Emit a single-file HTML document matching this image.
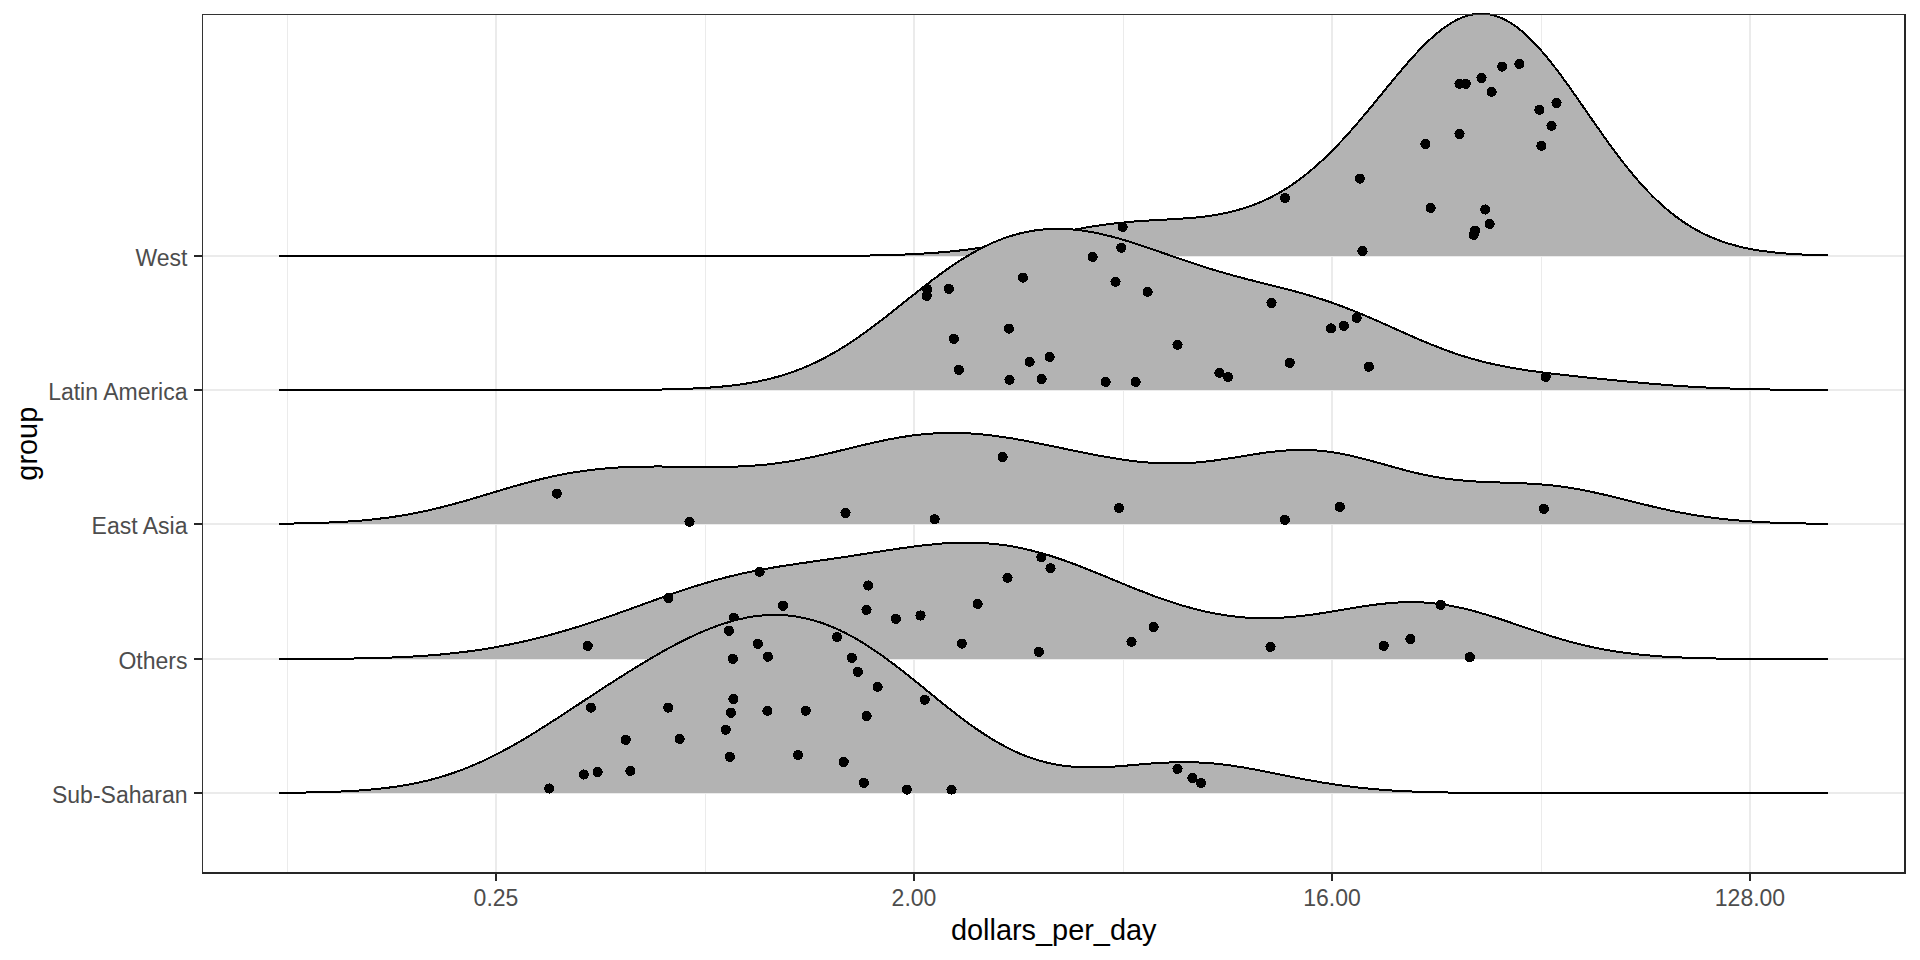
<!DOCTYPE html>
<html><head><meta charset="utf-8"><title>ridges</title>
<style>html,body{margin:0;padding:0;background:#fff;overflow:hidden;width:1920px;height:960px}svg{display:block}</style>
</head><body>
<svg width="1920" height="960" viewBox="0 0 1920 960">
<rect x="0" y="0" width="1920" height="960" fill="#FFFFFF"/>
<g fill="#EBEBEB" shape-rendering="crispEdges"><rect x="287.0" y="14" width="1" height="860"/><rect x="705.0" y="14" width="1" height="860"/><rect x="1123.0" y="14" width="1" height="860"/><rect x="1541.0" y="14" width="1" height="860"/><rect x="495" y="14" width="2" height="860"/><rect x="913" y="14" width="2" height="860"/><rect x="1331" y="14" width="2" height="860"/><rect x="1749" y="14" width="2" height="860"/><rect x="202" y="255" width="1704" height="2"/><rect x="202" y="389" width="1704" height="2"/><rect x="202" y="523" width="1704" height="2"/><rect x="202" y="658" width="1704" height="2"/><rect x="202" y="792" width="1704" height="2"/></g>
<path d="M279.3,256.0 L280.8,256.0 282.3,256.0 283.8,256.0 285.3,256.0 286.8,256.0 288.3,256.0 289.8,256.0 291.3,256.0 292.8,256.0 294.3,256.0 295.8,256.0 297.3,256.0 298.8,256.0 300.3,256.0 301.8,256.0 303.3,256.0 304.8,256.0 306.3,256.0 307.8,256.0 309.3,256.0 310.8,256.0 312.3,256.0 313.8,256.0 315.3,256.0 316.8,256.0 318.3,256.0 319.8,256.0 321.3,256.0 322.8,256.0 324.3,256.0 325.8,256.0 327.3,256.0 328.8,256.0 330.3,256.0 331.8,256.0 333.3,256.0 334.8,256.0 336.3,256.0 337.8,256.0 339.3,256.0 340.8,256.0 342.3,256.0 343.8,256.0 345.3,256.0 346.8,256.0 348.3,256.0 349.8,256.0 351.3,256.0 352.8,256.0 354.3,256.0 355.8,256.0 357.3,256.0 358.8,256.0 360.3,256.0 361.8,256.0 363.3,256.0 364.8,256.0 366.3,256.0 367.8,256.0 369.3,256.0 370.8,256.0 372.3,256.0 373.8,256.0 375.3,256.0 376.8,256.0 378.3,256.0 379.8,256.0 381.3,256.0 382.8,256.0 384.3,256.0 385.8,256.0 387.3,256.0 388.8,256.0 390.3,256.0 391.8,256.0 393.3,256.0 394.8,256.0 396.3,256.0 397.8,256.0 399.3,256.0 400.8,256.0 402.3,256.0 403.8,256.0 405.3,256.0 406.8,256.0 408.3,256.0 409.8,256.0 411.3,256.0 412.8,256.0 414.3,256.0 415.8,256.0 417.3,256.0 418.8,256.0 420.3,256.0 421.8,256.0 423.3,256.0 424.8,256.0 426.3,256.0 427.8,256.0 429.3,256.0 430.8,256.0 432.3,256.0 433.8,256.0 435.3,256.0 436.8,256.0 438.3,256.0 439.8,256.0 441.3,256.0 442.8,256.0 444.3,256.0 445.8,256.0 447.3,256.0 448.8,256.0 450.3,256.0 451.8,256.0 453.3,256.0 454.8,256.0 456.3,256.0 457.8,256.0 459.3,256.0 460.8,256.0 462.3,256.0 463.8,256.0 465.3,256.0 466.8,256.0 468.3,256.0 469.8,256.0 471.3,256.0 472.8,256.0 474.3,256.0 475.8,256.0 477.3,256.0 478.8,256.0 480.3,256.0 481.8,256.0 483.3,256.0 484.8,256.0 486.3,256.0 487.8,256.0 489.3,256.0 490.8,256.0 492.3,256.0 493.8,256.0 495.3,256.0 496.8,256.0 498.3,256.0 499.8,256.0 501.3,256.0 502.8,256.0 504.3,256.0 505.8,256.0 507.3,256.0 508.8,256.0 510.3,256.0 511.8,256.0 513.3,256.0 514.8,256.0 516.3,256.0 517.8,256.0 519.3,256.0 520.8,256.0 522.3,256.0 523.8,256.0 525.3,256.0 526.8,256.0 528.3,256.0 529.8,256.0 531.3,256.0 532.8,256.0 534.3,256.0 535.8,256.0 537.3,256.0 538.8,256.0 540.3,256.0 541.8,256.0 543.3,256.0 544.8,256.0 546.3,256.0 547.8,256.0 549.3,256.0 550.8,256.0 552.3,256.0 553.8,256.0 555.3,256.0 556.8,256.0 558.3,256.0 559.8,256.0 561.3,256.0 562.8,256.0 564.3,256.0 565.8,256.0 567.3,256.0 568.8,256.0 570.3,256.0 571.8,256.0 573.3,256.0 574.8,256.0 576.3,256.0 577.8,256.0 579.3,256.0 580.8,256.0 582.3,256.0 583.8,256.0 585.3,256.0 586.8,256.0 588.3,256.0 589.8,256.0 591.3,256.0 592.8,256.0 594.3,256.0 595.8,256.0 597.3,256.0 598.8,256.0 600.3,256.0 601.8,256.0 603.3,256.0 604.8,256.0 606.3,256.0 607.8,256.0 609.3,256.0 610.8,256.0 612.3,256.0 613.8,256.0 615.3,256.0 616.8,256.0 618.3,256.0 619.8,256.0 621.3,256.0 622.8,256.0 624.3,256.0 625.8,256.0 627.3,256.0 628.8,256.0 630.3,256.0 631.8,256.0 633.3,256.0 634.8,256.0 636.3,256.0 637.8,256.0 639.3,256.0 640.8,256.0 642.3,256.0 643.8,256.0 645.3,256.0 646.8,256.0 648.3,256.0 649.8,256.0 651.3,256.0 652.8,256.0 654.3,256.0 655.8,256.0 657.3,256.0 658.8,256.0 660.3,256.0 661.8,256.0 663.3,256.0 664.8,256.0 666.3,256.0 667.8,256.0 669.3,256.0 670.8,256.0 672.3,256.0 673.8,256.0 675.3,256.0 676.8,256.0 678.3,256.0 679.8,256.0 681.3,256.0 682.8,256.0 684.3,256.0 685.8,256.0 687.3,256.0 688.8,256.0 690.3,256.0 691.8,256.0 693.3,256.0 694.8,256.0 696.3,256.0 697.8,256.0 699.3,256.0 700.8,256.0 702.3,256.0 703.8,256.0 705.3,256.0 706.8,256.0 708.3,256.0 709.8,256.0 711.3,256.0 712.8,256.0 714.3,256.0 715.8,256.0 717.3,256.0 718.8,256.0 720.3,256.0 721.8,256.0 723.3,256.0 724.8,256.0 726.3,256.0 727.8,256.0 729.3,256.0 730.8,256.0 732.3,256.0 733.8,256.0 735.3,256.0 736.8,256.0 738.3,256.0 739.8,256.0 741.3,256.0 742.8,256.0 744.3,256.0 745.8,256.0 747.3,256.0 748.8,256.0 750.3,256.0 751.8,256.0 753.3,256.0 754.8,256.0 756.3,256.0 757.8,256.0 759.3,256.0 760.8,256.0 762.3,256.0 763.8,256.0 765.3,256.0 766.8,256.0 768.3,256.0 769.8,256.0 771.3,256.0 772.8,256.0 774.3,256.0 775.8,256.0 777.3,256.0 778.8,256.0 780.3,256.0 781.8,256.0 783.3,256.0 784.8,256.0 786.3,256.0 787.8,256.0 789.3,256.0 790.8,256.0 792.3,256.0 793.8,256.0 795.3,256.0 796.8,256.0 798.3,256.0 799.8,256.0 801.3,256.0 802.8,255.9 804.3,255.9 805.8,255.9 807.3,255.9 808.8,255.9 810.3,255.9 811.8,255.9 813.3,255.9 814.8,255.9 816.3,255.9 817.8,255.9 819.3,255.9 820.8,255.9 822.3,255.9 823.8,255.9 825.3,255.9 826.8,255.9 828.3,255.9 829.8,255.9 831.3,255.9 832.8,255.8 834.3,255.8 835.8,255.8 837.3,255.8 838.8,255.8 840.3,255.8 841.8,255.8 843.3,255.8 844.8,255.8 846.3,255.7 847.8,255.7 849.3,255.7 850.8,255.7 852.3,255.7 853.8,255.7 855.3,255.7 856.8,255.6 858.3,255.6 859.8,255.6 861.3,255.6 862.8,255.6 864.3,255.5 865.8,255.5 867.3,255.5 868.8,255.5 870.3,255.5 871.8,255.4 873.3,255.4 874.8,255.4 876.3,255.3 877.8,255.3 879.3,255.3 880.8,255.2 882.3,255.2 883.8,255.2 885.3,255.1 886.8,255.1 888.3,255.1 889.8,255.0 891.3,255.0 892.8,254.9 894.3,254.9 895.8,254.8 897.3,254.8 898.8,254.7 900.3,254.7 901.8,254.6 903.3,254.6 904.8,254.5 906.3,254.4 907.8,254.4 909.3,254.3 910.8,254.2 912.3,254.2 913.8,254.1 915.3,254.0 916.8,253.9 918.3,253.9 919.8,253.8 921.3,253.7 922.8,253.6 924.3,253.5 925.8,253.4 927.3,253.3 928.8,253.2 930.3,253.1 931.8,253.0 933.3,252.9 934.8,252.8 936.3,252.7 937.8,252.6 939.3,252.4 940.8,252.3 942.3,252.2 943.8,252.1 945.3,251.9 946.8,251.8 948.3,251.7 949.8,251.5 951.3,251.4 952.8,251.2 954.3,251.1 955.8,250.9 957.3,250.7 958.8,250.6 960.3,250.4 961.8,250.2 963.3,250.1 964.8,249.9 966.3,249.7 967.8,249.5 969.3,249.3 970.8,249.1 972.3,248.9 973.8,248.7 975.3,248.5 976.8,248.3 978.3,248.1 979.8,247.9 981.3,247.7 982.8,247.4 984.3,247.2 985.8,247.0 987.3,246.7 988.8,246.5 990.3,246.3 991.8,246.0 993.3,245.8 994.8,245.5 996.3,245.3 997.8,245.0 999.3,244.7 1000.8,244.5 1002.3,244.2 1003.8,243.9 1005.3,243.7 1006.8,243.4 1008.3,243.1 1009.8,242.8 1011.3,242.5 1012.8,242.2 1014.3,242.0 1015.8,241.7 1017.3,241.4 1018.8,241.1 1020.3,240.8 1021.8,240.5 1023.3,240.2 1024.8,239.9 1026.3,239.5 1027.8,239.2 1029.3,238.9 1030.8,238.6 1032.3,238.3 1033.8,238.0 1035.3,237.7 1036.8,237.4 1038.3,237.0 1039.8,236.7 1041.3,236.4 1042.8,236.1 1044.3,235.8 1045.8,235.5 1047.3,235.2 1048.8,234.8 1050.3,234.5 1051.8,234.2 1053.3,233.9 1054.8,233.6 1056.3,233.3 1057.8,233.0 1059.3,232.7 1060.8,232.4 1062.3,232.0 1063.8,231.7 1065.3,231.4 1066.8,231.1 1068.3,230.9 1069.8,230.6 1071.3,230.3 1072.8,230.0 1074.3,229.7 1075.8,229.4 1077.3,229.1 1078.8,228.9 1080.3,228.6 1081.8,228.3 1083.3,228.0 1084.8,227.8 1086.3,227.5 1087.8,227.3 1089.3,227.0 1090.8,226.8 1092.3,226.5 1093.8,226.3 1095.3,226.1 1096.8,225.8 1098.3,225.6 1099.8,225.4 1101.3,225.2 1102.8,225.0 1104.3,224.8 1105.8,224.5 1107.3,224.4 1108.8,224.2 1110.3,224.0 1111.8,223.8 1113.3,223.6 1114.8,223.4 1116.3,223.3 1117.8,223.1 1119.3,222.9 1120.8,222.8 1122.3,222.6 1123.8,222.5 1125.3,222.3 1126.8,222.2 1128.3,222.0 1129.8,221.9 1131.3,221.8 1132.8,221.7 1134.3,221.5 1135.8,221.4 1137.3,221.3 1138.8,221.2 1140.3,221.1 1141.8,221.0 1143.3,220.9 1144.8,220.8 1146.3,220.7 1147.8,220.6 1149.3,220.5 1150.8,220.4 1152.3,220.3 1153.8,220.2 1155.3,220.1 1156.8,220.1 1158.3,220.0 1159.8,219.9 1161.3,219.8 1162.8,219.7 1164.3,219.6 1165.8,219.6 1167.3,219.5 1168.8,219.4 1170.3,219.3 1171.8,219.2 1173.3,219.1 1174.8,219.0 1176.3,218.9 1177.8,218.9 1179.3,218.8 1180.8,218.7 1182.3,218.6 1183.8,218.4 1185.3,218.3 1186.8,218.2 1188.3,218.1 1189.8,218.0 1191.3,217.9 1192.8,217.7 1194.3,217.6 1195.8,217.5 1197.3,217.3 1198.8,217.2 1200.3,217.0 1201.8,216.8 1203.3,216.6 1204.8,216.5 1206.3,216.3 1207.8,216.1 1209.3,215.9 1210.8,215.7 1212.3,215.4 1213.8,215.2 1215.3,215.0 1216.8,214.7 1218.3,214.5 1219.8,214.2 1221.3,213.9 1222.8,213.6 1224.3,213.3 1225.8,213.0 1227.3,212.7 1228.8,212.3 1230.3,212.0 1231.8,211.6 1233.3,211.3 1234.8,210.9 1236.3,210.5 1237.8,210.1 1239.3,209.6 1240.8,209.2 1242.3,208.8 1243.8,208.3 1245.3,207.8 1246.8,207.3 1248.3,206.8 1249.8,206.3 1251.3,205.7 1252.8,205.2 1254.3,204.6 1255.8,204.0 1257.3,203.4 1258.8,202.8 1260.3,202.2 1261.8,201.5 1263.3,200.9 1264.8,200.2 1266.3,199.5 1267.8,198.8 1269.3,198.0 1270.8,197.3 1272.3,196.5 1273.8,195.7 1275.3,194.9 1276.8,194.1 1278.3,193.3 1279.8,192.4 1281.3,191.5 1282.8,190.6 1284.3,189.7 1285.8,188.8 1287.3,187.8 1288.8,186.9 1290.3,185.9 1291.8,184.9 1293.3,183.8 1294.8,182.8 1296.3,181.7 1297.8,180.6 1299.3,179.5 1300.8,178.4 1302.3,177.3 1303.8,176.1 1305.3,175.0 1306.8,173.8 1308.3,172.5 1309.8,171.3 1311.3,170.1 1312.8,168.8 1314.3,167.5 1315.8,166.2 1317.3,164.9 1318.8,163.5 1320.3,162.1 1321.8,160.8 1323.3,159.4 1324.8,157.9 1326.3,156.5 1327.8,155.1 1329.3,153.6 1330.8,152.1 1332.3,150.6 1333.8,149.1 1335.3,147.5 1336.8,146.0 1338.3,144.4 1339.8,142.8 1341.3,141.2 1342.8,139.6 1344.3,138.0 1345.8,136.3 1347.3,134.7 1348.8,133.0 1350.3,131.3 1351.8,129.6 1353.3,127.9 1354.8,126.2 1356.3,124.5 1357.8,122.7 1359.3,121.0 1360.8,119.2 1362.3,117.4 1363.8,115.6 1365.3,113.9 1366.8,112.1 1368.3,110.3 1369.8,108.4 1371.3,106.6 1372.8,104.8 1374.3,103.0 1375.8,101.2 1377.3,99.3 1378.8,97.5 1380.3,95.7 1381.8,93.8 1383.3,92.0 1384.8,90.1 1386.3,88.3 1387.8,86.5 1389.3,84.6 1390.8,82.8 1392.3,81.0 1393.8,79.2 1395.3,77.4 1396.8,75.6 1398.3,73.8 1399.8,72.0 1401.3,70.2 1402.8,68.5 1404.3,66.7 1405.8,65.0 1407.3,63.2 1408.8,61.5 1410.3,59.8 1411.8,58.2 1413.3,56.5 1414.8,54.9 1416.3,53.2 1417.8,51.6 1419.3,50.1 1420.8,48.5 1422.3,47.0 1423.8,45.4 1425.3,44.0 1426.8,42.5 1428.3,41.1 1429.8,39.6 1431.3,38.3 1432.8,36.9 1434.3,35.6 1435.8,34.3 1437.3,33.0 1438.8,31.8 1440.3,30.6 1441.8,29.5 1443.3,28.3 1444.8,27.3 1446.3,26.2 1447.8,25.2 1449.3,24.2 1450.8,23.3 1452.3,22.4 1453.8,21.5 1455.3,20.7 1456.8,19.9 1458.3,19.2 1459.8,18.5 1461.3,17.9 1462.8,17.3 1464.3,16.7 1465.8,16.2 1467.3,15.8 1468.8,15.3 1470.3,15.0 1471.8,14.6 1473.3,14.4 1474.8,14.1 1476.3,13.9 1477.8,13.8 1479.3,13.7 1480.8,13.7 1482.3,13.7 1483.8,13.8 1485.3,13.9 1486.8,14.0 1488.3,14.2 1489.8,14.5 1491.3,14.8 1492.8,15.1 1494.3,15.5 1495.8,16.0 1497.3,16.5 1498.8,17.0 1500.3,17.6 1501.8,18.2 1503.3,18.9 1504.8,19.7 1506.3,20.4 1507.8,21.3 1509.3,22.1 1510.8,23.1 1512.3,24.0 1513.8,25.0 1515.3,26.1 1516.8,27.2 1518.3,28.3 1519.8,29.5 1521.3,30.7 1522.8,32.0 1524.3,33.3 1525.8,34.6 1527.3,36.0 1528.8,37.4 1530.3,38.9 1531.8,40.4 1533.3,41.9 1534.8,43.5 1536.3,45.1 1537.8,46.7 1539.3,48.4 1540.8,50.1 1542.3,51.8 1543.8,53.5 1545.3,55.3 1546.8,57.1 1548.3,59.0 1549.8,60.8 1551.3,62.7 1552.8,64.6 1554.3,66.6 1555.8,68.5 1557.3,70.5 1558.8,72.5 1560.3,74.5 1561.8,76.5 1563.3,78.6 1564.8,80.6 1566.3,82.7 1567.8,84.8 1569.3,86.9 1570.8,89.0 1572.3,91.1 1573.8,93.3 1575.3,95.4 1576.8,97.6 1578.3,99.7 1579.8,101.9 1581.3,104.0 1582.8,106.2 1584.3,108.4 1585.8,110.5 1587.3,112.7 1588.8,114.9 1590.3,117.0 1591.8,119.2 1593.3,121.4 1594.8,123.5 1596.3,125.7 1597.8,127.8 1599.3,129.9 1600.8,132.1 1602.3,134.2 1603.8,136.3 1605.3,138.4 1606.8,140.5 1608.3,142.6 1609.8,144.6 1611.3,146.7 1612.8,148.7 1614.3,150.8 1615.8,152.8 1617.3,154.8 1618.8,156.8 1620.3,158.7 1621.8,160.7 1623.3,162.6 1624.8,164.5 1626.3,166.4 1627.8,168.3 1629.3,170.1 1630.8,172.0 1632.3,173.8 1633.8,175.6 1635.3,177.3 1636.8,179.1 1638.3,180.8 1639.8,182.5 1641.3,184.2 1642.8,185.9 1644.3,187.5 1645.8,189.1 1647.3,190.7 1648.8,192.3 1650.3,193.8 1651.8,195.4 1653.3,196.9 1654.8,198.3 1656.3,199.8 1657.8,201.2 1659.3,202.6 1660.8,204.0 1662.3,205.4 1663.8,206.7 1665.3,208.0 1666.8,209.3 1668.3,210.6 1669.8,211.8 1671.3,213.0 1672.8,214.2 1674.3,215.4 1675.8,216.5 1677.3,217.6 1678.8,218.7 1680.3,219.8 1681.8,220.9 1683.3,221.9 1684.8,222.9 1686.3,223.9 1687.8,224.8 1689.3,225.8 1690.8,226.7 1692.3,227.6 1693.8,228.5 1695.3,229.3 1696.8,230.2 1698.3,231.0 1699.8,231.8 1701.3,232.6 1702.8,233.3 1704.3,234.1 1705.8,234.8 1707.3,235.5 1708.8,236.2 1710.3,236.8 1711.8,237.5 1713.3,238.1 1714.8,238.7 1716.3,239.3 1717.8,239.9 1719.3,240.4 1720.8,241.0 1722.3,241.5 1723.8,242.0 1725.3,242.5 1726.8,243.0 1728.3,243.5 1729.8,243.9 1731.3,244.4 1732.8,244.8 1734.3,245.2 1735.8,245.6 1737.3,246.0 1738.8,246.4 1740.3,246.8 1741.8,247.1 1743.3,247.5 1744.8,247.8 1746.3,248.1 1747.8,248.4 1749.3,248.7 1750.8,249.0 1752.3,249.3 1753.8,249.6 1755.3,249.8 1756.8,250.1 1758.3,250.3 1759.8,250.6 1761.3,250.8 1762.8,251.0 1764.3,251.2 1765.8,251.4 1767.3,251.6 1768.8,251.8 1770.3,252.0 1771.8,252.1 1773.3,252.3 1774.8,252.5 1776.3,252.6 1777.8,252.8 1779.3,252.9 1780.8,253.1 1782.3,253.2 1783.8,253.3 1785.3,253.4 1786.8,253.6 1788.3,253.7 1789.8,253.8 1791.3,253.9 1792.8,254.0 1794.3,254.1 1795.8,254.2 1797.3,254.2 1798.8,254.3 1800.3,254.4 1801.8,254.5 1803.3,254.6 1804.8,254.6 1806.3,254.7 1807.8,254.8 1809.3,254.8 1810.8,254.9 1812.3,254.9 1813.8,255.0 1815.3,255.0 1816.8,255.1 1818.3,255.1 1819.8,255.2 1821.3,255.2 1822.8,255.3 1824.3,255.3 1825.8,255.3 1827.3,255.4 1828.2,255.4 L1828.2,256 L279.3,256 Z" fill="#B3B3B3" stroke="none" shape-rendering="crispEdges"/>
<path d="M279.3,256.0 L280.8,256.0 282.3,256.0 283.8,256.0 285.3,256.0 286.8,256.0 288.3,256.0 289.8,256.0 291.3,256.0 292.8,256.0 294.3,256.0 295.8,256.0 297.3,256.0 298.8,256.0 300.3,256.0 301.8,256.0 303.3,256.0 304.8,256.0 306.3,256.0 307.8,256.0 309.3,256.0 310.8,256.0 312.3,256.0 313.8,256.0 315.3,256.0 316.8,256.0 318.3,256.0 319.8,256.0 321.3,256.0 322.8,256.0 324.3,256.0 325.8,256.0 327.3,256.0 328.8,256.0 330.3,256.0 331.8,256.0 333.3,256.0 334.8,256.0 336.3,256.0 337.8,256.0 339.3,256.0 340.8,256.0 342.3,256.0 343.8,256.0 345.3,256.0 346.8,256.0 348.3,256.0 349.8,256.0 351.3,256.0 352.8,256.0 354.3,256.0 355.8,256.0 357.3,256.0 358.8,256.0 360.3,256.0 361.8,256.0 363.3,256.0 364.8,256.0 366.3,256.0 367.8,256.0 369.3,256.0 370.8,256.0 372.3,256.0 373.8,256.0 375.3,256.0 376.8,256.0 378.3,256.0 379.8,256.0 381.3,256.0 382.8,256.0 384.3,256.0 385.8,256.0 387.3,256.0 388.8,256.0 390.3,256.0 391.8,256.0 393.3,256.0 394.8,256.0 396.3,256.0 397.8,256.0 399.3,256.0 400.8,256.0 402.3,256.0 403.8,256.0 405.3,256.0 406.8,256.0 408.3,256.0 409.8,256.0 411.3,256.0 412.8,256.0 414.3,256.0 415.8,256.0 417.3,256.0 418.8,256.0 420.3,256.0 421.8,256.0 423.3,256.0 424.8,256.0 426.3,256.0 427.8,256.0 429.3,256.0 430.8,256.0 432.3,256.0 433.8,256.0 435.3,256.0 436.8,256.0 438.3,256.0 439.8,256.0 441.3,256.0 442.8,256.0 444.3,256.0 445.8,256.0 447.3,256.0 448.8,256.0 450.3,256.0 451.8,256.0 453.3,256.0 454.8,256.0 456.3,256.0 457.8,256.0 459.3,256.0 460.8,256.0 462.3,256.0 463.8,256.0 465.3,256.0 466.8,256.0 468.3,256.0 469.8,256.0 471.3,256.0 472.8,256.0 474.3,256.0 475.8,256.0 477.3,256.0 478.8,256.0 480.3,256.0 481.8,256.0 483.3,256.0 484.8,256.0 486.3,256.0 487.8,256.0 489.3,256.0 490.8,256.0 492.3,256.0 493.8,256.0 495.3,256.0 496.8,256.0 498.3,256.0 499.8,256.0 501.3,256.0 502.8,256.0 504.3,256.0 505.8,256.0 507.3,256.0 508.8,256.0 510.3,256.0 511.8,256.0 513.3,256.0 514.8,256.0 516.3,256.0 517.8,256.0 519.3,256.0 520.8,256.0 522.3,256.0 523.8,256.0 525.3,256.0 526.8,256.0 528.3,256.0 529.8,256.0 531.3,256.0 532.8,256.0 534.3,256.0 535.8,256.0 537.3,256.0 538.8,256.0 540.3,256.0 541.8,256.0 543.3,256.0 544.8,256.0 546.3,256.0 547.8,256.0 549.3,256.0 550.8,256.0 552.3,256.0 553.8,256.0 555.3,256.0 556.8,256.0 558.3,256.0 559.8,256.0 561.3,256.0 562.8,256.0 564.3,256.0 565.8,256.0 567.3,256.0 568.8,256.0 570.3,256.0 571.8,256.0 573.3,256.0 574.8,256.0 576.3,256.0 577.8,256.0 579.3,256.0 580.8,256.0 582.3,256.0 583.8,256.0 585.3,256.0 586.8,256.0 588.3,256.0 589.8,256.0 591.3,256.0 592.8,256.0 594.3,256.0 595.8,256.0 597.3,256.0 598.8,256.0 600.3,256.0 601.8,256.0 603.3,256.0 604.8,256.0 606.3,256.0 607.8,256.0 609.3,256.0 610.8,256.0 612.3,256.0 613.8,256.0 615.3,256.0 616.8,256.0 618.3,256.0 619.8,256.0 621.3,256.0 622.8,256.0 624.3,256.0 625.8,256.0 627.3,256.0 628.8,256.0 630.3,256.0 631.8,256.0 633.3,256.0 634.8,256.0 636.3,256.0 637.8,256.0 639.3,256.0 640.8,256.0 642.3,256.0 643.8,256.0 645.3,256.0 646.8,256.0 648.3,256.0 649.8,256.0 651.3,256.0 652.8,256.0 654.3,256.0 655.8,256.0 657.3,256.0 658.8,256.0 660.3,256.0 661.8,256.0 663.3,256.0 664.8,256.0 666.3,256.0 667.8,256.0 669.3,256.0 670.8,256.0 672.3,256.0 673.8,256.0 675.3,256.0 676.8,256.0 678.3,256.0 679.8,256.0 681.3,256.0 682.8,256.0 684.3,256.0 685.8,256.0 687.3,256.0 688.8,256.0 690.3,256.0 691.8,256.0 693.3,256.0 694.8,256.0 696.3,256.0 697.8,256.0 699.3,256.0 700.8,256.0 702.3,256.0 703.8,256.0 705.3,256.0 706.8,256.0 708.3,256.0 709.8,256.0 711.3,256.0 712.8,256.0 714.3,256.0 715.8,256.0 717.3,256.0 718.8,256.0 720.3,256.0 721.8,256.0 723.3,256.0 724.8,256.0 726.3,256.0 727.8,256.0 729.3,256.0 730.8,256.0 732.3,256.0 733.8,256.0 735.3,256.0 736.8,256.0 738.3,256.0 739.8,256.0 741.3,256.0 742.8,256.0 744.3,256.0 745.8,256.0 747.3,256.0 748.8,256.0 750.3,256.0 751.8,256.0 753.3,256.0 754.8,256.0 756.3,256.0 757.8,256.0 759.3,256.0 760.8,256.0 762.3,256.0 763.8,256.0 765.3,256.0 766.8,256.0 768.3,256.0 769.8,256.0 771.3,256.0 772.8,256.0 774.3,256.0 775.8,256.0 777.3,256.0 778.8,256.0 780.3,256.0 781.8,256.0 783.3,256.0 784.8,256.0 786.3,256.0 787.8,256.0 789.3,256.0 790.8,256.0 792.3,256.0 793.8,256.0 795.3,256.0 796.8,256.0 798.3,256.0 799.8,256.0 801.3,256.0 802.8,255.9 804.3,255.9 805.8,255.9 807.3,255.9 808.8,255.9 810.3,255.9 811.8,255.9 813.3,255.9 814.8,255.9 816.3,255.9 817.8,255.9 819.3,255.9 820.8,255.9 822.3,255.9 823.8,255.9 825.3,255.9 826.8,255.9 828.3,255.9 829.8,255.9 831.3,255.9 832.8,255.8 834.3,255.8 835.8,255.8 837.3,255.8 838.8,255.8 840.3,255.8 841.8,255.8 843.3,255.8 844.8,255.8 846.3,255.7 847.8,255.7 849.3,255.7 850.8,255.7 852.3,255.7 853.8,255.7 855.3,255.7 856.8,255.6 858.3,255.6 859.8,255.6 861.3,255.6 862.8,255.6 864.3,255.5 865.8,255.5 867.3,255.5 868.8,255.5 870.3,255.5 871.8,255.4 873.3,255.4 874.8,255.4 876.3,255.3 877.8,255.3 879.3,255.3 880.8,255.2 882.3,255.2 883.8,255.2 885.3,255.1 886.8,255.1 888.3,255.1 889.8,255.0 891.3,255.0 892.8,254.9 894.3,254.9 895.8,254.8 897.3,254.8 898.8,254.7 900.3,254.7 901.8,254.6 903.3,254.6 904.8,254.5 906.3,254.4 907.8,254.4 909.3,254.3 910.8,254.2 912.3,254.2 913.8,254.1 915.3,254.0 916.8,253.9 918.3,253.9 919.8,253.8 921.3,253.7 922.8,253.6 924.3,253.5 925.8,253.4 927.3,253.3 928.8,253.2 930.3,253.1 931.8,253.0 933.3,252.9 934.8,252.8 936.3,252.7 937.8,252.6 939.3,252.4 940.8,252.3 942.3,252.2 943.8,252.1 945.3,251.9 946.8,251.8 948.3,251.7 949.8,251.5 951.3,251.4 952.8,251.2 954.3,251.1 955.8,250.9 957.3,250.7 958.8,250.6 960.3,250.4 961.8,250.2 963.3,250.1 964.8,249.9 966.3,249.7 967.8,249.5 969.3,249.3 970.8,249.1 972.3,248.9 973.8,248.7 975.3,248.5 976.8,248.3 978.3,248.1 979.8,247.9 981.3,247.7 982.8,247.4 984.3,247.2 985.8,247.0 987.3,246.7 988.8,246.5 990.3,246.3 991.8,246.0 993.3,245.8 994.8,245.5 996.3,245.3 997.8,245.0 999.3,244.7 1000.8,244.5 1002.3,244.2 1003.8,243.9 1005.3,243.7 1006.8,243.4 1008.3,243.1 1009.8,242.8 1011.3,242.5 1012.8,242.2 1014.3,242.0 1015.8,241.7 1017.3,241.4 1018.8,241.1 1020.3,240.8 1021.8,240.5 1023.3,240.2 1024.8,239.9 1026.3,239.5 1027.8,239.2 1029.3,238.9 1030.8,238.6 1032.3,238.3 1033.8,238.0 1035.3,237.7 1036.8,237.4 1038.3,237.0 1039.8,236.7 1041.3,236.4 1042.8,236.1 1044.3,235.8 1045.8,235.5 1047.3,235.2 1048.8,234.8 1050.3,234.5 1051.8,234.2 1053.3,233.9 1054.8,233.6 1056.3,233.3 1057.8,233.0 1059.3,232.7 1060.8,232.4 1062.3,232.0 1063.8,231.7 1065.3,231.4 1066.8,231.1 1068.3,230.9 1069.8,230.6 1071.3,230.3 1072.8,230.0 1074.3,229.7 1075.8,229.4 1077.3,229.1 1078.8,228.9 1080.3,228.6 1081.8,228.3 1083.3,228.0 1084.8,227.8 1086.3,227.5 1087.8,227.3 1089.3,227.0 1090.8,226.8 1092.3,226.5 1093.8,226.3 1095.3,226.1 1096.8,225.8 1098.3,225.6 1099.8,225.4 1101.3,225.2 1102.8,225.0 1104.3,224.8 1105.8,224.5 1107.3,224.4 1108.8,224.2 1110.3,224.0 1111.8,223.8 1113.3,223.6 1114.8,223.4 1116.3,223.3 1117.8,223.1 1119.3,222.9 1120.8,222.8 1122.3,222.6 1123.8,222.5 1125.3,222.3 1126.8,222.2 1128.3,222.0 1129.8,221.9 1131.3,221.8 1132.8,221.7 1134.3,221.5 1135.8,221.4 1137.3,221.3 1138.8,221.2 1140.3,221.1 1141.8,221.0 1143.3,220.9 1144.8,220.8 1146.3,220.7 1147.8,220.6 1149.3,220.5 1150.8,220.4 1152.3,220.3 1153.8,220.2 1155.3,220.1 1156.8,220.1 1158.3,220.0 1159.8,219.9 1161.3,219.8 1162.8,219.7 1164.3,219.6 1165.8,219.6 1167.3,219.5 1168.8,219.4 1170.3,219.3 1171.8,219.2 1173.3,219.1 1174.8,219.0 1176.3,218.9 1177.8,218.9 1179.3,218.8 1180.8,218.7 1182.3,218.6 1183.8,218.4 1185.3,218.3 1186.8,218.2 1188.3,218.1 1189.8,218.0 1191.3,217.9 1192.8,217.7 1194.3,217.6 1195.8,217.5 1197.3,217.3 1198.8,217.2 1200.3,217.0 1201.8,216.8 1203.3,216.6 1204.8,216.5 1206.3,216.3 1207.8,216.1 1209.3,215.9 1210.8,215.7 1212.3,215.4 1213.8,215.2 1215.3,215.0 1216.8,214.7 1218.3,214.5 1219.8,214.2 1221.3,213.9 1222.8,213.6 1224.3,213.3 1225.8,213.0 1227.3,212.7 1228.8,212.3 1230.3,212.0 1231.8,211.6 1233.3,211.3 1234.8,210.9 1236.3,210.5 1237.8,210.1 1239.3,209.6 1240.8,209.2 1242.3,208.8 1243.8,208.3 1245.3,207.8 1246.8,207.3 1248.3,206.8 1249.8,206.3 1251.3,205.7 1252.8,205.2 1254.3,204.6 1255.8,204.0 1257.3,203.4 1258.8,202.8 1260.3,202.2 1261.8,201.5 1263.3,200.9 1264.8,200.2 1266.3,199.5 1267.8,198.8 1269.3,198.0 1270.8,197.3 1272.3,196.5 1273.8,195.7 1275.3,194.9 1276.8,194.1 1278.3,193.3 1279.8,192.4 1281.3,191.5 1282.8,190.6 1284.3,189.7 1285.8,188.8 1287.3,187.8 1288.8,186.9 1290.3,185.9 1291.8,184.9 1293.3,183.8 1294.8,182.8 1296.3,181.7 1297.8,180.6 1299.3,179.5 1300.8,178.4 1302.3,177.3 1303.8,176.1 1305.3,175.0 1306.8,173.8 1308.3,172.5 1309.8,171.3 1311.3,170.1 1312.8,168.8 1314.3,167.5 1315.8,166.2 1317.3,164.9 1318.8,163.5 1320.3,162.1 1321.8,160.8 1323.3,159.4 1324.8,157.9 1326.3,156.5 1327.8,155.1 1329.3,153.6 1330.8,152.1 1332.3,150.6 1333.8,149.1 1335.3,147.5 1336.8,146.0 1338.3,144.4 1339.8,142.8 1341.3,141.2 1342.8,139.6 1344.3,138.0 1345.8,136.3 1347.3,134.7 1348.8,133.0 1350.3,131.3 1351.8,129.6 1353.3,127.9 1354.8,126.2 1356.3,124.5 1357.8,122.7 1359.3,121.0 1360.8,119.2 1362.3,117.4 1363.8,115.6 1365.3,113.9 1366.8,112.1 1368.3,110.3 1369.8,108.4 1371.3,106.6 1372.8,104.8 1374.3,103.0 1375.8,101.2 1377.3,99.3 1378.8,97.5 1380.3,95.7 1381.8,93.8 1383.3,92.0 1384.8,90.1 1386.3,88.3 1387.8,86.5 1389.3,84.6 1390.8,82.8 1392.3,81.0 1393.8,79.2 1395.3,77.4 1396.8,75.6 1398.3,73.8 1399.8,72.0 1401.3,70.2 1402.8,68.5 1404.3,66.7 1405.8,65.0 1407.3,63.2 1408.8,61.5 1410.3,59.8 1411.8,58.2 1413.3,56.5 1414.8,54.9 1416.3,53.2 1417.8,51.6 1419.3,50.1 1420.8,48.5 1422.3,47.0 1423.8,45.4 1425.3,44.0 1426.8,42.5 1428.3,41.1 1429.8,39.6 1431.3,38.3 1432.8,36.9 1434.3,35.6 1435.8,34.3 1437.3,33.0 1438.8,31.8 1440.3,30.6 1441.8,29.5 1443.3,28.3 1444.8,27.3 1446.3,26.2 1447.8,25.2 1449.3,24.2 1450.8,23.3 1452.3,22.4 1453.8,21.5 1455.3,20.7 1456.8,19.9 1458.3,19.2 1459.8,18.5 1461.3,17.9 1462.8,17.3 1464.3,16.7 1465.8,16.2 1467.3,15.8 1468.8,15.3 1470.3,15.0 1471.8,14.6 1473.3,14.4 1474.8,14.1 1476.3,13.9 1477.8,13.8 1479.3,13.7 1480.8,13.7 1482.3,13.7 1483.8,13.8 1485.3,13.9 1486.8,14.0 1488.3,14.2 1489.8,14.5 1491.3,14.8 1492.8,15.1 1494.3,15.5 1495.8,16.0 1497.3,16.5 1498.8,17.0 1500.3,17.6 1501.8,18.2 1503.3,18.9 1504.8,19.7 1506.3,20.4 1507.8,21.3 1509.3,22.1 1510.8,23.1 1512.3,24.0 1513.8,25.0 1515.3,26.1 1516.8,27.2 1518.3,28.3 1519.8,29.5 1521.3,30.7 1522.8,32.0 1524.3,33.3 1525.8,34.6 1527.3,36.0 1528.8,37.4 1530.3,38.9 1531.8,40.4 1533.3,41.9 1534.8,43.5 1536.3,45.1 1537.8,46.7 1539.3,48.4 1540.8,50.1 1542.3,51.8 1543.8,53.5 1545.3,55.3 1546.8,57.1 1548.3,59.0 1549.8,60.8 1551.3,62.7 1552.8,64.6 1554.3,66.6 1555.8,68.5 1557.3,70.5 1558.8,72.5 1560.3,74.5 1561.8,76.5 1563.3,78.6 1564.8,80.6 1566.3,82.7 1567.8,84.8 1569.3,86.9 1570.8,89.0 1572.3,91.1 1573.8,93.3 1575.3,95.4 1576.8,97.6 1578.3,99.7 1579.8,101.9 1581.3,104.0 1582.8,106.2 1584.3,108.4 1585.8,110.5 1587.3,112.7 1588.8,114.9 1590.3,117.0 1591.8,119.2 1593.3,121.4 1594.8,123.5 1596.3,125.7 1597.8,127.8 1599.3,129.9 1600.8,132.1 1602.3,134.2 1603.8,136.3 1605.3,138.4 1606.8,140.5 1608.3,142.6 1609.8,144.6 1611.3,146.7 1612.8,148.7 1614.3,150.8 1615.8,152.8 1617.3,154.8 1618.8,156.8 1620.3,158.7 1621.8,160.7 1623.3,162.6 1624.8,164.5 1626.3,166.4 1627.8,168.3 1629.3,170.1 1630.8,172.0 1632.3,173.8 1633.8,175.6 1635.3,177.3 1636.8,179.1 1638.3,180.8 1639.8,182.5 1641.3,184.2 1642.8,185.9 1644.3,187.5 1645.8,189.1 1647.3,190.7 1648.8,192.3 1650.3,193.8 1651.8,195.4 1653.3,196.9 1654.8,198.3 1656.3,199.8 1657.8,201.2 1659.3,202.6 1660.8,204.0 1662.3,205.4 1663.8,206.7 1665.3,208.0 1666.8,209.3 1668.3,210.6 1669.8,211.8 1671.3,213.0 1672.8,214.2 1674.3,215.4 1675.8,216.5 1677.3,217.6 1678.8,218.7 1680.3,219.8 1681.8,220.9 1683.3,221.9 1684.8,222.9 1686.3,223.9 1687.8,224.8 1689.3,225.8 1690.8,226.7 1692.3,227.6 1693.8,228.5 1695.3,229.3 1696.8,230.2 1698.3,231.0 1699.8,231.8 1701.3,232.6 1702.8,233.3 1704.3,234.1 1705.8,234.8 1707.3,235.5 1708.8,236.2 1710.3,236.8 1711.8,237.5 1713.3,238.1 1714.8,238.7 1716.3,239.3 1717.8,239.9 1719.3,240.4 1720.8,241.0 1722.3,241.5 1723.8,242.0 1725.3,242.5 1726.8,243.0 1728.3,243.5 1729.8,243.9 1731.3,244.4 1732.8,244.8 1734.3,245.2 1735.8,245.6 1737.3,246.0 1738.8,246.4 1740.3,246.8 1741.8,247.1 1743.3,247.5 1744.8,247.8 1746.3,248.1 1747.8,248.4 1749.3,248.7 1750.8,249.0 1752.3,249.3 1753.8,249.6 1755.3,249.8 1756.8,250.1 1758.3,250.3 1759.8,250.6 1761.3,250.8 1762.8,251.0 1764.3,251.2 1765.8,251.4 1767.3,251.6 1768.8,251.8 1770.3,252.0 1771.8,252.1 1773.3,252.3 1774.8,252.5 1776.3,252.6 1777.8,252.8 1779.3,252.9 1780.8,253.1 1782.3,253.2 1783.8,253.3 1785.3,253.4 1786.8,253.6 1788.3,253.7 1789.8,253.8 1791.3,253.9 1792.8,254.0 1794.3,254.1 1795.8,254.2 1797.3,254.2 1798.8,254.3 1800.3,254.4 1801.8,254.5 1803.3,254.6 1804.8,254.6 1806.3,254.7 1807.8,254.8 1809.3,254.8 1810.8,254.9 1812.3,254.9 1813.8,255.0 1815.3,255.0 1816.8,255.1 1818.3,255.1 1819.8,255.2 1821.3,255.2 1822.8,255.3 1824.3,255.3 1825.8,255.3 1827.3,255.4 1828.2,255.4" fill="none" stroke="#000000" stroke-width="2" stroke-linejoin="round" shape-rendering="crispEdges"/>
<g fill="#000000" shape-rendering="crispEdges"><circle cx="1502.3" cy="66.6" r="5.1"/><circle cx="1519.4" cy="63.8" r="5.1"/><circle cx="1481.5" cy="77.9" r="5.1"/><circle cx="1459.5" cy="83.8" r="5.1"/><circle cx="1465.7" cy="83.8" r="5.1"/><circle cx="1491.6" cy="91.7" r="5.1"/><circle cx="1556.5" cy="102.9" r="5.1"/><circle cx="1539.4" cy="109.7" r="5.1"/><circle cx="1551.5" cy="125.7" r="5.1"/><circle cx="1459.5" cy="133.9" r="5.1"/><circle cx="1425.5" cy="144.0" r="5.1"/><circle cx="1541.4" cy="145.7" r="5.1"/><circle cx="1359.7" cy="178.6" r="5.1"/><circle cx="1430.6" cy="207.8" r="5.1"/><circle cx="1485.4" cy="209.5" r="5.1"/><circle cx="1489.6" cy="223.8" r="5.1"/><circle cx="1475.0" cy="230.6" r="5.1"/><circle cx="1473.6" cy="234.8" r="5.1"/><circle cx="1362.5" cy="251.1" r="5.1"/><circle cx="1285.0" cy="198.0" r="5.1"/><circle cx="1122.6" cy="226.8" r="5.1"/></g>
<path d="M279.3,390.0 L280.8,390.0 282.3,390.0 283.8,390.0 285.3,390.0 286.8,390.0 288.3,390.0 289.8,390.0 291.3,390.0 292.8,390.0 294.3,390.0 295.8,390.0 297.3,390.0 298.8,390.0 300.3,390.0 301.8,390.0 303.3,390.0 304.8,390.0 306.3,390.0 307.8,390.0 309.3,390.0 310.8,390.0 312.3,390.0 313.8,390.0 315.3,390.0 316.8,390.0 318.3,390.0 319.8,390.0 321.3,390.0 322.8,390.0 324.3,390.0 325.8,390.0 327.3,390.0 328.8,390.0 330.3,390.0 331.8,390.0 333.3,390.0 334.8,390.0 336.3,390.0 337.8,390.0 339.3,390.0 340.8,390.0 342.3,390.0 343.8,390.0 345.3,390.0 346.8,390.0 348.3,390.0 349.8,390.0 351.3,390.0 352.8,390.0 354.3,390.0 355.8,390.0 357.3,390.0 358.8,390.0 360.3,390.0 361.8,390.0 363.3,390.0 364.8,390.0 366.3,390.0 367.8,390.0 369.3,390.0 370.8,390.0 372.3,390.0 373.8,390.0 375.3,390.0 376.8,390.0 378.3,390.0 379.8,390.0 381.3,390.0 382.8,390.0 384.3,390.0 385.8,390.0 387.3,390.0 388.8,390.0 390.3,390.0 391.8,390.0 393.3,390.0 394.8,390.0 396.3,390.0 397.8,390.0 399.3,390.0 400.8,390.0 402.3,390.0 403.8,390.0 405.3,390.0 406.8,390.0 408.3,390.0 409.8,390.0 411.3,390.0 412.8,390.0 414.3,390.0 415.8,390.0 417.3,390.0 418.8,390.0 420.3,390.0 421.8,390.0 423.3,390.0 424.8,390.0 426.3,390.0 427.8,390.0 429.3,390.0 430.8,390.0 432.3,390.0 433.8,390.0 435.3,390.0 436.8,390.0 438.3,390.0 439.8,390.0 441.3,390.0 442.8,390.0 444.3,390.0 445.8,390.0 447.3,390.0 448.8,390.0 450.3,390.0 451.8,390.0 453.3,390.0 454.8,390.0 456.3,390.0 457.8,390.0 459.3,390.0 460.8,390.0 462.3,390.0 463.8,390.0 465.3,390.0 466.8,390.0 468.3,390.0 469.8,390.0 471.3,390.0 472.8,390.0 474.3,390.0 475.8,390.0 477.3,390.0 478.8,390.0 480.3,390.0 481.8,390.0 483.3,390.0 484.8,390.0 486.3,390.0 487.8,390.0 489.3,390.0 490.8,390.0 492.3,390.0 493.8,390.0 495.3,390.0 496.8,390.0 498.3,390.0 499.8,390.0 501.3,390.0 502.8,390.0 504.3,390.0 505.8,390.0 507.3,390.0 508.8,390.0 510.3,390.0 511.8,390.0 513.3,390.0 514.8,390.0 516.3,390.0 517.8,390.0 519.3,390.0 520.8,390.0 522.3,390.0 523.8,390.0 525.3,390.0 526.8,390.0 528.3,390.0 529.8,390.0 531.3,390.0 532.8,390.0 534.3,390.0 535.8,390.0 537.3,390.0 538.8,390.0 540.3,390.0 541.8,390.0 543.3,390.0 544.8,390.0 546.3,390.0 547.8,390.0 549.3,390.0 550.8,390.0 552.3,390.0 553.8,390.0 555.3,390.0 556.8,390.0 558.3,390.0 559.8,390.0 561.3,390.0 562.8,390.0 564.3,390.0 565.8,390.0 567.3,390.0 568.8,390.0 570.3,390.0 571.8,390.0 573.3,390.0 574.8,390.0 576.3,390.0 577.8,390.0 579.3,390.0 580.8,390.0 582.3,390.0 583.8,390.0 585.3,390.0 586.8,390.0 588.3,390.0 589.8,390.0 591.3,390.0 592.8,390.0 594.3,390.0 595.8,390.0 597.3,390.0 598.8,390.0 600.3,389.9 601.8,389.9 603.3,389.9 604.8,389.9 606.3,389.9 607.8,389.9 609.3,389.9 610.8,389.9 612.3,389.9 613.8,389.9 615.3,389.9 616.8,389.9 618.3,389.9 619.8,389.9 621.3,389.9 622.8,389.9 624.3,389.9 625.8,389.9 627.3,389.8 628.8,389.8 630.3,389.8 631.8,389.8 633.3,389.8 634.8,389.8 636.3,389.8 637.8,389.8 639.3,389.8 640.8,389.7 642.3,389.7 643.8,389.7 645.3,389.7 646.8,389.7 648.3,389.7 649.8,389.6 651.3,389.6 652.8,389.6 654.3,389.6 655.8,389.6 657.3,389.5 658.8,389.5 660.3,389.5 661.8,389.5 663.3,389.4 664.8,389.4 666.3,389.4 667.8,389.3 669.3,389.3 670.8,389.3 672.3,389.2 673.8,389.2 675.3,389.2 676.8,389.1 678.3,389.1 679.8,389.0 681.3,389.0 682.8,388.9 684.3,388.9 685.8,388.8 687.3,388.8 688.8,388.7 690.3,388.6 691.8,388.6 693.3,388.5 694.8,388.4 696.3,388.4 697.8,388.3 699.3,388.2 700.8,388.1 702.3,388.0 703.8,387.9 705.3,387.9 706.8,387.8 708.3,387.7 709.8,387.6 711.3,387.4 712.8,387.3 714.3,387.2 715.8,387.1 717.3,387.0 718.8,386.9 720.3,386.7 721.8,386.6 723.3,386.4 724.8,386.3 726.3,386.1 727.8,386.0 729.3,385.8 730.8,385.6 732.3,385.5 733.8,385.3 735.3,385.1 736.8,384.9 738.3,384.7 739.8,384.5 741.3,384.3 742.8,384.1 744.3,383.8 745.8,383.6 747.3,383.4 748.8,383.1 750.3,382.9 751.8,382.6 753.3,382.3 754.8,382.1 756.3,381.8 757.8,381.5 759.3,381.2 760.8,380.9 762.3,380.5 763.8,380.2 765.3,379.9 766.8,379.5 768.3,379.2 769.8,378.8 771.3,378.4 772.8,378.0 774.3,377.6 775.8,377.2 777.3,376.8 778.8,376.4 780.3,375.9 781.8,375.5 783.3,375.0 784.8,374.6 786.3,374.1 787.8,373.6 789.3,373.1 790.8,372.6 792.3,372.1 793.8,371.5 795.3,371.0 796.8,370.4 798.3,369.8 799.8,369.3 801.3,368.7 802.8,368.1 804.3,367.4 805.8,366.8 807.3,366.2 808.8,365.5 810.3,364.9 811.8,364.2 813.3,363.5 814.8,362.8 816.3,362.1 817.8,361.3 819.3,360.6 820.8,359.8 822.3,359.1 823.8,358.3 825.3,357.5 826.8,356.7 828.3,355.9 829.8,355.1 831.3,354.2 832.8,353.4 834.3,352.5 835.8,351.6 837.3,350.8 838.8,349.9 840.3,348.9 841.8,348.0 843.3,347.1 844.8,346.2 846.3,345.2 847.8,344.2 849.3,343.3 850.8,342.3 852.3,341.3 853.8,340.3 855.3,339.3 856.8,338.2 858.3,337.2 859.8,336.1 861.3,335.1 862.8,334.0 864.3,333.0 865.8,331.9 867.3,330.8 868.8,329.7 870.3,328.6 871.8,327.5 873.3,326.4 874.8,325.2 876.3,324.1 877.8,323.0 879.3,321.8 880.8,320.7 882.3,319.5 883.8,318.3 885.3,317.2 886.8,316.0 888.3,314.8 889.8,313.7 891.3,312.5 892.8,311.3 894.3,310.1 895.8,308.9 897.3,307.7 898.8,306.5 900.3,305.3 901.8,304.1 903.3,302.9 904.8,301.7 906.3,300.5 907.8,299.3 909.3,298.1 910.8,296.9 912.3,295.8 913.8,294.6 915.3,293.4 916.8,292.2 918.3,291.0 919.8,289.8 921.3,288.6 922.8,287.5 924.3,286.3 925.8,285.1 927.3,284.0 928.8,282.8 930.3,281.7 931.8,280.5 933.3,279.4 934.8,278.3 936.3,277.2 937.8,276.0 939.3,274.9 940.8,273.8 942.3,272.7 943.8,271.7 945.3,270.6 946.8,269.5 948.3,268.5 949.8,267.4 951.3,266.4 952.8,265.4 954.3,264.4 955.8,263.4 957.3,262.4 958.8,261.4 960.3,260.4 961.8,259.5 963.3,258.5 964.8,257.6 966.3,256.7 967.8,255.8 969.3,254.9 970.8,254.0 972.3,253.2 973.8,252.3 975.3,251.5 976.8,250.6 978.3,249.8 979.8,249.0 981.3,248.3 982.8,247.5 984.3,246.7 985.8,246.0 987.3,245.3 988.8,244.6 990.3,243.9 991.8,243.2 993.3,242.5 994.8,241.9 996.3,241.3 997.8,240.6 999.3,240.0 1000.8,239.5 1002.3,238.9 1003.8,238.3 1005.3,237.8 1006.8,237.3 1008.3,236.8 1009.8,236.3 1011.3,235.8 1012.8,235.4 1014.3,234.9 1015.8,234.5 1017.3,234.1 1018.8,233.7 1020.3,233.3 1021.8,232.9 1023.3,232.6 1024.8,232.3 1026.3,232.0 1027.8,231.7 1029.3,231.4 1030.8,231.1 1032.3,230.8 1033.8,230.6 1035.3,230.4 1036.8,230.2 1038.3,230.0 1039.8,229.8 1041.3,229.7 1042.8,229.5 1044.3,229.4 1045.8,229.3 1047.3,229.2 1048.8,229.1 1050.3,229.0 1051.8,228.9 1053.3,228.9 1054.8,228.9 1056.3,228.8 1057.8,228.8 1059.3,228.8 1060.8,228.9 1062.3,228.9 1063.8,228.9 1065.3,229.0 1066.8,229.1 1068.3,229.2 1069.8,229.3 1071.3,229.4 1072.8,229.5 1074.3,229.7 1075.8,229.8 1077.3,230.0 1078.8,230.1 1080.3,230.3 1081.8,230.5 1083.3,230.7 1084.8,231.0 1086.3,231.2 1087.8,231.4 1089.3,231.7 1090.8,232.0 1092.3,232.2 1093.8,232.5 1095.3,232.8 1096.8,233.1 1098.3,233.4 1099.8,233.7 1101.3,234.1 1102.8,234.4 1104.3,234.8 1105.8,235.1 1107.3,235.5 1108.8,235.8 1110.3,236.2 1111.8,236.6 1113.3,237.0 1114.8,237.4 1116.3,237.8 1117.8,238.2 1119.3,238.7 1120.8,239.1 1122.3,239.5 1123.8,240.0 1125.3,240.4 1126.8,240.9 1128.3,241.3 1129.8,241.8 1131.3,242.3 1132.8,242.7 1134.3,243.2 1135.8,243.7 1137.3,244.2 1138.8,244.7 1140.3,245.2 1141.8,245.7 1143.3,246.2 1144.8,246.7 1146.3,247.2 1147.8,247.7 1149.3,248.2 1150.8,248.7 1152.3,249.2 1153.8,249.7 1155.3,250.3 1156.8,250.8 1158.3,251.3 1159.8,251.8 1161.3,252.4 1162.8,252.9 1164.3,253.4 1165.8,253.9 1167.3,254.4 1168.8,255.0 1170.3,255.5 1171.8,256.0 1173.3,256.5 1174.8,257.1 1176.3,257.6 1177.8,258.1 1179.3,258.6 1180.8,259.1 1182.3,259.6 1183.8,260.2 1185.3,260.7 1186.8,261.2 1188.3,261.7 1189.8,262.2 1191.3,262.7 1192.8,263.2 1194.3,263.7 1195.8,264.2 1197.3,264.7 1198.8,265.2 1200.3,265.6 1201.8,266.1 1203.3,266.6 1204.8,267.1 1206.3,267.6 1207.8,268.0 1209.3,268.5 1210.8,269.0 1212.3,269.4 1213.8,269.9 1215.3,270.3 1216.8,270.8 1218.3,271.2 1219.8,271.7 1221.3,272.1 1222.8,272.5 1224.3,273.0 1225.8,273.4 1227.3,273.8 1228.8,274.2 1230.3,274.7 1231.8,275.1 1233.3,275.5 1234.8,275.9 1236.3,276.3 1237.8,276.7 1239.3,277.1 1240.8,277.5 1242.3,277.9 1243.8,278.3 1245.3,278.7 1246.8,279.1 1248.3,279.5 1249.8,279.9 1251.3,280.2 1252.8,280.6 1254.3,281.0 1255.8,281.4 1257.3,281.8 1258.8,282.1 1260.3,282.5 1261.8,282.9 1263.3,283.3 1264.8,283.6 1266.3,284.0 1267.8,284.4 1269.3,284.8 1270.8,285.1 1272.3,285.5 1273.8,285.9 1275.3,286.3 1276.8,286.7 1278.3,287.0 1279.8,287.4 1281.3,287.8 1282.8,288.2 1284.3,288.6 1285.8,289.0 1287.3,289.3 1288.8,289.7 1290.3,290.1 1291.8,290.5 1293.3,290.9 1294.8,291.3 1296.3,291.7 1297.8,292.2 1299.3,292.6 1300.8,293.0 1302.3,293.4 1303.8,293.8 1305.3,294.3 1306.8,294.7 1308.3,295.1 1309.8,295.6 1311.3,296.0 1312.8,296.5 1314.3,297.0 1315.8,297.4 1317.3,297.9 1318.8,298.4 1320.3,298.8 1321.8,299.3 1323.3,299.8 1324.8,300.3 1326.3,300.8 1327.8,301.3 1329.3,301.8 1330.8,302.3 1332.3,302.9 1333.8,303.4 1335.3,303.9 1336.8,304.5 1338.3,305.0 1339.8,305.6 1341.3,306.1 1342.8,306.7 1344.3,307.2 1345.8,307.8 1347.3,308.4 1348.8,309.0 1350.3,309.6 1351.8,310.1 1353.3,310.7 1354.8,311.3 1356.3,312.0 1357.8,312.6 1359.3,313.2 1360.8,313.8 1362.3,314.4 1363.8,315.1 1365.3,315.7 1366.8,316.3 1368.3,317.0 1369.8,317.6 1371.3,318.3 1372.8,318.9 1374.3,319.6 1375.8,320.2 1377.3,320.9 1378.8,321.5 1380.3,322.2 1381.8,322.9 1383.3,323.5 1384.8,324.2 1386.3,324.9 1387.8,325.5 1389.3,326.2 1390.8,326.9 1392.3,327.6 1393.8,328.2 1395.3,328.9 1396.8,329.6 1398.3,330.3 1399.8,330.9 1401.3,331.6 1402.8,332.3 1404.3,332.9 1405.8,333.6 1407.3,334.3 1408.8,334.9 1410.3,335.6 1411.8,336.3 1413.3,336.9 1414.8,337.6 1416.3,338.2 1417.8,338.9 1419.3,339.5 1420.8,340.1 1422.3,340.8 1423.8,341.4 1425.3,342.0 1426.8,342.7 1428.3,343.3 1429.8,343.9 1431.3,344.5 1432.8,345.1 1434.3,345.7 1435.8,346.3 1437.3,346.9 1438.8,347.5 1440.3,348.1 1441.8,348.6 1443.3,349.2 1444.8,349.8 1446.3,350.3 1447.8,350.8 1449.3,351.4 1450.8,351.9 1452.3,352.4 1453.8,353.0 1455.3,353.5 1456.8,354.0 1458.3,354.5 1459.8,355.0 1461.3,355.5 1462.8,355.9 1464.3,356.4 1465.8,356.9 1467.3,357.3 1468.8,357.8 1470.3,358.2 1471.8,358.7 1473.3,359.1 1474.8,359.5 1476.3,359.9 1477.8,360.3 1479.3,360.7 1480.8,361.1 1482.3,361.5 1483.8,361.9 1485.3,362.3 1486.8,362.6 1488.3,363.0 1489.8,363.3 1491.3,363.7 1492.8,364.0 1494.3,364.4 1495.8,364.7 1497.3,365.0 1498.8,365.3 1500.3,365.6 1501.8,365.9 1503.3,366.2 1504.8,366.5 1506.3,366.8 1507.8,367.1 1509.3,367.4 1510.8,367.7 1512.3,367.9 1513.8,368.2 1515.3,368.4 1516.8,368.7 1518.3,368.9 1519.8,369.2 1521.3,369.4 1522.8,369.7 1524.3,369.9 1525.8,370.1 1527.3,370.3 1528.8,370.6 1530.3,370.8 1531.8,371.0 1533.3,371.2 1534.8,371.4 1536.3,371.6 1537.8,371.8 1539.3,372.0 1540.8,372.2 1542.3,372.4 1543.8,372.6 1545.3,372.8 1546.8,373.0 1548.3,373.2 1549.8,373.3 1551.3,373.5 1552.8,373.7 1554.3,373.9 1555.8,374.1 1557.3,374.2 1558.8,374.4 1560.3,374.6 1561.8,374.7 1563.3,374.9 1564.8,375.1 1566.3,375.2 1567.8,375.4 1569.3,375.6 1570.8,375.7 1572.3,375.9 1573.8,376.1 1575.3,376.2 1576.8,376.4 1578.3,376.5 1579.8,376.7 1581.3,376.9 1582.8,377.0 1584.3,377.2 1585.8,377.3 1587.3,377.5 1588.8,377.7 1590.3,377.8 1591.8,378.0 1593.3,378.1 1594.8,378.3 1596.3,378.4 1597.8,378.6 1599.3,378.7 1600.8,378.9 1602.3,379.0 1603.8,379.2 1605.3,379.4 1606.8,379.5 1608.3,379.7 1609.8,379.8 1611.3,380.0 1612.8,380.1 1614.3,380.3 1615.8,380.4 1617.3,380.6 1618.8,380.7 1620.3,380.9 1621.8,381.0 1623.3,381.1 1624.8,381.3 1626.3,381.4 1627.8,381.6 1629.3,381.7 1630.8,381.9 1632.3,382.0 1633.8,382.2 1635.3,382.3 1636.8,382.4 1638.3,382.6 1639.8,382.7 1641.3,382.8 1642.8,383.0 1644.3,383.1 1645.8,383.3 1647.3,383.4 1648.8,383.5 1650.3,383.7 1651.8,383.8 1653.3,383.9 1654.8,384.0 1656.3,384.2 1657.8,384.3 1659.3,384.4 1660.8,384.5 1662.3,384.7 1663.8,384.8 1665.3,384.9 1666.8,385.0 1668.3,385.1 1669.8,385.2 1671.3,385.3 1672.8,385.5 1674.3,385.6 1675.8,385.7 1677.3,385.8 1678.8,385.9 1680.3,386.0 1681.8,386.1 1683.3,386.2 1684.8,386.3 1686.3,386.4 1687.8,386.5 1689.3,386.6 1690.8,386.7 1692.3,386.7 1693.8,386.8 1695.3,386.9 1696.8,387.0 1698.3,387.1 1699.8,387.2 1701.3,387.3 1702.8,387.3 1704.3,387.4 1705.8,387.5 1707.3,387.6 1708.8,387.6 1710.3,387.7 1711.8,387.8 1713.3,387.8 1714.8,387.9 1716.3,388.0 1717.8,388.0 1719.3,388.1 1720.8,388.2 1722.3,388.2 1723.8,388.3 1725.3,388.3 1726.8,388.4 1728.3,388.4 1729.8,388.5 1731.3,388.5 1732.8,388.6 1734.3,388.6 1735.8,388.7 1737.3,388.7 1738.8,388.8 1740.3,388.8 1741.8,388.9 1743.3,388.9 1744.8,388.9 1746.3,389.0 1747.8,389.0 1749.3,389.1 1750.8,389.1 1752.3,389.1 1753.8,389.2 1755.3,389.2 1756.8,389.2 1758.3,389.2 1759.8,389.3 1761.3,389.3 1762.8,389.3 1764.3,389.4 1765.8,389.4 1767.3,389.4 1768.8,389.4 1770.3,389.5 1771.8,389.5 1773.3,389.5 1774.8,389.5 1776.3,389.5 1777.8,389.6 1779.3,389.6 1780.8,389.6 1782.3,389.6 1783.8,389.6 1785.3,389.6 1786.8,389.7 1788.3,389.7 1789.8,389.7 1791.3,389.7 1792.8,389.7 1794.3,389.7 1795.8,389.7 1797.3,389.8 1798.8,389.8 1800.3,389.8 1801.8,389.8 1803.3,389.8 1804.8,389.8 1806.3,389.8 1807.8,389.8 1809.3,389.8 1810.8,389.8 1812.3,389.8 1813.8,389.9 1815.3,389.9 1816.8,389.9 1818.3,389.9 1819.8,389.9 1821.3,389.9 1822.8,389.9 1824.3,389.9 1825.8,389.9 1827.3,389.9 1828.2,389.9 L1828.2,390 L279.3,390 Z" fill="#B3B3B3" stroke="none" shape-rendering="crispEdges"/>
<path d="M279.3,390.0 L280.8,390.0 282.3,390.0 283.8,390.0 285.3,390.0 286.8,390.0 288.3,390.0 289.8,390.0 291.3,390.0 292.8,390.0 294.3,390.0 295.8,390.0 297.3,390.0 298.8,390.0 300.3,390.0 301.8,390.0 303.3,390.0 304.8,390.0 306.3,390.0 307.8,390.0 309.3,390.0 310.8,390.0 312.3,390.0 313.8,390.0 315.3,390.0 316.8,390.0 318.3,390.0 319.8,390.0 321.3,390.0 322.8,390.0 324.3,390.0 325.8,390.0 327.3,390.0 328.8,390.0 330.3,390.0 331.8,390.0 333.3,390.0 334.8,390.0 336.3,390.0 337.8,390.0 339.3,390.0 340.8,390.0 342.3,390.0 343.8,390.0 345.3,390.0 346.8,390.0 348.3,390.0 349.8,390.0 351.3,390.0 352.8,390.0 354.3,390.0 355.8,390.0 357.3,390.0 358.8,390.0 360.3,390.0 361.8,390.0 363.3,390.0 364.8,390.0 366.3,390.0 367.8,390.0 369.3,390.0 370.8,390.0 372.3,390.0 373.8,390.0 375.3,390.0 376.8,390.0 378.3,390.0 379.8,390.0 381.3,390.0 382.8,390.0 384.3,390.0 385.8,390.0 387.3,390.0 388.8,390.0 390.3,390.0 391.8,390.0 393.3,390.0 394.8,390.0 396.3,390.0 397.8,390.0 399.3,390.0 400.8,390.0 402.3,390.0 403.8,390.0 405.3,390.0 406.8,390.0 408.3,390.0 409.8,390.0 411.3,390.0 412.8,390.0 414.3,390.0 415.8,390.0 417.3,390.0 418.8,390.0 420.3,390.0 421.8,390.0 423.3,390.0 424.8,390.0 426.3,390.0 427.8,390.0 429.3,390.0 430.8,390.0 432.3,390.0 433.8,390.0 435.3,390.0 436.8,390.0 438.3,390.0 439.8,390.0 441.3,390.0 442.8,390.0 444.3,390.0 445.8,390.0 447.3,390.0 448.8,390.0 450.3,390.0 451.8,390.0 453.3,390.0 454.8,390.0 456.3,390.0 457.8,390.0 459.3,390.0 460.8,390.0 462.3,390.0 463.8,390.0 465.3,390.0 466.8,390.0 468.3,390.0 469.8,390.0 471.3,390.0 472.8,390.0 474.3,390.0 475.8,390.0 477.3,390.0 478.8,390.0 480.3,390.0 481.8,390.0 483.3,390.0 484.8,390.0 486.3,390.0 487.8,390.0 489.3,390.0 490.8,390.0 492.3,390.0 493.8,390.0 495.3,390.0 496.8,390.0 498.3,390.0 499.8,390.0 501.3,390.0 502.8,390.0 504.3,390.0 505.8,390.0 507.3,390.0 508.8,390.0 510.3,390.0 511.8,390.0 513.3,390.0 514.8,390.0 516.3,390.0 517.8,390.0 519.3,390.0 520.8,390.0 522.3,390.0 523.8,390.0 525.3,390.0 526.8,390.0 528.3,390.0 529.8,390.0 531.3,390.0 532.8,390.0 534.3,390.0 535.8,390.0 537.3,390.0 538.8,390.0 540.3,390.0 541.8,390.0 543.3,390.0 544.8,390.0 546.3,390.0 547.8,390.0 549.3,390.0 550.8,390.0 552.3,390.0 553.8,390.0 555.3,390.0 556.8,390.0 558.3,390.0 559.8,390.0 561.3,390.0 562.8,390.0 564.3,390.0 565.8,390.0 567.3,390.0 568.8,390.0 570.3,390.0 571.8,390.0 573.3,390.0 574.8,390.0 576.3,390.0 577.8,390.0 579.3,390.0 580.8,390.0 582.3,390.0 583.8,390.0 585.3,390.0 586.8,390.0 588.3,390.0 589.8,390.0 591.3,390.0 592.8,390.0 594.3,390.0 595.8,390.0 597.3,390.0 598.8,390.0 600.3,389.9 601.8,389.9 603.3,389.9 604.8,389.9 606.3,389.9 607.8,389.9 609.3,389.9 610.8,389.9 612.3,389.9 613.8,389.9 615.3,389.9 616.8,389.9 618.3,389.9 619.8,389.9 621.3,389.9 622.8,389.9 624.3,389.9 625.8,389.9 627.3,389.8 628.8,389.8 630.3,389.8 631.8,389.8 633.3,389.8 634.8,389.8 636.3,389.8 637.8,389.8 639.3,389.8 640.8,389.7 642.3,389.7 643.8,389.7 645.3,389.7 646.8,389.7 648.3,389.7 649.8,389.6 651.3,389.6 652.8,389.6 654.3,389.6 655.8,389.6 657.3,389.5 658.8,389.5 660.3,389.5 661.8,389.5 663.3,389.4 664.8,389.4 666.3,389.4 667.8,389.3 669.3,389.3 670.8,389.3 672.3,389.2 673.8,389.2 675.3,389.2 676.8,389.1 678.3,389.1 679.8,389.0 681.3,389.0 682.8,388.9 684.3,388.9 685.8,388.8 687.3,388.8 688.8,388.7 690.3,388.6 691.8,388.6 693.3,388.5 694.8,388.4 696.3,388.4 697.8,388.3 699.3,388.2 700.8,388.1 702.3,388.0 703.8,387.9 705.3,387.9 706.8,387.8 708.3,387.7 709.8,387.6 711.3,387.4 712.8,387.3 714.3,387.2 715.8,387.1 717.3,387.0 718.8,386.9 720.3,386.7 721.8,386.6 723.3,386.4 724.8,386.3 726.3,386.1 727.8,386.0 729.3,385.8 730.8,385.6 732.3,385.5 733.8,385.3 735.3,385.1 736.8,384.9 738.3,384.7 739.8,384.5 741.3,384.3 742.8,384.1 744.3,383.8 745.8,383.6 747.3,383.4 748.8,383.1 750.3,382.9 751.8,382.6 753.3,382.3 754.8,382.1 756.3,381.8 757.8,381.5 759.3,381.2 760.8,380.9 762.3,380.5 763.8,380.2 765.3,379.9 766.8,379.5 768.3,379.2 769.8,378.8 771.3,378.4 772.8,378.0 774.3,377.6 775.8,377.2 777.3,376.8 778.8,376.4 780.3,375.9 781.8,375.5 783.3,375.0 784.8,374.6 786.3,374.1 787.8,373.6 789.3,373.1 790.8,372.6 792.3,372.1 793.8,371.5 795.3,371.0 796.8,370.4 798.3,369.8 799.8,369.3 801.3,368.7 802.8,368.1 804.3,367.4 805.8,366.8 807.3,366.2 808.8,365.5 810.3,364.9 811.8,364.2 813.3,363.5 814.8,362.8 816.3,362.1 817.8,361.3 819.3,360.6 820.8,359.8 822.3,359.1 823.8,358.3 825.3,357.5 826.8,356.7 828.3,355.9 829.8,355.1 831.3,354.2 832.8,353.4 834.3,352.5 835.8,351.6 837.3,350.8 838.8,349.9 840.3,348.9 841.8,348.0 843.3,347.1 844.8,346.2 846.3,345.2 847.8,344.2 849.3,343.3 850.8,342.3 852.3,341.3 853.8,340.3 855.3,339.3 856.8,338.2 858.3,337.2 859.8,336.1 861.3,335.1 862.8,334.0 864.3,333.0 865.8,331.9 867.3,330.8 868.8,329.7 870.3,328.6 871.8,327.5 873.3,326.4 874.8,325.2 876.3,324.1 877.8,323.0 879.3,321.8 880.8,320.7 882.3,319.5 883.8,318.3 885.3,317.2 886.8,316.0 888.3,314.8 889.8,313.7 891.3,312.5 892.8,311.3 894.3,310.1 895.8,308.9 897.3,307.7 898.8,306.5 900.3,305.3 901.8,304.1 903.3,302.9 904.8,301.7 906.3,300.5 907.8,299.3 909.3,298.1 910.8,296.9 912.3,295.8 913.8,294.6 915.3,293.4 916.8,292.2 918.3,291.0 919.8,289.8 921.3,288.6 922.8,287.5 924.3,286.3 925.8,285.1 927.3,284.0 928.8,282.8 930.3,281.7 931.8,280.5 933.3,279.4 934.8,278.3 936.3,277.2 937.8,276.0 939.3,274.9 940.8,273.8 942.3,272.7 943.8,271.7 945.3,270.6 946.8,269.5 948.3,268.5 949.8,267.4 951.3,266.4 952.8,265.4 954.3,264.4 955.8,263.4 957.3,262.4 958.8,261.4 960.3,260.4 961.8,259.5 963.3,258.5 964.8,257.6 966.3,256.7 967.8,255.8 969.3,254.9 970.8,254.0 972.3,253.2 973.8,252.3 975.3,251.5 976.8,250.6 978.3,249.8 979.8,249.0 981.3,248.3 982.8,247.5 984.3,246.7 985.8,246.0 987.3,245.3 988.8,244.6 990.3,243.9 991.8,243.2 993.3,242.5 994.8,241.9 996.3,241.3 997.8,240.6 999.3,240.0 1000.8,239.5 1002.3,238.9 1003.8,238.3 1005.3,237.8 1006.8,237.3 1008.3,236.8 1009.8,236.3 1011.3,235.8 1012.8,235.4 1014.3,234.9 1015.8,234.5 1017.3,234.1 1018.8,233.7 1020.3,233.3 1021.8,232.9 1023.3,232.6 1024.8,232.3 1026.3,232.0 1027.8,231.7 1029.3,231.4 1030.8,231.1 1032.3,230.8 1033.8,230.6 1035.3,230.4 1036.8,230.2 1038.3,230.0 1039.8,229.8 1041.3,229.7 1042.8,229.5 1044.3,229.4 1045.8,229.3 1047.3,229.2 1048.8,229.1 1050.3,229.0 1051.8,228.9 1053.3,228.9 1054.8,228.9 1056.3,228.8 1057.8,228.8 1059.3,228.8 1060.8,228.9 1062.3,228.9 1063.8,228.9 1065.3,229.0 1066.8,229.1 1068.3,229.2 1069.8,229.3 1071.3,229.4 1072.8,229.5 1074.3,229.7 1075.8,229.8 1077.3,230.0 1078.8,230.1 1080.3,230.3 1081.8,230.5 1083.3,230.7 1084.8,231.0 1086.3,231.2 1087.8,231.4 1089.3,231.7 1090.8,232.0 1092.3,232.2 1093.8,232.5 1095.3,232.8 1096.8,233.1 1098.3,233.4 1099.8,233.7 1101.3,234.1 1102.8,234.4 1104.3,234.8 1105.8,235.1 1107.3,235.5 1108.8,235.8 1110.3,236.2 1111.8,236.6 1113.3,237.0 1114.8,237.4 1116.3,237.8 1117.8,238.2 1119.3,238.7 1120.8,239.1 1122.3,239.5 1123.8,240.0 1125.3,240.4 1126.8,240.9 1128.3,241.3 1129.8,241.8 1131.3,242.3 1132.8,242.7 1134.3,243.2 1135.8,243.7 1137.3,244.2 1138.8,244.7 1140.3,245.2 1141.8,245.7 1143.3,246.2 1144.8,246.7 1146.3,247.2 1147.8,247.7 1149.3,248.2 1150.8,248.7 1152.3,249.2 1153.8,249.7 1155.3,250.3 1156.8,250.8 1158.3,251.3 1159.8,251.8 1161.3,252.4 1162.8,252.9 1164.3,253.4 1165.8,253.9 1167.3,254.4 1168.8,255.0 1170.3,255.5 1171.8,256.0 1173.3,256.5 1174.8,257.1 1176.3,257.6 1177.8,258.1 1179.3,258.6 1180.8,259.1 1182.3,259.6 1183.8,260.2 1185.3,260.7 1186.8,261.2 1188.3,261.7 1189.8,262.2 1191.3,262.7 1192.8,263.2 1194.3,263.7 1195.8,264.2 1197.3,264.7 1198.8,265.2 1200.3,265.6 1201.8,266.1 1203.3,266.6 1204.8,267.1 1206.3,267.6 1207.8,268.0 1209.3,268.5 1210.8,269.0 1212.3,269.4 1213.8,269.9 1215.3,270.3 1216.8,270.8 1218.3,271.2 1219.8,271.7 1221.3,272.1 1222.8,272.5 1224.3,273.0 1225.8,273.4 1227.3,273.8 1228.8,274.2 1230.3,274.7 1231.8,275.1 1233.3,275.5 1234.8,275.9 1236.3,276.3 1237.8,276.7 1239.3,277.1 1240.8,277.5 1242.3,277.9 1243.8,278.3 1245.3,278.7 1246.8,279.1 1248.3,279.5 1249.8,279.9 1251.3,280.2 1252.8,280.6 1254.3,281.0 1255.8,281.4 1257.3,281.8 1258.8,282.1 1260.3,282.5 1261.8,282.9 1263.3,283.3 1264.8,283.6 1266.3,284.0 1267.8,284.4 1269.3,284.8 1270.8,285.1 1272.3,285.5 1273.8,285.9 1275.3,286.3 1276.8,286.7 1278.3,287.0 1279.8,287.4 1281.3,287.8 1282.8,288.2 1284.3,288.6 1285.8,289.0 1287.3,289.3 1288.8,289.7 1290.3,290.1 1291.8,290.5 1293.3,290.9 1294.8,291.3 1296.3,291.7 1297.8,292.2 1299.3,292.6 1300.8,293.0 1302.3,293.4 1303.8,293.8 1305.3,294.3 1306.8,294.7 1308.3,295.1 1309.8,295.6 1311.3,296.0 1312.8,296.5 1314.3,297.0 1315.8,297.4 1317.3,297.9 1318.8,298.4 1320.3,298.8 1321.8,299.3 1323.3,299.8 1324.8,300.3 1326.3,300.8 1327.8,301.3 1329.3,301.8 1330.8,302.3 1332.3,302.9 1333.8,303.4 1335.3,303.9 1336.8,304.5 1338.3,305.0 1339.8,305.6 1341.3,306.1 1342.8,306.7 1344.3,307.2 1345.8,307.8 1347.3,308.4 1348.8,309.0 1350.3,309.6 1351.8,310.1 1353.3,310.7 1354.8,311.3 1356.3,312.0 1357.8,312.6 1359.3,313.2 1360.8,313.8 1362.3,314.4 1363.8,315.1 1365.3,315.7 1366.8,316.3 1368.3,317.0 1369.8,317.6 1371.3,318.3 1372.8,318.9 1374.3,319.6 1375.8,320.2 1377.3,320.9 1378.8,321.5 1380.3,322.2 1381.8,322.9 1383.3,323.5 1384.8,324.2 1386.3,324.9 1387.8,325.5 1389.3,326.2 1390.8,326.9 1392.3,327.6 1393.8,328.2 1395.3,328.9 1396.8,329.6 1398.3,330.3 1399.8,330.9 1401.3,331.6 1402.8,332.3 1404.3,332.9 1405.8,333.6 1407.3,334.3 1408.8,334.9 1410.3,335.6 1411.8,336.3 1413.3,336.9 1414.8,337.6 1416.3,338.2 1417.8,338.9 1419.3,339.5 1420.8,340.1 1422.3,340.8 1423.8,341.4 1425.3,342.0 1426.8,342.7 1428.3,343.3 1429.8,343.9 1431.3,344.5 1432.8,345.1 1434.3,345.7 1435.8,346.3 1437.3,346.9 1438.8,347.5 1440.3,348.1 1441.8,348.6 1443.3,349.2 1444.8,349.8 1446.3,350.3 1447.8,350.8 1449.3,351.4 1450.8,351.9 1452.3,352.4 1453.8,353.0 1455.3,353.5 1456.8,354.0 1458.3,354.5 1459.8,355.0 1461.3,355.5 1462.8,355.9 1464.3,356.4 1465.8,356.9 1467.3,357.3 1468.8,357.8 1470.3,358.2 1471.8,358.7 1473.3,359.1 1474.8,359.5 1476.3,359.9 1477.8,360.3 1479.3,360.7 1480.8,361.1 1482.3,361.5 1483.8,361.9 1485.3,362.3 1486.8,362.6 1488.3,363.0 1489.8,363.3 1491.3,363.7 1492.8,364.0 1494.3,364.4 1495.8,364.7 1497.3,365.0 1498.8,365.3 1500.3,365.6 1501.8,365.9 1503.3,366.2 1504.8,366.5 1506.3,366.8 1507.8,367.1 1509.3,367.4 1510.8,367.7 1512.3,367.9 1513.8,368.2 1515.3,368.4 1516.8,368.7 1518.3,368.9 1519.8,369.2 1521.3,369.4 1522.8,369.7 1524.3,369.9 1525.8,370.1 1527.3,370.3 1528.8,370.6 1530.3,370.8 1531.8,371.0 1533.3,371.2 1534.8,371.4 1536.3,371.6 1537.8,371.8 1539.3,372.0 1540.8,372.2 1542.3,372.4 1543.8,372.6 1545.3,372.8 1546.8,373.0 1548.3,373.2 1549.8,373.3 1551.3,373.5 1552.8,373.7 1554.3,373.9 1555.8,374.1 1557.3,374.2 1558.8,374.4 1560.3,374.6 1561.8,374.7 1563.3,374.9 1564.8,375.1 1566.3,375.2 1567.8,375.4 1569.3,375.6 1570.8,375.7 1572.3,375.9 1573.8,376.1 1575.3,376.2 1576.8,376.4 1578.3,376.5 1579.8,376.7 1581.3,376.9 1582.8,377.0 1584.3,377.2 1585.8,377.3 1587.3,377.5 1588.8,377.7 1590.3,377.8 1591.8,378.0 1593.3,378.1 1594.8,378.3 1596.3,378.4 1597.8,378.6 1599.3,378.7 1600.8,378.9 1602.3,379.0 1603.8,379.2 1605.3,379.4 1606.8,379.5 1608.3,379.7 1609.8,379.8 1611.3,380.0 1612.8,380.1 1614.3,380.3 1615.8,380.4 1617.3,380.6 1618.8,380.7 1620.3,380.9 1621.8,381.0 1623.3,381.1 1624.8,381.3 1626.3,381.4 1627.8,381.6 1629.3,381.7 1630.8,381.9 1632.3,382.0 1633.8,382.2 1635.3,382.3 1636.8,382.4 1638.3,382.6 1639.8,382.7 1641.3,382.8 1642.8,383.0 1644.3,383.1 1645.8,383.3 1647.3,383.4 1648.8,383.5 1650.3,383.7 1651.8,383.8 1653.3,383.9 1654.8,384.0 1656.3,384.2 1657.8,384.3 1659.3,384.4 1660.8,384.5 1662.3,384.7 1663.8,384.8 1665.3,384.9 1666.8,385.0 1668.3,385.1 1669.8,385.2 1671.3,385.3 1672.8,385.5 1674.3,385.6 1675.8,385.7 1677.3,385.8 1678.8,385.9 1680.3,386.0 1681.8,386.1 1683.3,386.2 1684.8,386.3 1686.3,386.4 1687.8,386.5 1689.3,386.6 1690.8,386.7 1692.3,386.7 1693.8,386.8 1695.3,386.9 1696.8,387.0 1698.3,387.1 1699.8,387.2 1701.3,387.3 1702.8,387.3 1704.3,387.4 1705.8,387.5 1707.3,387.6 1708.8,387.6 1710.3,387.7 1711.8,387.8 1713.3,387.8 1714.8,387.9 1716.3,388.0 1717.8,388.0 1719.3,388.1 1720.8,388.2 1722.3,388.2 1723.8,388.3 1725.3,388.3 1726.8,388.4 1728.3,388.4 1729.8,388.5 1731.3,388.5 1732.8,388.6 1734.3,388.6 1735.8,388.7 1737.3,388.7 1738.8,388.8 1740.3,388.8 1741.8,388.9 1743.3,388.9 1744.8,388.9 1746.3,389.0 1747.8,389.0 1749.3,389.1 1750.8,389.1 1752.3,389.1 1753.8,389.2 1755.3,389.2 1756.8,389.2 1758.3,389.2 1759.8,389.3 1761.3,389.3 1762.8,389.3 1764.3,389.4 1765.8,389.4 1767.3,389.4 1768.8,389.4 1770.3,389.5 1771.8,389.5 1773.3,389.5 1774.8,389.5 1776.3,389.5 1777.8,389.6 1779.3,389.6 1780.8,389.6 1782.3,389.6 1783.8,389.6 1785.3,389.6 1786.8,389.7 1788.3,389.7 1789.8,389.7 1791.3,389.7 1792.8,389.7 1794.3,389.7 1795.8,389.7 1797.3,389.8 1798.8,389.8 1800.3,389.8 1801.8,389.8 1803.3,389.8 1804.8,389.8 1806.3,389.8 1807.8,389.8 1809.3,389.8 1810.8,389.8 1812.3,389.8 1813.8,389.9 1815.3,389.9 1816.8,389.9 1818.3,389.9 1819.8,389.9 1821.3,389.9 1822.8,389.9 1824.3,389.9 1825.8,389.9 1827.3,389.9 1828.2,389.9" fill="none" stroke="#000000" stroke-width="2" stroke-linejoin="round" shape-rendering="crispEdges"/>
<g fill="#000000" shape-rendering="crispEdges"><circle cx="927.2" cy="289.1" r="5.1"/><circle cx="926.7" cy="295.8" r="5.1"/><circle cx="948.9" cy="288.8" r="5.1"/><circle cx="1022.8" cy="277.6" r="5.1"/><circle cx="1092.6" cy="256.8" r="5.1"/><circle cx="1121.3" cy="247.7" r="5.1"/><circle cx="1115.5" cy="281.8" r="5.1"/><circle cx="1147.6" cy="291.7" r="5.1"/><circle cx="1271.5" cy="302.9" r="5.1"/><circle cx="1008.8" cy="328.6" r="5.1"/><circle cx="953.8" cy="338.8" r="5.1"/><circle cx="1331.0" cy="328.5" r="5.1"/><circle cx="1177.5" cy="344.8" r="5.1"/><circle cx="1049.6" cy="356.8" r="5.1"/><circle cx="1029.6" cy="361.7" r="5.1"/><circle cx="958.8" cy="369.8" r="5.1"/><circle cx="1009.5" cy="379.7" r="5.1"/><circle cx="1041.6" cy="378.9" r="5.1"/><circle cx="1105.6" cy="381.8" r="5.1"/><circle cx="1135.6" cy="381.8" r="5.1"/><circle cx="1219.4" cy="372.7" r="5.1"/><circle cx="1228.0" cy="377.1" r="5.1"/><circle cx="1289.7" cy="362.8" r="5.1"/><circle cx="1343.8" cy="325.8" r="5.1"/><circle cx="1356.6" cy="317.8" r="5.1"/><circle cx="1368.8" cy="366.7" r="5.1"/><circle cx="1545.7" cy="376.8" r="5.1"/></g>
<path d="M279.3,523.7 L280.8,523.7 282.3,523.6 283.8,523.6 285.3,523.6 286.8,523.6 288.3,523.6 289.8,523.5 291.3,523.5 292.8,523.5 294.3,523.5 295.8,523.4 297.3,523.4 298.8,523.4 300.3,523.4 301.8,523.3 303.3,523.3 304.8,523.3 306.3,523.2 307.8,523.2 309.3,523.2 310.8,523.1 312.3,523.1 313.8,523.0 315.3,523.0 316.8,522.9 318.3,522.9 319.8,522.8 321.3,522.8 322.8,522.7 324.3,522.7 325.8,522.6 327.3,522.6 328.8,522.5 330.3,522.4 331.8,522.4 333.3,522.3 334.8,522.2 336.3,522.2 337.8,522.1 339.3,522.0 340.8,521.9 342.3,521.8 343.8,521.7 345.3,521.7 346.8,521.6 348.3,521.5 349.8,521.4 351.3,521.3 352.8,521.2 354.3,521.1 355.8,520.9 357.3,520.8 358.8,520.7 360.3,520.6 361.8,520.5 363.3,520.3 364.8,520.2 366.3,520.1 367.8,519.9 369.3,519.8 370.8,519.6 372.3,519.5 373.8,519.3 375.3,519.1 376.8,519.0 378.3,518.8 379.8,518.6 381.3,518.4 382.8,518.3 384.3,518.1 385.8,517.9 387.3,517.7 388.8,517.5 390.3,517.3 391.8,517.1 393.3,516.8 394.8,516.6 396.3,516.4 397.8,516.2 399.3,515.9 400.8,515.7 402.3,515.4 403.8,515.2 405.3,514.9 406.8,514.7 408.3,514.4 409.8,514.1 411.3,513.9 412.8,513.6 414.3,513.3 415.8,513.0 417.3,512.7 418.8,512.4 420.3,512.1 421.8,511.8 423.3,511.5 424.8,511.1 426.3,510.8 427.8,510.5 429.3,510.1 430.8,509.8 432.3,509.5 433.8,509.1 435.3,508.7 436.8,508.4 438.3,508.0 439.8,507.7 441.3,507.3 442.8,506.9 444.3,506.5 445.8,506.1 447.3,505.7 448.8,505.4 450.3,505.0 451.8,504.6 453.3,504.1 454.8,503.7 456.3,503.3 457.8,502.9 459.3,502.5 460.8,502.1 462.3,501.7 463.8,501.2 465.3,500.8 466.8,500.4 468.3,499.9 469.8,499.5 471.3,499.1 472.8,498.6 474.3,498.2 475.8,497.7 477.3,497.3 478.8,496.8 480.3,496.4 481.8,495.9 483.3,495.5 484.8,495.0 486.3,494.6 487.8,494.1 489.3,493.7 490.8,493.2 492.3,492.8 493.8,492.3 495.3,491.9 496.8,491.4 498.3,491.0 499.8,490.5 501.3,490.1 502.8,489.6 504.3,489.2 505.8,488.7 507.3,488.3 508.8,487.8 510.3,487.4 511.8,487.0 513.3,486.5 514.8,486.1 516.3,485.7 517.8,485.3 519.3,484.8 520.8,484.4 522.3,484.0 523.8,483.6 525.3,483.2 526.8,482.8 528.3,482.4 529.8,482.0 531.3,481.6 532.8,481.2 534.3,480.8 535.8,480.4 537.3,480.0 538.8,479.7 540.3,479.3 541.8,478.9 543.3,478.6 544.8,478.2 546.3,477.9 547.8,477.5 549.3,477.2 550.8,476.9 552.3,476.5 553.8,476.2 555.3,475.9 556.8,475.6 558.3,475.3 559.8,475.0 561.3,474.7 562.8,474.4 564.3,474.1 565.8,473.8 567.3,473.5 568.8,473.3 570.3,473.0 571.8,472.8 573.3,472.5 574.8,472.3 576.3,472.0 577.8,471.8 579.3,471.6 580.8,471.3 582.3,471.1 583.8,470.9 585.3,470.7 586.8,470.5 588.3,470.3 589.8,470.1 591.3,469.9 592.8,469.8 594.3,469.6 595.8,469.4 597.3,469.3 598.8,469.1 600.3,468.9 601.8,468.8 603.3,468.7 604.8,468.5 606.3,468.4 607.8,468.3 609.3,468.1 610.8,468.0 612.3,467.9 613.8,467.8 615.3,467.7 616.8,467.6 618.3,467.5 619.8,467.4 621.3,467.3 622.8,467.3 624.3,467.2 625.8,467.1 627.3,467.1 628.8,467.0 630.3,466.9 631.8,466.9 633.3,466.8 634.8,466.8 636.3,466.7 637.8,466.7 639.3,466.7 640.8,466.6 642.3,466.6 643.8,466.6 645.3,466.5 646.8,466.5 648.3,466.5 649.8,466.5 651.3,466.5 652.8,466.5 654.3,466.5 655.8,466.4 657.3,466.4 658.8,466.4 660.3,466.4 661.8,466.5 663.3,466.5 664.8,466.5 666.3,466.5 667.8,466.5 669.3,466.5 670.8,466.5 672.3,466.5 673.8,466.5 675.3,466.6 676.8,466.6 678.3,466.6 679.8,466.6 681.3,466.6 682.8,466.6 684.3,466.7 685.8,466.7 687.3,466.7 688.8,466.7 690.3,466.8 691.8,466.8 693.3,466.8 694.8,466.8 696.3,466.8 697.8,466.8 699.3,466.9 700.8,466.9 702.3,466.9 703.8,466.9 705.3,466.9 706.8,466.9 708.3,466.9 709.8,466.9 711.3,466.9 712.8,466.9 714.3,466.9 715.8,466.9 717.3,466.9 718.8,466.9 720.3,466.9 721.8,466.9 723.3,466.9 724.8,466.8 726.3,466.8 727.8,466.8 729.3,466.8 730.8,466.7 732.3,466.7 733.8,466.6 735.3,466.6 736.8,466.5 738.3,466.5 739.8,466.4 741.3,466.4 742.8,466.3 744.3,466.2 745.8,466.1 747.3,466.0 748.8,466.0 750.3,465.9 751.8,465.8 753.3,465.7 754.8,465.5 756.3,465.4 757.8,465.3 759.3,465.2 760.8,465.0 762.3,464.9 763.8,464.8 765.3,464.6 766.8,464.5 768.3,464.3 769.8,464.1 771.3,463.9 772.8,463.8 774.3,463.6 775.8,463.4 777.3,463.2 778.8,463.0 780.3,462.8 781.8,462.6 783.3,462.3 784.8,462.1 786.3,461.9 787.8,461.7 789.3,461.4 790.8,461.2 792.3,460.9 793.8,460.7 795.3,460.4 796.8,460.1 798.3,459.8 799.8,459.6 801.3,459.3 802.8,459.0 804.3,458.7 805.8,458.4 807.3,458.1 808.8,457.8 810.3,457.5 811.8,457.2 813.3,456.8 814.8,456.5 816.3,456.2 817.8,455.9 819.3,455.5 820.8,455.2 822.3,454.9 823.8,454.5 825.3,454.2 826.8,453.8 828.3,453.5 829.8,453.1 831.3,452.8 832.8,452.4 834.3,452.0 835.8,451.7 837.3,451.3 838.8,450.9 840.3,450.6 841.8,450.2 843.3,449.9 844.8,449.5 846.3,449.1 847.8,448.8 849.3,448.4 850.8,448.0 852.3,447.7 853.8,447.3 855.3,446.9 856.8,446.6 858.3,446.2 859.8,445.8 861.3,445.5 862.8,445.1 864.3,444.8 865.8,444.4 867.3,444.1 868.8,443.7 870.3,443.4 871.8,443.0 873.3,442.7 874.8,442.4 876.3,442.0 877.8,441.7 879.3,441.4 880.8,441.1 882.3,440.8 883.8,440.4 885.3,440.1 886.8,439.8 888.3,439.5 889.8,439.2 891.3,439.0 892.8,438.7 894.3,438.4 895.8,438.1 897.3,437.9 898.8,437.6 900.3,437.3 901.8,437.1 903.3,436.9 904.8,436.6 906.3,436.4 907.8,436.2 909.3,436.0 910.8,435.8 912.3,435.5 913.8,435.4 915.3,435.2 916.8,435.0 918.3,434.8 919.8,434.6 921.3,434.5 922.8,434.3 924.3,434.2 925.8,434.1 927.3,433.9 928.8,433.8 930.3,433.7 931.8,433.6 933.3,433.5 934.8,433.4 936.3,433.3 937.8,433.2 939.3,433.2 940.8,433.1 942.3,433.0 943.8,433.0 945.3,433.0 946.8,432.9 948.3,432.9 949.8,432.9 951.3,432.9 952.8,432.9 954.3,432.9 955.8,432.9 957.3,432.9 958.8,433.0 960.3,433.0 961.8,433.1 963.3,433.1 964.8,433.2 966.3,433.3 967.8,433.3 969.3,433.4 970.8,433.5 972.3,433.6 973.8,433.7 975.3,433.8 976.8,433.9 978.3,434.1 979.8,434.2 981.3,434.3 982.8,434.5 984.3,434.6 985.8,434.8 987.3,434.9 988.8,435.1 990.3,435.3 991.8,435.5 993.3,435.7 994.8,435.8 996.3,436.0 997.8,436.2 999.3,436.5 1000.8,436.7 1002.3,436.9 1003.8,437.1 1005.3,437.3 1006.8,437.6 1008.3,437.8 1009.8,438.0 1011.3,438.3 1012.8,438.5 1014.3,438.8 1015.8,439.0 1017.3,439.3 1018.8,439.6 1020.3,439.8 1021.8,440.1 1023.3,440.4 1024.8,440.7 1026.3,440.9 1027.8,441.2 1029.3,441.5 1030.8,441.8 1032.3,442.1 1033.8,442.4 1035.3,442.7 1036.8,443.0 1038.3,443.3 1039.8,443.6 1041.3,443.9 1042.8,444.2 1044.3,444.5 1045.8,444.8 1047.3,445.1 1048.8,445.4 1050.3,445.7 1051.8,446.0 1053.3,446.4 1054.8,446.7 1056.3,447.0 1057.8,447.3 1059.3,447.6 1060.8,447.9 1062.3,448.2 1063.8,448.6 1065.3,448.9 1066.8,449.2 1068.3,449.5 1069.8,449.8 1071.3,450.1 1072.8,450.4 1074.3,450.7 1075.8,451.1 1077.3,451.4 1078.8,451.7 1080.3,452.0 1081.8,452.3 1083.3,452.6 1084.8,452.9 1086.3,453.2 1087.8,453.5 1089.3,453.8 1090.8,454.1 1092.3,454.4 1093.8,454.6 1095.3,454.9 1096.8,455.2 1098.3,455.5 1099.8,455.8 1101.3,456.1 1102.8,456.3 1104.3,456.6 1105.8,456.9 1107.3,457.1 1108.8,457.4 1110.3,457.6 1111.8,457.9 1113.3,458.1 1114.8,458.4 1116.3,458.6 1117.8,458.9 1119.3,459.1 1120.8,459.3 1122.3,459.5 1123.8,459.7 1125.3,460.0 1126.8,460.2 1128.3,460.4 1129.8,460.6 1131.3,460.8 1132.8,460.9 1134.3,461.1 1135.8,461.3 1137.3,461.5 1138.8,461.6 1140.3,461.8 1141.8,461.9 1143.3,462.1 1144.8,462.2 1146.3,462.3 1147.8,462.5 1149.3,462.6 1150.8,462.7 1152.3,462.8 1153.8,462.9 1155.3,463.0 1156.8,463.1 1158.3,463.1 1159.8,463.2 1161.3,463.3 1162.8,463.3 1164.3,463.3 1165.8,463.4 1167.3,463.4 1168.8,463.4 1170.3,463.4 1171.8,463.5 1173.3,463.4 1174.8,463.4 1176.3,463.4 1177.8,463.4 1179.3,463.4 1180.8,463.3 1182.3,463.3 1183.8,463.2 1185.3,463.2 1186.8,463.1 1188.3,463.0 1189.8,462.9 1191.3,462.8 1192.8,462.7 1194.3,462.6 1195.8,462.5 1197.3,462.4 1198.8,462.2 1200.3,462.1 1201.8,462.0 1203.3,461.8 1204.8,461.6 1206.3,461.5 1207.8,461.3 1209.3,461.1 1210.8,461.0 1212.3,460.8 1213.8,460.6 1215.3,460.4 1216.8,460.2 1218.3,460.0 1219.8,459.8 1221.3,459.5 1222.8,459.3 1224.3,459.1 1225.8,458.9 1227.3,458.6 1228.8,458.4 1230.3,458.2 1231.8,457.9 1233.3,457.7 1234.8,457.5 1236.3,457.2 1237.8,457.0 1239.3,456.7 1240.8,456.5 1242.3,456.2 1243.8,456.0 1245.3,455.7 1246.8,455.5 1248.3,455.3 1249.8,455.0 1251.3,454.8 1252.8,454.5 1254.3,454.3 1255.8,454.1 1257.3,453.8 1258.8,453.6 1260.3,453.4 1261.8,453.2 1263.3,453.0 1264.8,452.8 1266.3,452.5 1267.8,452.4 1269.3,452.2 1270.8,452.0 1272.3,451.8 1273.8,451.6 1275.3,451.5 1276.8,451.3 1278.3,451.1 1279.8,451.0 1281.3,450.9 1282.8,450.7 1284.3,450.6 1285.8,450.5 1287.3,450.4 1288.8,450.3 1290.3,450.2 1291.8,450.2 1293.3,450.1 1294.8,450.0 1296.3,450.0 1297.8,450.0 1299.3,449.9 1300.8,449.9 1302.3,449.9 1303.8,449.9 1305.3,450.0 1306.8,450.0 1308.3,450.0 1309.8,450.1 1311.3,450.1 1312.8,450.2 1314.3,450.3 1315.8,450.4 1317.3,450.5 1318.8,450.6 1320.3,450.8 1321.8,450.9 1323.3,451.1 1324.8,451.2 1326.3,451.4 1327.8,451.6 1329.3,451.8 1330.8,452.0 1332.3,452.2 1333.8,452.5 1335.3,452.7 1336.8,452.9 1338.3,453.2 1339.8,453.5 1341.3,453.7 1342.8,454.0 1344.3,454.3 1345.8,454.6 1347.3,455.0 1348.8,455.3 1350.3,455.6 1351.8,455.9 1353.3,456.3 1354.8,456.6 1356.3,457.0 1357.8,457.4 1359.3,457.7 1360.8,458.1 1362.3,458.5 1363.8,458.9 1365.3,459.3 1366.8,459.7 1368.3,460.1 1369.8,460.5 1371.3,460.9 1372.8,461.3 1374.3,461.7 1375.8,462.1 1377.3,462.5 1378.8,462.9 1380.3,463.4 1381.8,463.8 1383.3,464.2 1384.8,464.6 1386.3,465.0 1387.8,465.5 1389.3,465.9 1390.8,466.3 1392.3,466.7 1393.8,467.1 1395.3,467.6 1396.8,468.0 1398.3,468.4 1399.8,468.8 1401.3,469.2 1402.8,469.6 1404.3,470.0 1405.8,470.4 1407.3,470.8 1408.8,471.1 1410.3,471.5 1411.8,471.9 1413.3,472.3 1414.8,472.6 1416.3,473.0 1417.8,473.3 1419.3,473.7 1420.8,474.0 1422.3,474.3 1423.8,474.7 1425.3,475.0 1426.8,475.3 1428.3,475.6 1429.8,475.9 1431.3,476.2 1432.8,476.5 1434.3,476.7 1435.8,477.0 1437.3,477.3 1438.8,477.5 1440.3,477.8 1441.8,478.0 1443.3,478.2 1444.8,478.4 1446.3,478.7 1447.8,478.9 1449.3,479.1 1450.8,479.3 1452.3,479.4 1453.8,479.6 1455.3,479.8 1456.8,480.0 1458.3,480.1 1459.8,480.3 1461.3,480.4 1462.8,480.5 1464.3,480.7 1465.8,480.8 1467.3,480.9 1468.8,481.0 1470.3,481.1 1471.8,481.2 1473.3,481.3 1474.8,481.4 1476.3,481.5 1477.8,481.6 1479.3,481.7 1480.8,481.7 1482.3,481.8 1483.8,481.9 1485.3,481.9 1486.8,482.0 1488.3,482.1 1489.8,482.1 1491.3,482.2 1492.8,482.2 1494.3,482.3 1495.8,482.3 1497.3,482.4 1498.8,482.4 1500.3,482.5 1501.8,482.5 1503.3,482.6 1504.8,482.6 1506.3,482.6 1507.8,482.7 1509.3,482.7 1510.8,482.8 1512.3,482.8 1513.8,482.9 1515.3,482.9 1516.8,483.0 1518.3,483.1 1519.8,483.1 1521.3,483.2 1522.8,483.2 1524.3,483.3 1525.8,483.4 1527.3,483.5 1528.8,483.5 1530.3,483.6 1531.8,483.7 1533.3,483.8 1534.8,483.9 1536.3,484.0 1537.8,484.1 1539.3,484.2 1540.8,484.4 1542.3,484.5 1543.8,484.6 1545.3,484.8 1546.8,484.9 1548.3,485.0 1549.8,485.2 1551.3,485.4 1552.8,485.5 1554.3,485.7 1555.8,485.9 1557.3,486.1 1558.8,486.2 1560.3,486.4 1561.8,486.6 1563.3,486.9 1564.8,487.1 1566.3,487.3 1567.8,487.5 1569.3,487.7 1570.8,488.0 1572.3,488.2 1573.8,488.5 1575.3,488.7 1576.8,489.0 1578.3,489.3 1579.8,489.5 1581.3,489.8 1582.8,490.1 1584.3,490.4 1585.8,490.7 1587.3,491.0 1588.8,491.3 1590.3,491.6 1591.8,491.9 1593.3,492.2 1594.8,492.6 1596.3,492.9 1597.8,493.2 1599.3,493.5 1600.8,493.9 1602.3,494.2 1603.8,494.6 1605.3,494.9 1606.8,495.3 1608.3,495.6 1609.8,496.0 1611.3,496.3 1612.8,496.7 1614.3,497.1 1615.8,497.4 1617.3,497.8 1618.8,498.2 1620.3,498.5 1621.8,498.9 1623.3,499.3 1624.8,499.7 1626.3,500.0 1627.8,500.4 1629.3,500.8 1630.8,501.2 1632.3,501.5 1633.8,501.9 1635.3,502.3 1636.8,502.7 1638.3,503.0 1639.8,503.4 1641.3,503.8 1642.8,504.1 1644.3,504.5 1645.8,504.9 1647.3,505.2 1648.8,505.6 1650.3,505.9 1651.8,506.3 1653.3,506.7 1654.8,507.0 1656.3,507.4 1657.8,507.7 1659.3,508.1 1660.8,508.4 1662.3,508.7 1663.8,509.1 1665.3,509.4 1666.8,509.7 1668.3,510.0 1669.8,510.4 1671.3,510.7 1672.8,511.0 1674.3,511.3 1675.8,511.6 1677.3,511.9 1678.8,512.2 1680.3,512.5 1681.8,512.8 1683.3,513.1 1684.8,513.3 1686.3,513.6 1687.8,513.9 1689.3,514.2 1690.8,514.4 1692.3,514.7 1693.8,514.9 1695.3,515.2 1696.8,515.4 1698.3,515.7 1699.8,515.9 1701.3,516.1 1702.8,516.4 1704.3,516.6 1705.8,516.8 1707.3,517.0 1708.8,517.2 1710.3,517.4 1711.8,517.6 1713.3,517.8 1714.8,518.0 1716.3,518.2 1717.8,518.4 1719.3,518.6 1720.8,518.7 1722.3,518.9 1723.8,519.1 1725.3,519.2 1726.8,519.4 1728.3,519.5 1729.8,519.7 1731.3,519.8 1732.8,520.0 1734.3,520.1 1735.8,520.3 1737.3,520.4 1738.8,520.5 1740.3,520.6 1741.8,520.8 1743.3,520.9 1744.8,521.0 1746.3,521.1 1747.8,521.2 1749.3,521.3 1750.8,521.4 1752.3,521.5 1753.8,521.6 1755.3,521.7 1756.8,521.8 1758.3,521.9 1759.8,521.9 1761.3,522.0 1762.8,522.1 1764.3,522.2 1765.8,522.3 1767.3,522.3 1768.8,522.4 1770.3,522.5 1771.8,522.5 1773.3,522.6 1774.8,522.6 1776.3,522.7 1777.8,522.8 1779.3,522.8 1780.8,522.9 1782.3,522.9 1783.8,523.0 1785.3,523.0 1786.8,523.0 1788.3,523.1 1789.8,523.1 1791.3,523.2 1792.8,523.2 1794.3,523.2 1795.8,523.3 1797.3,523.3 1798.8,523.3 1800.3,523.4 1801.8,523.4 1803.3,523.4 1804.8,523.4 1806.3,523.5 1807.8,523.5 1809.3,523.5 1810.8,523.5 1812.3,523.6 1813.8,523.6 1815.3,523.6 1816.8,523.6 1818.3,523.6 1819.8,523.7 1821.3,523.7 1822.8,523.7 1824.3,523.7 1825.8,523.7 1827.3,523.7 1828.2,523.7 L1828.2,524 L279.3,524 Z" fill="#B3B3B3" stroke="none" shape-rendering="crispEdges"/>
<path d="M279.3,523.7 L280.8,523.7 282.3,523.6 283.8,523.6 285.3,523.6 286.8,523.6 288.3,523.6 289.8,523.5 291.3,523.5 292.8,523.5 294.3,523.5 295.8,523.4 297.3,523.4 298.8,523.4 300.3,523.4 301.8,523.3 303.3,523.3 304.8,523.3 306.3,523.2 307.8,523.2 309.3,523.2 310.8,523.1 312.3,523.1 313.8,523.0 315.3,523.0 316.8,522.9 318.3,522.9 319.8,522.8 321.3,522.8 322.8,522.7 324.3,522.7 325.8,522.6 327.3,522.6 328.8,522.5 330.3,522.4 331.8,522.4 333.3,522.3 334.8,522.2 336.3,522.2 337.8,522.1 339.3,522.0 340.8,521.9 342.3,521.8 343.8,521.7 345.3,521.7 346.8,521.6 348.3,521.5 349.8,521.4 351.3,521.3 352.8,521.2 354.3,521.1 355.8,520.9 357.3,520.8 358.8,520.7 360.3,520.6 361.8,520.5 363.3,520.3 364.8,520.2 366.3,520.1 367.8,519.9 369.3,519.8 370.8,519.6 372.3,519.5 373.8,519.3 375.3,519.1 376.8,519.0 378.3,518.8 379.8,518.6 381.3,518.4 382.8,518.3 384.3,518.1 385.8,517.9 387.3,517.7 388.8,517.5 390.3,517.3 391.8,517.1 393.3,516.8 394.8,516.6 396.3,516.4 397.8,516.2 399.3,515.9 400.8,515.7 402.3,515.4 403.8,515.2 405.3,514.9 406.8,514.7 408.3,514.4 409.8,514.1 411.3,513.9 412.8,513.6 414.3,513.3 415.8,513.0 417.3,512.7 418.8,512.4 420.3,512.1 421.8,511.8 423.3,511.5 424.8,511.1 426.3,510.8 427.8,510.5 429.3,510.1 430.8,509.8 432.3,509.5 433.8,509.1 435.3,508.7 436.8,508.4 438.3,508.0 439.8,507.7 441.3,507.3 442.8,506.9 444.3,506.5 445.8,506.1 447.3,505.7 448.8,505.4 450.3,505.0 451.8,504.6 453.3,504.1 454.8,503.7 456.3,503.3 457.8,502.9 459.3,502.5 460.8,502.1 462.3,501.7 463.8,501.2 465.3,500.8 466.8,500.4 468.3,499.9 469.8,499.5 471.3,499.1 472.8,498.6 474.3,498.2 475.8,497.7 477.3,497.3 478.8,496.8 480.3,496.4 481.8,495.9 483.3,495.5 484.8,495.0 486.3,494.6 487.8,494.1 489.3,493.7 490.8,493.2 492.3,492.8 493.8,492.3 495.3,491.9 496.8,491.4 498.3,491.0 499.8,490.5 501.3,490.1 502.8,489.6 504.3,489.2 505.8,488.7 507.3,488.3 508.8,487.8 510.3,487.4 511.8,487.0 513.3,486.5 514.8,486.1 516.3,485.7 517.8,485.3 519.3,484.8 520.8,484.4 522.3,484.0 523.8,483.6 525.3,483.2 526.8,482.8 528.3,482.4 529.8,482.0 531.3,481.6 532.8,481.2 534.3,480.8 535.8,480.4 537.3,480.0 538.8,479.7 540.3,479.3 541.8,478.9 543.3,478.6 544.8,478.2 546.3,477.9 547.8,477.5 549.3,477.2 550.8,476.9 552.3,476.5 553.8,476.2 555.3,475.9 556.8,475.6 558.3,475.3 559.8,475.0 561.3,474.7 562.8,474.4 564.3,474.1 565.8,473.8 567.3,473.5 568.8,473.3 570.3,473.0 571.8,472.8 573.3,472.5 574.8,472.3 576.3,472.0 577.8,471.8 579.3,471.6 580.8,471.3 582.3,471.1 583.8,470.9 585.3,470.7 586.8,470.5 588.3,470.3 589.8,470.1 591.3,469.9 592.8,469.8 594.3,469.6 595.8,469.4 597.3,469.3 598.8,469.1 600.3,468.9 601.8,468.8 603.3,468.7 604.8,468.5 606.3,468.4 607.8,468.3 609.3,468.1 610.8,468.0 612.3,467.9 613.8,467.8 615.3,467.7 616.8,467.6 618.3,467.5 619.8,467.4 621.3,467.3 622.8,467.3 624.3,467.2 625.8,467.1 627.3,467.1 628.8,467.0 630.3,466.9 631.8,466.9 633.3,466.8 634.8,466.8 636.3,466.7 637.8,466.7 639.3,466.7 640.8,466.6 642.3,466.6 643.8,466.6 645.3,466.5 646.8,466.5 648.3,466.5 649.8,466.5 651.3,466.5 652.8,466.5 654.3,466.5 655.8,466.4 657.3,466.4 658.8,466.4 660.3,466.4 661.8,466.5 663.3,466.5 664.8,466.5 666.3,466.5 667.8,466.5 669.3,466.5 670.8,466.5 672.3,466.5 673.8,466.5 675.3,466.6 676.8,466.6 678.3,466.6 679.8,466.6 681.3,466.6 682.8,466.6 684.3,466.7 685.8,466.7 687.3,466.7 688.8,466.7 690.3,466.8 691.8,466.8 693.3,466.8 694.8,466.8 696.3,466.8 697.8,466.8 699.3,466.9 700.8,466.9 702.3,466.9 703.8,466.9 705.3,466.9 706.8,466.9 708.3,466.9 709.8,466.9 711.3,466.9 712.8,466.9 714.3,466.9 715.8,466.9 717.3,466.9 718.8,466.9 720.3,466.9 721.8,466.9 723.3,466.9 724.8,466.8 726.3,466.8 727.8,466.8 729.3,466.8 730.8,466.7 732.3,466.7 733.8,466.6 735.3,466.6 736.8,466.5 738.3,466.5 739.8,466.4 741.3,466.4 742.8,466.3 744.3,466.2 745.8,466.1 747.3,466.0 748.8,466.0 750.3,465.9 751.8,465.8 753.3,465.7 754.8,465.5 756.3,465.4 757.8,465.3 759.3,465.2 760.8,465.0 762.3,464.9 763.8,464.8 765.3,464.6 766.8,464.5 768.3,464.3 769.8,464.1 771.3,463.9 772.8,463.8 774.3,463.6 775.8,463.4 777.3,463.2 778.8,463.0 780.3,462.8 781.8,462.6 783.3,462.3 784.8,462.1 786.3,461.9 787.8,461.7 789.3,461.4 790.8,461.2 792.3,460.9 793.8,460.7 795.3,460.4 796.8,460.1 798.3,459.8 799.8,459.6 801.3,459.3 802.8,459.0 804.3,458.7 805.8,458.4 807.3,458.1 808.8,457.8 810.3,457.5 811.8,457.2 813.3,456.8 814.8,456.5 816.3,456.2 817.8,455.9 819.3,455.5 820.8,455.2 822.3,454.9 823.8,454.5 825.3,454.2 826.8,453.8 828.3,453.5 829.8,453.1 831.3,452.8 832.8,452.4 834.3,452.0 835.8,451.7 837.3,451.3 838.8,450.9 840.3,450.6 841.8,450.2 843.3,449.9 844.8,449.5 846.3,449.1 847.8,448.8 849.3,448.4 850.8,448.0 852.3,447.7 853.8,447.3 855.3,446.9 856.8,446.6 858.3,446.2 859.8,445.8 861.3,445.5 862.8,445.1 864.3,444.8 865.8,444.4 867.3,444.1 868.8,443.7 870.3,443.4 871.8,443.0 873.3,442.7 874.8,442.4 876.3,442.0 877.8,441.7 879.3,441.4 880.8,441.1 882.3,440.8 883.8,440.4 885.3,440.1 886.8,439.8 888.3,439.5 889.8,439.2 891.3,439.0 892.8,438.7 894.3,438.4 895.8,438.1 897.3,437.9 898.8,437.6 900.3,437.3 901.8,437.1 903.3,436.9 904.8,436.6 906.3,436.4 907.8,436.2 909.3,436.0 910.8,435.8 912.3,435.5 913.8,435.4 915.3,435.2 916.8,435.0 918.3,434.8 919.8,434.6 921.3,434.5 922.8,434.3 924.3,434.2 925.8,434.1 927.3,433.9 928.8,433.8 930.3,433.7 931.8,433.6 933.3,433.5 934.8,433.4 936.3,433.3 937.8,433.2 939.3,433.2 940.8,433.1 942.3,433.0 943.8,433.0 945.3,433.0 946.8,432.9 948.3,432.9 949.8,432.9 951.3,432.9 952.8,432.9 954.3,432.9 955.8,432.9 957.3,432.9 958.8,433.0 960.3,433.0 961.8,433.1 963.3,433.1 964.8,433.2 966.3,433.3 967.8,433.3 969.3,433.4 970.8,433.5 972.3,433.6 973.8,433.7 975.3,433.8 976.8,433.9 978.3,434.1 979.8,434.2 981.3,434.3 982.8,434.5 984.3,434.6 985.8,434.8 987.3,434.9 988.8,435.1 990.3,435.3 991.8,435.5 993.3,435.7 994.8,435.8 996.3,436.0 997.8,436.2 999.3,436.5 1000.8,436.7 1002.3,436.9 1003.8,437.1 1005.3,437.3 1006.8,437.6 1008.3,437.8 1009.8,438.0 1011.3,438.3 1012.8,438.5 1014.3,438.8 1015.8,439.0 1017.3,439.3 1018.8,439.6 1020.3,439.8 1021.8,440.1 1023.3,440.4 1024.8,440.7 1026.3,440.9 1027.8,441.2 1029.3,441.5 1030.8,441.8 1032.3,442.1 1033.8,442.4 1035.3,442.7 1036.8,443.0 1038.3,443.3 1039.8,443.6 1041.3,443.9 1042.8,444.2 1044.3,444.5 1045.8,444.8 1047.3,445.1 1048.8,445.4 1050.3,445.7 1051.8,446.0 1053.3,446.4 1054.8,446.7 1056.3,447.0 1057.8,447.3 1059.3,447.6 1060.8,447.9 1062.3,448.2 1063.8,448.6 1065.3,448.9 1066.8,449.2 1068.3,449.5 1069.8,449.8 1071.3,450.1 1072.8,450.4 1074.3,450.7 1075.8,451.1 1077.3,451.4 1078.8,451.7 1080.3,452.0 1081.8,452.3 1083.3,452.6 1084.8,452.9 1086.3,453.2 1087.8,453.5 1089.3,453.8 1090.8,454.1 1092.3,454.4 1093.8,454.6 1095.3,454.9 1096.8,455.2 1098.3,455.5 1099.8,455.8 1101.3,456.1 1102.8,456.3 1104.3,456.6 1105.8,456.9 1107.3,457.1 1108.8,457.4 1110.3,457.6 1111.8,457.9 1113.3,458.1 1114.8,458.4 1116.3,458.6 1117.8,458.9 1119.3,459.1 1120.8,459.3 1122.3,459.5 1123.8,459.7 1125.3,460.0 1126.8,460.2 1128.3,460.4 1129.8,460.6 1131.3,460.8 1132.8,460.9 1134.3,461.1 1135.8,461.3 1137.3,461.5 1138.8,461.6 1140.3,461.8 1141.8,461.9 1143.3,462.1 1144.8,462.2 1146.3,462.3 1147.8,462.5 1149.3,462.6 1150.8,462.7 1152.3,462.8 1153.8,462.9 1155.3,463.0 1156.8,463.1 1158.3,463.1 1159.8,463.2 1161.3,463.3 1162.8,463.3 1164.3,463.3 1165.8,463.4 1167.3,463.4 1168.8,463.4 1170.3,463.4 1171.8,463.5 1173.3,463.4 1174.8,463.4 1176.3,463.4 1177.8,463.4 1179.3,463.4 1180.8,463.3 1182.3,463.3 1183.8,463.2 1185.3,463.2 1186.8,463.1 1188.3,463.0 1189.8,462.9 1191.3,462.8 1192.8,462.7 1194.3,462.6 1195.8,462.5 1197.3,462.4 1198.8,462.2 1200.3,462.1 1201.8,462.0 1203.3,461.8 1204.8,461.6 1206.3,461.5 1207.8,461.3 1209.3,461.1 1210.8,461.0 1212.3,460.8 1213.8,460.6 1215.3,460.4 1216.8,460.2 1218.3,460.0 1219.8,459.8 1221.3,459.5 1222.8,459.3 1224.3,459.1 1225.8,458.9 1227.3,458.6 1228.8,458.4 1230.3,458.2 1231.8,457.9 1233.3,457.7 1234.8,457.5 1236.3,457.2 1237.8,457.0 1239.3,456.7 1240.8,456.5 1242.3,456.2 1243.8,456.0 1245.3,455.7 1246.8,455.5 1248.3,455.3 1249.8,455.0 1251.3,454.8 1252.8,454.5 1254.3,454.3 1255.8,454.1 1257.3,453.8 1258.8,453.6 1260.3,453.4 1261.8,453.2 1263.3,453.0 1264.8,452.8 1266.3,452.5 1267.8,452.4 1269.3,452.2 1270.8,452.0 1272.3,451.8 1273.8,451.6 1275.3,451.5 1276.8,451.3 1278.3,451.1 1279.8,451.0 1281.3,450.9 1282.8,450.7 1284.3,450.6 1285.8,450.5 1287.3,450.4 1288.8,450.3 1290.3,450.2 1291.8,450.2 1293.3,450.1 1294.8,450.0 1296.3,450.0 1297.8,450.0 1299.3,449.9 1300.8,449.9 1302.3,449.9 1303.8,449.9 1305.3,450.0 1306.8,450.0 1308.3,450.0 1309.8,450.1 1311.3,450.1 1312.8,450.2 1314.3,450.3 1315.8,450.4 1317.3,450.5 1318.8,450.6 1320.3,450.8 1321.8,450.9 1323.3,451.1 1324.8,451.2 1326.3,451.4 1327.8,451.6 1329.3,451.8 1330.8,452.0 1332.3,452.2 1333.8,452.5 1335.3,452.7 1336.8,452.9 1338.3,453.2 1339.8,453.5 1341.3,453.7 1342.8,454.0 1344.3,454.3 1345.8,454.6 1347.3,455.0 1348.8,455.3 1350.3,455.6 1351.8,455.9 1353.3,456.3 1354.8,456.6 1356.3,457.0 1357.8,457.4 1359.3,457.7 1360.8,458.1 1362.3,458.5 1363.8,458.9 1365.3,459.3 1366.8,459.7 1368.3,460.1 1369.8,460.5 1371.3,460.9 1372.8,461.3 1374.3,461.7 1375.8,462.1 1377.3,462.5 1378.8,462.9 1380.3,463.4 1381.8,463.8 1383.3,464.2 1384.8,464.6 1386.3,465.0 1387.8,465.5 1389.3,465.9 1390.8,466.3 1392.3,466.7 1393.8,467.1 1395.3,467.6 1396.8,468.0 1398.3,468.4 1399.8,468.8 1401.3,469.2 1402.8,469.6 1404.3,470.0 1405.8,470.4 1407.3,470.8 1408.8,471.1 1410.3,471.5 1411.8,471.9 1413.3,472.3 1414.8,472.6 1416.3,473.0 1417.8,473.3 1419.3,473.7 1420.8,474.0 1422.3,474.3 1423.8,474.7 1425.3,475.0 1426.8,475.3 1428.3,475.6 1429.8,475.9 1431.3,476.2 1432.8,476.5 1434.3,476.7 1435.8,477.0 1437.3,477.3 1438.8,477.5 1440.3,477.8 1441.8,478.0 1443.3,478.2 1444.8,478.4 1446.3,478.7 1447.8,478.9 1449.3,479.1 1450.8,479.3 1452.3,479.4 1453.8,479.6 1455.3,479.8 1456.8,480.0 1458.3,480.1 1459.8,480.3 1461.3,480.4 1462.8,480.5 1464.3,480.7 1465.8,480.8 1467.3,480.9 1468.8,481.0 1470.3,481.1 1471.8,481.2 1473.3,481.3 1474.8,481.4 1476.3,481.5 1477.8,481.6 1479.3,481.7 1480.8,481.7 1482.3,481.8 1483.8,481.9 1485.3,481.9 1486.8,482.0 1488.3,482.1 1489.8,482.1 1491.3,482.2 1492.8,482.2 1494.3,482.3 1495.8,482.3 1497.3,482.4 1498.8,482.4 1500.3,482.5 1501.8,482.5 1503.3,482.6 1504.8,482.6 1506.3,482.6 1507.8,482.7 1509.3,482.7 1510.8,482.8 1512.3,482.8 1513.8,482.9 1515.3,482.9 1516.8,483.0 1518.3,483.1 1519.8,483.1 1521.3,483.2 1522.8,483.2 1524.3,483.3 1525.8,483.4 1527.3,483.5 1528.8,483.5 1530.3,483.6 1531.8,483.7 1533.3,483.8 1534.8,483.9 1536.3,484.0 1537.8,484.1 1539.3,484.2 1540.8,484.4 1542.3,484.5 1543.8,484.6 1545.3,484.8 1546.8,484.9 1548.3,485.0 1549.8,485.2 1551.3,485.4 1552.8,485.5 1554.3,485.7 1555.8,485.9 1557.3,486.1 1558.8,486.2 1560.3,486.4 1561.8,486.6 1563.3,486.9 1564.8,487.1 1566.3,487.3 1567.8,487.5 1569.3,487.7 1570.8,488.0 1572.3,488.2 1573.8,488.5 1575.3,488.7 1576.8,489.0 1578.3,489.3 1579.8,489.5 1581.3,489.8 1582.8,490.1 1584.3,490.4 1585.8,490.7 1587.3,491.0 1588.8,491.3 1590.3,491.6 1591.8,491.9 1593.3,492.2 1594.8,492.6 1596.3,492.9 1597.8,493.2 1599.3,493.5 1600.8,493.9 1602.3,494.2 1603.8,494.6 1605.3,494.9 1606.8,495.3 1608.3,495.6 1609.8,496.0 1611.3,496.3 1612.8,496.7 1614.3,497.1 1615.8,497.4 1617.3,497.8 1618.8,498.2 1620.3,498.5 1621.8,498.9 1623.3,499.3 1624.8,499.7 1626.3,500.0 1627.8,500.4 1629.3,500.8 1630.8,501.2 1632.3,501.5 1633.8,501.9 1635.3,502.3 1636.8,502.7 1638.3,503.0 1639.8,503.4 1641.3,503.8 1642.8,504.1 1644.3,504.5 1645.8,504.9 1647.3,505.2 1648.8,505.6 1650.3,505.9 1651.8,506.3 1653.3,506.7 1654.8,507.0 1656.3,507.4 1657.8,507.7 1659.3,508.1 1660.8,508.4 1662.3,508.7 1663.8,509.1 1665.3,509.4 1666.8,509.7 1668.3,510.0 1669.8,510.4 1671.3,510.7 1672.8,511.0 1674.3,511.3 1675.8,511.6 1677.3,511.9 1678.8,512.2 1680.3,512.5 1681.8,512.8 1683.3,513.1 1684.8,513.3 1686.3,513.6 1687.8,513.9 1689.3,514.2 1690.8,514.4 1692.3,514.7 1693.8,514.9 1695.3,515.2 1696.8,515.4 1698.3,515.7 1699.8,515.9 1701.3,516.1 1702.8,516.4 1704.3,516.6 1705.8,516.8 1707.3,517.0 1708.8,517.2 1710.3,517.4 1711.8,517.6 1713.3,517.8 1714.8,518.0 1716.3,518.2 1717.8,518.4 1719.3,518.6 1720.8,518.7 1722.3,518.9 1723.8,519.1 1725.3,519.2 1726.8,519.4 1728.3,519.5 1729.8,519.7 1731.3,519.8 1732.8,520.0 1734.3,520.1 1735.8,520.3 1737.3,520.4 1738.8,520.5 1740.3,520.6 1741.8,520.8 1743.3,520.9 1744.8,521.0 1746.3,521.1 1747.8,521.2 1749.3,521.3 1750.8,521.4 1752.3,521.5 1753.8,521.6 1755.3,521.7 1756.8,521.8 1758.3,521.9 1759.8,521.9 1761.3,522.0 1762.8,522.1 1764.3,522.2 1765.8,522.3 1767.3,522.3 1768.8,522.4 1770.3,522.5 1771.8,522.5 1773.3,522.6 1774.8,522.6 1776.3,522.7 1777.8,522.8 1779.3,522.8 1780.8,522.9 1782.3,522.9 1783.8,523.0 1785.3,523.0 1786.8,523.0 1788.3,523.1 1789.8,523.1 1791.3,523.2 1792.8,523.2 1794.3,523.2 1795.8,523.3 1797.3,523.3 1798.8,523.3 1800.3,523.4 1801.8,523.4 1803.3,523.4 1804.8,523.4 1806.3,523.5 1807.8,523.5 1809.3,523.5 1810.8,523.5 1812.3,523.6 1813.8,523.6 1815.3,523.6 1816.8,523.6 1818.3,523.6 1819.8,523.7 1821.3,523.7 1822.8,523.7 1824.3,523.7 1825.8,523.7 1827.3,523.7 1828.2,523.7" fill="none" stroke="#000000" stroke-width="2" stroke-linejoin="round" shape-rendering="crispEdges"/>
<g fill="#000000" shape-rendering="crispEdges"><circle cx="556.7" cy="493.6" r="5.1"/><circle cx="689.5" cy="521.7" r="5.1"/><circle cx="1002.6" cy="456.9" r="5.1"/><circle cx="845.5" cy="512.9" r="5.1"/><circle cx="934.6" cy="519.4" r="5.1"/><circle cx="1119.0" cy="507.9" r="5.1"/><circle cx="1284.8" cy="519.9" r="5.1"/><circle cx="1339.8" cy="506.8" r="5.1"/><circle cx="1543.8" cy="508.9" r="5.1"/></g>
<path d="M279.3,659.0 L280.8,659.0 282.3,659.0 283.8,658.9 285.3,658.9 286.8,658.9 288.3,658.9 289.8,658.9 291.3,658.9 292.8,658.9 294.3,658.9 295.8,658.9 297.3,658.9 298.8,658.9 300.3,658.9 301.8,658.9 303.3,658.9 304.8,658.9 306.3,658.9 307.8,658.9 309.3,658.9 310.8,658.9 312.3,658.9 313.8,658.9 315.3,658.8 316.8,658.8 318.3,658.8 319.8,658.8 321.3,658.8 322.8,658.8 324.3,658.8 325.8,658.8 327.3,658.8 328.8,658.8 330.3,658.7 331.8,658.7 333.3,658.7 334.8,658.7 336.3,658.7 337.8,658.7 339.3,658.7 340.8,658.6 342.3,658.6 343.8,658.6 345.3,658.6 346.8,658.6 348.3,658.6 349.8,658.5 351.3,658.5 352.8,658.5 354.3,658.5 355.8,658.4 357.3,658.4 358.8,658.4 360.3,658.4 361.8,658.3 363.3,658.3 364.8,658.3 366.3,658.2 367.8,658.2 369.3,658.2 370.8,658.1 372.3,658.1 373.8,658.1 375.3,658.0 376.8,658.0 378.3,657.9 379.8,657.9 381.3,657.9 382.8,657.8 384.3,657.8 385.8,657.7 387.3,657.7 388.8,657.6 390.3,657.6 391.8,657.5 393.3,657.4 394.8,657.4 396.3,657.3 397.8,657.3 399.3,657.2 400.8,657.1 402.3,657.1 403.8,657.0 405.3,656.9 406.8,656.8 408.3,656.8 409.8,656.7 411.3,656.6 412.8,656.5 414.3,656.4 415.8,656.3 417.3,656.3 418.8,656.2 420.3,656.1 421.8,656.0 423.3,655.9 424.8,655.8 426.3,655.7 427.8,655.5 429.3,655.4 430.8,655.3 432.3,655.2 433.8,655.1 435.3,655.0 436.8,654.8 438.3,654.7 439.8,654.6 441.3,654.4 442.8,654.3 444.3,654.1 445.8,654.0 447.3,653.9 448.8,653.7 450.3,653.5 451.8,653.4 453.3,653.2 454.8,653.1 456.3,652.9 457.8,652.7 459.3,652.5 460.8,652.4 462.3,652.2 463.8,652.0 465.3,651.8 466.8,651.6 468.3,651.4 469.8,651.2 471.3,651.0 472.8,650.8 474.3,650.6 475.8,650.4 477.3,650.1 478.8,649.9 480.3,649.7 481.8,649.5 483.3,649.2 484.8,649.0 486.3,648.8 487.8,648.5 489.3,648.3 490.8,648.0 492.3,647.7 493.8,647.5 495.3,647.2 496.8,646.9 498.3,646.7 499.8,646.4 501.3,646.1 502.8,645.8 504.3,645.5 505.8,645.2 507.3,645.0 508.8,644.7 510.3,644.3 511.8,644.0 513.3,643.7 514.8,643.4 516.3,643.1 517.8,642.8 519.3,642.4 520.8,642.1 522.3,641.8 523.8,641.4 525.3,641.1 526.8,640.7 528.3,640.4 529.8,640.0 531.3,639.7 532.8,639.3 534.3,638.9 535.8,638.6 537.3,638.2 538.8,637.8 540.3,637.4 541.8,637.1 543.3,636.7 544.8,636.3 546.3,635.9 547.8,635.5 549.3,635.1 550.8,634.7 552.3,634.3 553.8,633.8 555.3,633.4 556.8,633.0 558.3,632.6 559.8,632.2 561.3,631.7 562.8,631.3 564.3,630.9 565.8,630.4 567.3,630.0 568.8,629.5 570.3,629.1 571.8,628.6 573.3,628.2 574.8,627.7 576.3,627.2 577.8,626.8 579.3,626.3 580.8,625.8 582.3,625.4 583.8,624.9 585.3,624.4 586.8,623.9 588.3,623.4 589.8,622.9 591.3,622.4 592.8,622.0 594.3,621.5 595.8,621.0 597.3,620.5 598.8,620.0 600.3,619.4 601.8,618.9 603.3,618.4 604.8,617.9 606.3,617.4 607.8,616.9 609.3,616.4 610.8,615.8 612.3,615.3 613.8,614.8 615.3,614.3 616.8,613.7 618.3,613.2 619.8,612.7 621.3,612.1 622.8,611.6 624.3,611.1 625.8,610.5 627.3,610.0 628.8,609.5 630.3,608.9 631.8,608.4 633.3,607.8 634.8,607.3 636.3,606.7 637.8,606.2 639.3,605.7 640.8,605.1 642.3,604.6 643.8,604.0 645.3,603.5 646.8,602.9 648.3,602.4 649.8,601.9 651.3,601.3 652.8,600.8 654.3,600.2 655.8,599.7 657.3,599.2 658.8,598.6 660.3,598.1 661.8,597.5 663.3,597.0 664.8,596.5 666.3,595.9 667.8,595.4 669.3,594.9 670.8,594.4 672.3,593.8 673.8,593.3 675.3,592.8 676.8,592.3 678.3,591.8 679.8,591.3 681.3,590.8 682.8,590.3 684.3,589.8 685.8,589.3 687.3,588.8 688.8,588.3 690.3,587.8 691.8,587.3 693.3,586.8 694.8,586.3 696.3,585.9 697.8,585.4 699.3,584.9 700.8,584.5 702.3,584.0 703.8,583.6 705.3,583.1 706.8,582.7 708.3,582.2 709.8,581.8 711.3,581.4 712.8,580.9 714.3,580.5 715.8,580.1 717.3,579.7 718.8,579.3 720.3,578.9 721.8,578.5 723.3,578.1 724.8,577.7 726.3,577.3 727.8,576.9 729.3,576.6 730.8,576.2 732.3,575.8 733.8,575.5 735.3,575.1 736.8,574.8 738.3,574.4 739.8,574.1 741.3,573.7 742.8,573.4 744.3,573.1 745.8,572.7 747.3,572.4 748.8,572.1 750.3,571.8 751.8,571.5 753.3,571.2 754.8,570.9 756.3,570.6 757.8,570.3 759.3,570.0 760.8,569.8 762.3,569.5 763.8,569.2 765.3,568.9 766.8,568.7 768.3,568.4 769.8,568.1 771.3,567.9 772.8,567.6 774.3,567.4 775.8,567.1 777.3,566.9 778.8,566.6 780.3,566.4 781.8,566.2 783.3,565.9 784.8,565.7 786.3,565.5 787.8,565.2 789.3,565.0 790.8,564.8 792.3,564.6 793.8,564.3 795.3,564.1 796.8,563.9 798.3,563.7 799.8,563.4 801.3,563.2 802.8,563.0 804.3,562.8 805.8,562.6 807.3,562.4 808.8,562.2 810.3,561.9 811.8,561.7 813.3,561.5 814.8,561.3 816.3,561.1 817.8,560.9 819.3,560.7 820.8,560.4 822.3,560.2 823.8,560.0 825.3,559.8 826.8,559.6 828.3,559.4 829.8,559.1 831.3,558.9 832.8,558.7 834.3,558.5 835.8,558.3 837.3,558.0 838.8,557.8 840.3,557.6 841.8,557.4 843.3,557.2 844.8,556.9 846.3,556.7 847.8,556.5 849.3,556.3 850.8,556.0 852.3,555.8 853.8,555.6 855.3,555.3 856.8,555.1 858.3,554.9 859.8,554.6 861.3,554.4 862.8,554.2 864.3,553.9 865.8,553.7 867.3,553.5 868.8,553.2 870.3,553.0 871.8,552.8 873.3,552.5 874.8,552.3 876.3,552.1 877.8,551.8 879.3,551.6 880.8,551.4 882.3,551.1 883.8,550.9 885.3,550.7 886.8,550.4 888.3,550.2 889.8,550.0 891.3,549.8 892.8,549.5 894.3,549.3 895.8,549.1 897.3,548.9 898.8,548.6 900.3,548.4 901.8,548.2 903.3,548.0 904.8,547.8 906.3,547.6 907.8,547.3 909.3,547.1 910.8,546.9 912.3,546.7 913.8,546.5 915.3,546.3 916.8,546.2 918.3,546.0 919.8,545.8 921.3,545.6 922.8,545.4 924.3,545.3 925.8,545.1 927.3,544.9 928.8,544.8 930.3,544.6 931.8,544.5 933.3,544.3 934.8,544.2 936.3,544.0 937.8,543.9 939.3,543.8 940.8,543.7 942.3,543.5 943.8,543.4 945.3,543.3 946.8,543.2 948.3,543.2 949.8,543.1 951.3,543.0 952.8,542.9 954.3,542.9 955.8,542.8 957.3,542.7 958.8,542.7 960.3,542.7 961.8,542.6 963.3,542.6 964.8,542.6 966.3,542.6 967.8,542.6 969.3,542.6 970.8,542.6 972.3,542.6 973.8,542.7 975.3,542.7 976.8,542.8 978.3,542.8 979.8,542.9 981.3,543.0 982.8,543.0 984.3,543.1 985.8,543.2 987.3,543.3 988.8,543.5 990.3,543.6 991.8,543.7 993.3,543.9 994.8,544.0 996.3,544.2 997.8,544.3 999.3,544.5 1000.8,544.7 1002.3,544.9 1003.8,545.1 1005.3,545.3 1006.8,545.5 1008.3,545.8 1009.8,546.0 1011.3,546.3 1012.8,546.5 1014.3,546.8 1015.8,547.1 1017.3,547.4 1018.8,547.7 1020.3,548.0 1021.8,548.3 1023.3,548.6 1024.8,548.9 1026.3,549.3 1027.8,549.6 1029.3,550.0 1030.8,550.3 1032.3,550.7 1033.8,551.1 1035.3,551.5 1036.8,551.9 1038.3,552.3 1039.8,552.7 1041.3,553.1 1042.8,553.6 1044.3,554.0 1045.8,554.4 1047.3,554.9 1048.8,555.3 1050.3,555.8 1051.8,556.3 1053.3,556.8 1054.8,557.3 1056.3,557.7 1057.8,558.2 1059.3,558.8 1060.8,559.3 1062.3,559.8 1063.8,560.3 1065.3,560.8 1066.8,561.4 1068.3,561.9 1069.8,562.5 1071.3,563.0 1072.8,563.6 1074.3,564.1 1075.8,564.7 1077.3,565.3 1078.8,565.8 1080.3,566.4 1081.8,567.0 1083.3,567.6 1084.8,568.2 1086.3,568.8 1087.8,569.4 1089.3,570.0 1090.8,570.6 1092.3,571.2 1093.8,571.8 1095.3,572.4 1096.8,573.0 1098.3,573.6 1099.8,574.2 1101.3,574.8 1102.8,575.5 1104.3,576.1 1105.8,576.7 1107.3,577.3 1108.8,577.9 1110.3,578.5 1111.8,579.2 1113.3,579.8 1114.8,580.4 1116.3,581.0 1117.8,581.6 1119.3,582.3 1120.8,582.9 1122.3,583.5 1123.8,584.1 1125.3,584.7 1126.8,585.3 1128.3,586.0 1129.8,586.6 1131.3,587.2 1132.8,587.8 1134.3,588.4 1135.8,589.0 1137.3,589.6 1138.8,590.2 1140.3,590.8 1141.8,591.3 1143.3,591.9 1144.8,592.5 1146.3,593.1 1147.8,593.7 1149.3,594.2 1150.8,594.8 1152.3,595.4 1153.8,595.9 1155.3,596.5 1156.8,597.0 1158.3,597.6 1159.8,598.1 1161.3,598.6 1162.8,599.1 1164.3,599.7 1165.8,600.2 1167.3,600.7 1168.8,601.2 1170.3,601.7 1171.8,602.2 1173.3,602.7 1174.8,603.2 1176.3,603.6 1177.8,604.1 1179.3,604.6 1180.8,605.0 1182.3,605.5 1183.8,605.9 1185.3,606.4 1186.8,606.8 1188.3,607.2 1189.8,607.6 1191.3,608.0 1192.8,608.4 1194.3,608.8 1195.8,609.2 1197.3,609.6 1198.8,610.0 1200.3,610.3 1201.8,610.7 1203.3,611.0 1204.8,611.4 1206.3,611.7 1207.8,612.0 1209.3,612.3 1210.8,612.7 1212.3,613.0 1213.8,613.3 1215.3,613.5 1216.8,613.8 1218.3,614.1 1219.8,614.3 1221.3,614.6 1222.8,614.8 1224.3,615.1 1225.8,615.3 1227.3,615.5 1228.8,615.7 1230.3,615.9 1231.8,616.1 1233.3,616.3 1234.8,616.5 1236.3,616.6 1237.8,616.8 1239.3,616.9 1240.8,617.1 1242.3,617.2 1243.8,617.3 1245.3,617.5 1246.8,617.6 1248.3,617.7 1249.8,617.8 1251.3,617.8 1252.8,617.9 1254.3,618.0 1255.8,618.0 1257.3,618.1 1258.8,618.1 1260.3,618.1 1261.8,618.2 1263.3,618.2 1264.8,618.2 1266.3,618.2 1267.8,618.2 1269.3,618.2 1270.8,618.1 1272.3,618.1 1273.8,618.0 1275.3,618.0 1276.8,617.9 1278.3,617.9 1279.8,617.8 1281.3,617.7 1282.8,617.6 1284.3,617.5 1285.8,617.4 1287.3,617.3 1288.8,617.2 1290.3,617.1 1291.8,617.0 1293.3,616.8 1294.8,616.7 1296.3,616.5 1297.8,616.4 1299.3,616.2 1300.8,616.0 1302.3,615.9 1303.8,615.7 1305.3,615.5 1306.8,615.3 1308.3,615.1 1309.8,614.9 1311.3,614.7 1312.8,614.5 1314.3,614.3 1315.8,614.1 1317.3,613.9 1318.8,613.6 1320.3,613.4 1321.8,613.2 1323.3,612.9 1324.8,612.7 1326.3,612.5 1327.8,612.2 1329.3,612.0 1330.8,611.7 1332.3,611.5 1333.8,611.2 1335.3,611.0 1336.8,610.7 1338.3,610.5 1339.8,610.2 1341.3,610.0 1342.8,609.7 1344.3,609.5 1345.8,609.2 1347.3,608.9 1348.8,608.7 1350.3,608.4 1351.8,608.2 1353.3,607.9 1354.8,607.7 1356.3,607.4 1357.8,607.2 1359.3,607.0 1360.8,606.7 1362.3,606.5 1363.8,606.3 1365.3,606.0 1366.8,605.8 1368.3,605.6 1369.8,605.4 1371.3,605.2 1372.8,605.0 1374.3,604.8 1375.8,604.6 1377.3,604.4 1378.8,604.2 1380.3,604.0 1381.8,603.9 1383.3,603.7 1384.8,603.6 1386.3,603.4 1387.8,603.3 1389.3,603.1 1390.8,603.0 1392.3,602.9 1393.8,602.8 1395.3,602.7 1396.8,602.6 1398.3,602.5 1399.8,602.4 1401.3,602.4 1402.8,602.3 1404.3,602.3 1405.8,602.2 1407.3,602.2 1408.8,602.2 1410.3,602.2 1411.8,602.2 1413.3,602.2 1414.8,602.2 1416.3,602.2 1417.8,602.3 1419.3,602.3 1420.8,602.4 1422.3,602.4 1423.8,602.5 1425.3,602.6 1426.8,602.7 1428.3,602.8 1429.8,603.0 1431.3,603.1 1432.8,603.2 1434.3,603.4 1435.8,603.6 1437.3,603.7 1438.8,603.9 1440.3,604.1 1441.8,604.3 1443.3,604.6 1444.8,604.8 1446.3,605.0 1447.8,605.3 1449.3,605.5 1450.8,605.8 1452.3,606.1 1453.8,606.4 1455.3,606.7 1456.8,607.0 1458.3,607.3 1459.8,607.6 1461.3,607.9 1462.8,608.3 1464.3,608.6 1465.8,609.0 1467.3,609.4 1468.8,609.7 1470.3,610.1 1471.8,610.5 1473.3,610.9 1474.8,611.3 1476.3,611.7 1477.8,612.2 1479.3,612.6 1480.8,613.0 1482.3,613.5 1483.8,613.9 1485.3,614.3 1486.8,614.8 1488.3,615.3 1489.8,615.7 1491.3,616.2 1492.8,616.7 1494.3,617.2 1495.8,617.6 1497.3,618.1 1498.8,618.6 1500.3,619.1 1501.8,619.6 1503.3,620.1 1504.8,620.6 1506.3,621.1 1507.8,621.6 1509.3,622.1 1510.8,622.7 1512.3,623.2 1513.8,623.7 1515.3,624.2 1516.8,624.7 1518.3,625.2 1519.8,625.7 1521.3,626.2 1522.8,626.8 1524.3,627.3 1525.8,627.8 1527.3,628.3 1528.8,628.8 1530.3,629.3 1531.8,629.8 1533.3,630.3 1534.8,630.8 1536.3,631.3 1537.8,631.8 1539.3,632.3 1540.8,632.8 1542.3,633.3 1543.8,633.8 1545.3,634.3 1546.8,634.8 1548.3,635.3 1549.8,635.7 1551.3,636.2 1552.8,636.7 1554.3,637.1 1555.8,637.6 1557.3,638.0 1558.8,638.5 1560.3,638.9 1561.8,639.4 1563.3,639.8 1564.8,640.2 1566.3,640.6 1567.8,641.1 1569.3,641.5 1570.8,641.9 1572.3,642.3 1573.8,642.7 1575.3,643.1 1576.8,643.5 1578.3,643.8 1579.8,644.2 1581.3,644.6 1582.8,644.9 1584.3,645.3 1585.8,645.7 1587.3,646.0 1588.8,646.3 1590.3,646.7 1591.8,647.0 1593.3,647.3 1594.8,647.6 1596.3,647.9 1597.8,648.3 1599.3,648.6 1600.8,648.8 1602.3,649.1 1603.8,649.4 1605.3,649.7 1606.8,650.0 1608.3,650.2 1609.8,650.5 1611.3,650.7 1612.8,651.0 1614.3,651.2 1615.8,651.5 1617.3,651.7 1618.8,651.9 1620.3,652.1 1621.8,652.4 1623.3,652.6 1624.8,652.8 1626.3,653.0 1627.8,653.2 1629.3,653.4 1630.8,653.5 1632.3,653.7 1633.8,653.9 1635.3,654.1 1636.8,654.2 1638.3,654.4 1639.8,654.6 1641.3,654.7 1642.8,654.9 1644.3,655.0 1645.8,655.2 1647.3,655.3 1648.8,655.4 1650.3,655.5 1651.8,655.7 1653.3,655.8 1654.8,655.9 1656.3,656.0 1657.8,656.1 1659.3,656.2 1660.8,656.4 1662.3,656.5 1663.8,656.5 1665.3,656.6 1666.8,656.7 1668.3,656.8 1669.8,656.9 1671.3,657.0 1672.8,657.1 1674.3,657.1 1675.8,657.2 1677.3,657.3 1678.8,657.4 1680.3,657.4 1681.8,657.5 1683.3,657.6 1684.8,657.6 1686.3,657.7 1687.8,657.7 1689.3,657.8 1690.8,657.8 1692.3,657.9 1693.8,657.9 1695.3,658.0 1696.8,658.0 1698.3,658.1 1699.8,658.1 1701.3,658.1 1702.8,658.2 1704.3,658.2 1705.8,658.3 1707.3,658.3 1708.8,658.3 1710.3,658.4 1711.8,658.4 1713.3,658.4 1714.8,658.4 1716.3,658.5 1717.8,658.5 1719.3,658.5 1720.8,658.5 1722.3,658.6 1723.8,658.6 1725.3,658.6 1726.8,658.6 1728.3,658.6 1729.8,658.7 1731.3,658.7 1732.8,658.7 1734.3,658.7 1735.8,658.7 1737.3,658.7 1738.8,658.7 1740.3,658.8 1741.8,658.8 1743.3,658.8 1744.8,658.8 1746.3,658.8 1747.8,658.8 1749.3,658.8 1750.8,658.8 1752.3,658.8 1753.8,658.9 1755.3,658.9 1756.8,658.9 1758.3,658.9 1759.8,658.9 1761.3,658.9 1762.8,658.9 1764.3,658.9 1765.8,658.9 1767.3,658.9 1768.8,658.9 1770.3,658.9 1771.8,658.9 1773.3,658.9 1774.8,658.9 1776.3,658.9 1777.8,658.9 1779.3,658.9 1780.8,658.9 1782.3,659.0 1783.8,659.0 1785.3,659.0 1786.8,659.0 1788.3,659.0 1789.8,659.0 1791.3,659.0 1792.8,659.0 1794.3,659.0 1795.8,659.0 1797.3,659.0 1798.8,659.0 1800.3,659.0 1801.8,659.0 1803.3,659.0 1804.8,659.0 1806.3,659.0 1807.8,659.0 1809.3,659.0 1810.8,659.0 1812.3,659.0 1813.8,659.0 1815.3,659.0 1816.8,659.0 1818.3,659.0 1819.8,659.0 1821.3,659.0 1822.8,659.0 1824.3,659.0 1825.8,659.0 1827.3,659.0 1828.2,659.0 L1828.2,659 L279.3,659 Z" fill="#B3B3B3" stroke="none" shape-rendering="crispEdges"/>
<path d="M279.3,659.0 L280.8,659.0 282.3,659.0 283.8,658.9 285.3,658.9 286.8,658.9 288.3,658.9 289.8,658.9 291.3,658.9 292.8,658.9 294.3,658.9 295.8,658.9 297.3,658.9 298.8,658.9 300.3,658.9 301.8,658.9 303.3,658.9 304.8,658.9 306.3,658.9 307.8,658.9 309.3,658.9 310.8,658.9 312.3,658.9 313.8,658.9 315.3,658.8 316.8,658.8 318.3,658.8 319.8,658.8 321.3,658.8 322.8,658.8 324.3,658.8 325.8,658.8 327.3,658.8 328.8,658.8 330.3,658.7 331.8,658.7 333.3,658.7 334.8,658.7 336.3,658.7 337.8,658.7 339.3,658.7 340.8,658.6 342.3,658.6 343.8,658.6 345.3,658.6 346.8,658.6 348.3,658.6 349.8,658.5 351.3,658.5 352.8,658.5 354.3,658.5 355.8,658.4 357.3,658.4 358.8,658.4 360.3,658.4 361.8,658.3 363.3,658.3 364.8,658.3 366.3,658.2 367.8,658.2 369.3,658.2 370.8,658.1 372.3,658.1 373.8,658.1 375.3,658.0 376.8,658.0 378.3,657.9 379.8,657.9 381.3,657.9 382.8,657.8 384.3,657.8 385.8,657.7 387.3,657.7 388.8,657.6 390.3,657.6 391.8,657.5 393.3,657.4 394.8,657.4 396.3,657.3 397.8,657.3 399.3,657.2 400.8,657.1 402.3,657.1 403.8,657.0 405.3,656.9 406.8,656.8 408.3,656.8 409.8,656.7 411.3,656.6 412.8,656.5 414.3,656.4 415.8,656.3 417.3,656.3 418.8,656.2 420.3,656.1 421.8,656.0 423.3,655.9 424.8,655.8 426.3,655.7 427.8,655.5 429.3,655.4 430.8,655.3 432.3,655.2 433.8,655.1 435.3,655.0 436.8,654.8 438.3,654.7 439.8,654.6 441.3,654.4 442.8,654.3 444.3,654.1 445.8,654.0 447.3,653.9 448.8,653.7 450.3,653.5 451.8,653.4 453.3,653.2 454.8,653.1 456.3,652.9 457.8,652.7 459.3,652.5 460.8,652.4 462.3,652.2 463.8,652.0 465.3,651.8 466.8,651.6 468.3,651.4 469.8,651.2 471.3,651.0 472.8,650.8 474.3,650.6 475.8,650.4 477.3,650.1 478.8,649.9 480.3,649.7 481.8,649.5 483.3,649.2 484.8,649.0 486.3,648.8 487.8,648.5 489.3,648.3 490.8,648.0 492.3,647.7 493.8,647.5 495.3,647.2 496.8,646.9 498.3,646.7 499.8,646.4 501.3,646.1 502.8,645.8 504.3,645.5 505.8,645.2 507.3,645.0 508.8,644.7 510.3,644.3 511.8,644.0 513.3,643.7 514.8,643.4 516.3,643.1 517.8,642.8 519.3,642.4 520.8,642.1 522.3,641.8 523.8,641.4 525.3,641.1 526.8,640.7 528.3,640.4 529.8,640.0 531.3,639.7 532.8,639.3 534.3,638.9 535.8,638.6 537.3,638.2 538.8,637.8 540.3,637.4 541.8,637.1 543.3,636.7 544.8,636.3 546.3,635.9 547.8,635.5 549.3,635.1 550.8,634.7 552.3,634.3 553.8,633.8 555.3,633.4 556.8,633.0 558.3,632.6 559.8,632.2 561.3,631.7 562.8,631.3 564.3,630.9 565.8,630.4 567.3,630.0 568.8,629.5 570.3,629.1 571.8,628.6 573.3,628.2 574.8,627.7 576.3,627.2 577.8,626.8 579.3,626.3 580.8,625.8 582.3,625.4 583.8,624.9 585.3,624.4 586.8,623.9 588.3,623.4 589.8,622.9 591.3,622.4 592.8,622.0 594.3,621.5 595.8,621.0 597.3,620.5 598.8,620.0 600.3,619.4 601.8,618.9 603.3,618.4 604.8,617.9 606.3,617.4 607.8,616.9 609.3,616.4 610.8,615.8 612.3,615.3 613.8,614.8 615.3,614.3 616.8,613.7 618.3,613.2 619.8,612.7 621.3,612.1 622.8,611.6 624.3,611.1 625.8,610.5 627.3,610.0 628.8,609.5 630.3,608.9 631.8,608.4 633.3,607.8 634.8,607.3 636.3,606.7 637.8,606.2 639.3,605.7 640.8,605.1 642.3,604.6 643.8,604.0 645.3,603.5 646.8,602.9 648.3,602.4 649.8,601.9 651.3,601.3 652.8,600.8 654.3,600.2 655.8,599.7 657.3,599.2 658.8,598.6 660.3,598.1 661.8,597.5 663.3,597.0 664.8,596.5 666.3,595.9 667.8,595.4 669.3,594.9 670.8,594.4 672.3,593.8 673.8,593.3 675.3,592.8 676.8,592.3 678.3,591.8 679.8,591.3 681.3,590.8 682.8,590.3 684.3,589.8 685.8,589.3 687.3,588.8 688.8,588.3 690.3,587.8 691.8,587.3 693.3,586.8 694.8,586.3 696.3,585.9 697.8,585.4 699.3,584.9 700.8,584.5 702.3,584.0 703.8,583.6 705.3,583.1 706.8,582.7 708.3,582.2 709.8,581.8 711.3,581.4 712.8,580.9 714.3,580.5 715.8,580.1 717.3,579.7 718.8,579.3 720.3,578.9 721.8,578.5 723.3,578.1 724.8,577.7 726.3,577.3 727.8,576.9 729.3,576.6 730.8,576.2 732.3,575.8 733.8,575.5 735.3,575.1 736.8,574.8 738.3,574.4 739.8,574.1 741.3,573.7 742.8,573.4 744.3,573.1 745.8,572.7 747.3,572.4 748.8,572.1 750.3,571.8 751.8,571.5 753.3,571.2 754.8,570.9 756.3,570.6 757.8,570.3 759.3,570.0 760.8,569.8 762.3,569.5 763.8,569.2 765.3,568.9 766.8,568.7 768.3,568.4 769.8,568.1 771.3,567.9 772.8,567.6 774.3,567.4 775.8,567.1 777.3,566.9 778.8,566.6 780.3,566.4 781.8,566.2 783.3,565.9 784.8,565.7 786.3,565.5 787.8,565.2 789.3,565.0 790.8,564.8 792.3,564.6 793.8,564.3 795.3,564.1 796.8,563.9 798.3,563.7 799.8,563.4 801.3,563.2 802.8,563.0 804.3,562.8 805.8,562.6 807.3,562.4 808.8,562.2 810.3,561.9 811.8,561.7 813.3,561.5 814.8,561.3 816.3,561.1 817.8,560.9 819.3,560.7 820.8,560.4 822.3,560.2 823.8,560.0 825.3,559.8 826.8,559.6 828.3,559.4 829.8,559.1 831.3,558.9 832.8,558.7 834.3,558.5 835.8,558.3 837.3,558.0 838.8,557.8 840.3,557.6 841.8,557.4 843.3,557.2 844.8,556.9 846.3,556.7 847.8,556.5 849.3,556.3 850.8,556.0 852.3,555.8 853.8,555.6 855.3,555.3 856.8,555.1 858.3,554.9 859.8,554.6 861.3,554.4 862.8,554.2 864.3,553.9 865.8,553.7 867.3,553.5 868.8,553.2 870.3,553.0 871.8,552.8 873.3,552.5 874.8,552.3 876.3,552.1 877.8,551.8 879.3,551.6 880.8,551.4 882.3,551.1 883.8,550.9 885.3,550.7 886.8,550.4 888.3,550.2 889.8,550.0 891.3,549.8 892.8,549.5 894.3,549.3 895.8,549.1 897.3,548.9 898.8,548.6 900.3,548.4 901.8,548.2 903.3,548.0 904.8,547.8 906.3,547.6 907.8,547.3 909.3,547.1 910.8,546.9 912.3,546.7 913.8,546.5 915.3,546.3 916.8,546.2 918.3,546.0 919.8,545.8 921.3,545.6 922.8,545.4 924.3,545.3 925.8,545.1 927.3,544.9 928.8,544.8 930.3,544.6 931.8,544.5 933.3,544.3 934.8,544.2 936.3,544.0 937.8,543.9 939.3,543.8 940.8,543.7 942.3,543.5 943.8,543.4 945.3,543.3 946.8,543.2 948.3,543.2 949.8,543.1 951.3,543.0 952.8,542.9 954.3,542.9 955.8,542.8 957.3,542.7 958.8,542.7 960.3,542.7 961.8,542.6 963.3,542.6 964.8,542.6 966.3,542.6 967.8,542.6 969.3,542.6 970.8,542.6 972.3,542.6 973.8,542.7 975.3,542.7 976.8,542.8 978.3,542.8 979.8,542.9 981.3,543.0 982.8,543.0 984.3,543.1 985.8,543.2 987.3,543.3 988.8,543.5 990.3,543.6 991.8,543.7 993.3,543.9 994.8,544.0 996.3,544.2 997.8,544.3 999.3,544.5 1000.8,544.7 1002.3,544.9 1003.8,545.1 1005.3,545.3 1006.8,545.5 1008.3,545.8 1009.8,546.0 1011.3,546.3 1012.8,546.5 1014.3,546.8 1015.8,547.1 1017.3,547.4 1018.8,547.7 1020.3,548.0 1021.8,548.3 1023.3,548.6 1024.8,548.9 1026.3,549.3 1027.8,549.6 1029.3,550.0 1030.8,550.3 1032.3,550.7 1033.8,551.1 1035.3,551.5 1036.8,551.9 1038.3,552.3 1039.8,552.7 1041.3,553.1 1042.8,553.6 1044.3,554.0 1045.8,554.4 1047.3,554.9 1048.8,555.3 1050.3,555.8 1051.8,556.3 1053.3,556.8 1054.8,557.3 1056.3,557.7 1057.8,558.2 1059.3,558.8 1060.8,559.3 1062.3,559.8 1063.8,560.3 1065.3,560.8 1066.8,561.4 1068.3,561.9 1069.8,562.5 1071.3,563.0 1072.8,563.6 1074.3,564.1 1075.8,564.7 1077.3,565.3 1078.8,565.8 1080.3,566.4 1081.8,567.0 1083.3,567.6 1084.8,568.2 1086.3,568.8 1087.8,569.4 1089.3,570.0 1090.8,570.6 1092.3,571.2 1093.8,571.8 1095.3,572.4 1096.8,573.0 1098.3,573.6 1099.8,574.2 1101.3,574.8 1102.8,575.5 1104.3,576.1 1105.8,576.7 1107.3,577.3 1108.8,577.9 1110.3,578.5 1111.8,579.2 1113.3,579.8 1114.8,580.4 1116.3,581.0 1117.8,581.6 1119.3,582.3 1120.8,582.9 1122.3,583.5 1123.8,584.1 1125.3,584.7 1126.8,585.3 1128.3,586.0 1129.8,586.6 1131.3,587.2 1132.8,587.8 1134.3,588.4 1135.8,589.0 1137.3,589.6 1138.8,590.2 1140.3,590.8 1141.8,591.3 1143.3,591.9 1144.8,592.5 1146.3,593.1 1147.8,593.7 1149.3,594.2 1150.8,594.8 1152.3,595.4 1153.8,595.9 1155.3,596.5 1156.8,597.0 1158.3,597.6 1159.8,598.1 1161.3,598.6 1162.8,599.1 1164.3,599.7 1165.8,600.2 1167.3,600.7 1168.8,601.2 1170.3,601.7 1171.8,602.2 1173.3,602.7 1174.8,603.2 1176.3,603.6 1177.8,604.1 1179.3,604.6 1180.8,605.0 1182.3,605.5 1183.8,605.9 1185.3,606.4 1186.8,606.8 1188.3,607.2 1189.8,607.6 1191.3,608.0 1192.8,608.4 1194.3,608.8 1195.8,609.2 1197.3,609.6 1198.8,610.0 1200.3,610.3 1201.8,610.7 1203.3,611.0 1204.8,611.4 1206.3,611.7 1207.8,612.0 1209.3,612.3 1210.8,612.7 1212.3,613.0 1213.8,613.3 1215.3,613.5 1216.8,613.8 1218.3,614.1 1219.8,614.3 1221.3,614.6 1222.8,614.8 1224.3,615.1 1225.8,615.3 1227.3,615.5 1228.8,615.7 1230.3,615.9 1231.8,616.1 1233.3,616.3 1234.8,616.5 1236.3,616.6 1237.8,616.8 1239.3,616.9 1240.8,617.1 1242.3,617.2 1243.8,617.3 1245.3,617.5 1246.8,617.6 1248.3,617.7 1249.8,617.8 1251.3,617.8 1252.8,617.9 1254.3,618.0 1255.8,618.0 1257.3,618.1 1258.8,618.1 1260.3,618.1 1261.8,618.2 1263.3,618.2 1264.8,618.2 1266.3,618.2 1267.8,618.2 1269.3,618.2 1270.8,618.1 1272.3,618.1 1273.8,618.0 1275.3,618.0 1276.8,617.9 1278.3,617.9 1279.8,617.8 1281.3,617.7 1282.8,617.6 1284.3,617.5 1285.8,617.4 1287.3,617.3 1288.8,617.2 1290.3,617.1 1291.8,617.0 1293.3,616.8 1294.8,616.7 1296.3,616.5 1297.8,616.4 1299.3,616.2 1300.8,616.0 1302.3,615.9 1303.8,615.7 1305.3,615.5 1306.8,615.3 1308.3,615.1 1309.8,614.9 1311.3,614.7 1312.8,614.5 1314.3,614.3 1315.8,614.1 1317.3,613.9 1318.8,613.6 1320.3,613.4 1321.8,613.2 1323.3,612.9 1324.8,612.7 1326.3,612.5 1327.8,612.2 1329.3,612.0 1330.8,611.7 1332.3,611.5 1333.8,611.2 1335.3,611.0 1336.8,610.7 1338.3,610.5 1339.8,610.2 1341.3,610.0 1342.8,609.7 1344.3,609.5 1345.8,609.2 1347.3,608.9 1348.8,608.7 1350.3,608.4 1351.8,608.2 1353.3,607.9 1354.8,607.7 1356.3,607.4 1357.8,607.2 1359.3,607.0 1360.8,606.7 1362.3,606.5 1363.8,606.3 1365.3,606.0 1366.8,605.8 1368.3,605.6 1369.8,605.4 1371.3,605.2 1372.8,605.0 1374.3,604.8 1375.8,604.6 1377.3,604.4 1378.8,604.2 1380.3,604.0 1381.8,603.9 1383.3,603.7 1384.8,603.6 1386.3,603.4 1387.8,603.3 1389.3,603.1 1390.8,603.0 1392.3,602.9 1393.8,602.8 1395.3,602.7 1396.8,602.6 1398.3,602.5 1399.8,602.4 1401.3,602.4 1402.8,602.3 1404.3,602.3 1405.8,602.2 1407.3,602.2 1408.8,602.2 1410.3,602.2 1411.8,602.2 1413.3,602.2 1414.8,602.2 1416.3,602.2 1417.8,602.3 1419.3,602.3 1420.8,602.4 1422.3,602.4 1423.8,602.5 1425.3,602.6 1426.8,602.7 1428.3,602.8 1429.8,603.0 1431.3,603.1 1432.8,603.2 1434.3,603.4 1435.8,603.6 1437.3,603.7 1438.8,603.9 1440.3,604.1 1441.8,604.3 1443.3,604.6 1444.8,604.8 1446.3,605.0 1447.8,605.3 1449.3,605.5 1450.8,605.8 1452.3,606.1 1453.8,606.4 1455.3,606.7 1456.8,607.0 1458.3,607.3 1459.8,607.6 1461.3,607.9 1462.8,608.3 1464.3,608.6 1465.8,609.0 1467.3,609.4 1468.8,609.7 1470.3,610.1 1471.8,610.5 1473.3,610.9 1474.8,611.3 1476.3,611.7 1477.8,612.2 1479.3,612.6 1480.8,613.0 1482.3,613.5 1483.8,613.9 1485.3,614.3 1486.8,614.8 1488.3,615.3 1489.8,615.7 1491.3,616.2 1492.8,616.7 1494.3,617.2 1495.8,617.6 1497.3,618.1 1498.8,618.6 1500.3,619.1 1501.8,619.6 1503.3,620.1 1504.8,620.6 1506.3,621.1 1507.8,621.6 1509.3,622.1 1510.8,622.7 1512.3,623.2 1513.8,623.7 1515.3,624.2 1516.8,624.7 1518.3,625.2 1519.8,625.7 1521.3,626.2 1522.8,626.8 1524.3,627.3 1525.8,627.8 1527.3,628.3 1528.8,628.8 1530.3,629.3 1531.8,629.8 1533.3,630.3 1534.8,630.8 1536.3,631.3 1537.8,631.8 1539.3,632.3 1540.8,632.8 1542.3,633.3 1543.8,633.8 1545.3,634.3 1546.8,634.8 1548.3,635.3 1549.8,635.7 1551.3,636.2 1552.8,636.7 1554.3,637.1 1555.8,637.6 1557.3,638.0 1558.8,638.5 1560.3,638.9 1561.8,639.4 1563.3,639.8 1564.8,640.2 1566.3,640.6 1567.8,641.1 1569.3,641.5 1570.8,641.9 1572.3,642.3 1573.8,642.7 1575.3,643.1 1576.8,643.5 1578.3,643.8 1579.8,644.2 1581.3,644.6 1582.8,644.9 1584.3,645.3 1585.8,645.7 1587.3,646.0 1588.8,646.3 1590.3,646.7 1591.8,647.0 1593.3,647.3 1594.8,647.6 1596.3,647.9 1597.8,648.3 1599.3,648.6 1600.8,648.8 1602.3,649.1 1603.8,649.4 1605.3,649.7 1606.8,650.0 1608.3,650.2 1609.8,650.5 1611.3,650.7 1612.8,651.0 1614.3,651.2 1615.8,651.5 1617.3,651.7 1618.8,651.9 1620.3,652.1 1621.8,652.4 1623.3,652.6 1624.8,652.8 1626.3,653.0 1627.8,653.2 1629.3,653.4 1630.8,653.5 1632.3,653.7 1633.8,653.9 1635.3,654.1 1636.8,654.2 1638.3,654.4 1639.8,654.6 1641.3,654.7 1642.8,654.9 1644.3,655.0 1645.8,655.2 1647.3,655.3 1648.8,655.4 1650.3,655.5 1651.8,655.7 1653.3,655.8 1654.8,655.9 1656.3,656.0 1657.8,656.1 1659.3,656.2 1660.8,656.4 1662.3,656.5 1663.8,656.5 1665.3,656.6 1666.8,656.7 1668.3,656.8 1669.8,656.9 1671.3,657.0 1672.8,657.1 1674.3,657.1 1675.8,657.2 1677.3,657.3 1678.8,657.4 1680.3,657.4 1681.8,657.5 1683.3,657.6 1684.8,657.6 1686.3,657.7 1687.8,657.7 1689.3,657.8 1690.8,657.8 1692.3,657.9 1693.8,657.9 1695.3,658.0 1696.8,658.0 1698.3,658.1 1699.8,658.1 1701.3,658.1 1702.8,658.2 1704.3,658.2 1705.8,658.3 1707.3,658.3 1708.8,658.3 1710.3,658.4 1711.8,658.4 1713.3,658.4 1714.8,658.4 1716.3,658.5 1717.8,658.5 1719.3,658.5 1720.8,658.5 1722.3,658.6 1723.8,658.6 1725.3,658.6 1726.8,658.6 1728.3,658.6 1729.8,658.7 1731.3,658.7 1732.8,658.7 1734.3,658.7 1735.8,658.7 1737.3,658.7 1738.8,658.7 1740.3,658.8 1741.8,658.8 1743.3,658.8 1744.8,658.8 1746.3,658.8 1747.8,658.8 1749.3,658.8 1750.8,658.8 1752.3,658.8 1753.8,658.9 1755.3,658.9 1756.8,658.9 1758.3,658.9 1759.8,658.9 1761.3,658.9 1762.8,658.9 1764.3,658.9 1765.8,658.9 1767.3,658.9 1768.8,658.9 1770.3,658.9 1771.8,658.9 1773.3,658.9 1774.8,658.9 1776.3,658.9 1777.8,658.9 1779.3,658.9 1780.8,658.9 1782.3,659.0 1783.8,659.0 1785.3,659.0 1786.8,659.0 1788.3,659.0 1789.8,659.0 1791.3,659.0 1792.8,659.0 1794.3,659.0 1795.8,659.0 1797.3,659.0 1798.8,659.0 1800.3,659.0 1801.8,659.0 1803.3,659.0 1804.8,659.0 1806.3,659.0 1807.8,659.0 1809.3,659.0 1810.8,659.0 1812.3,659.0 1813.8,659.0 1815.3,659.0 1816.8,659.0 1818.3,659.0 1819.8,659.0 1821.3,659.0 1822.8,659.0 1824.3,659.0 1825.8,659.0 1827.3,659.0 1828.2,659.0" fill="none" stroke="#000000" stroke-width="2" stroke-linejoin="round" shape-rendering="crispEdges"/>
<g fill="#000000" shape-rendering="crispEdges"><circle cx="668.4" cy="598.2" r="5.1"/><circle cx="759.6" cy="571.7" r="5.1"/><circle cx="587.7" cy="645.9" r="5.1"/><circle cx="733.8" cy="617.9" r="5.1"/><circle cx="1041.4" cy="557.3" r="5.1"/><circle cx="1050.5" cy="568.3" r="5.1"/><circle cx="1007.5" cy="577.7" r="5.1"/><circle cx="868.4" cy="585.5" r="5.1"/><circle cx="783.0" cy="605.7" r="5.1"/><circle cx="866.5" cy="609.8" r="5.1"/><circle cx="977.6" cy="603.8" r="5.1"/><circle cx="895.8" cy="618.8" r="5.1"/><circle cx="920.5" cy="615.5" r="5.1"/><circle cx="1153.6" cy="626.9" r="5.1"/><circle cx="1131.5" cy="641.7" r="5.1"/><circle cx="961.7" cy="643.6" r="5.1"/><circle cx="1038.8" cy="651.8" r="5.1"/><circle cx="1270.5" cy="646.8" r="5.1"/><circle cx="1440.7" cy="604.8" r="5.1"/><circle cx="1410.4" cy="639.0" r="5.1"/><circle cx="1383.7" cy="645.8" r="5.1"/><circle cx="1469.8" cy="657.1" r="5.1"/></g>
<path d="M279.3,792.8 L280.8,792.8 282.3,792.8 283.8,792.8 285.3,792.7 286.8,792.7 288.3,792.7 289.8,792.7 291.3,792.7 292.8,792.7 294.3,792.6 295.8,792.6 297.3,792.6 298.8,792.6 300.3,792.6 301.8,792.5 303.3,792.5 304.8,792.5 306.3,792.5 307.8,792.4 309.3,792.4 310.8,792.4 312.3,792.4 313.8,792.3 315.3,792.3 316.8,792.3 318.3,792.2 319.8,792.2 321.3,792.2 322.8,792.1 324.3,792.1 325.8,792.0 327.3,792.0 328.8,791.9 330.3,791.9 331.8,791.8 333.3,791.8 334.8,791.7 336.3,791.7 337.8,791.6 339.3,791.5 340.8,791.5 342.3,791.4 343.8,791.3 345.3,791.3 346.8,791.2 348.3,791.1 349.8,791.0 351.3,790.9 352.8,790.9 354.3,790.8 355.8,790.7 357.3,790.6 358.8,790.5 360.3,790.4 361.8,790.3 363.3,790.2 364.8,790.0 366.3,789.9 367.8,789.8 369.3,789.7 370.8,789.5 372.3,789.4 373.8,789.3 375.3,789.1 376.8,789.0 378.3,788.8 379.8,788.7 381.3,788.5 382.8,788.3 384.3,788.2 385.8,788.0 387.3,787.8 388.8,787.6 390.3,787.4 391.8,787.2 393.3,787.0 394.8,786.8 396.3,786.6 397.8,786.4 399.3,786.1 400.8,785.9 402.3,785.7 403.8,785.4 405.3,785.1 406.8,784.9 408.3,784.6 409.8,784.3 411.3,784.1 412.8,783.8 414.3,783.5 415.8,783.2 417.3,782.9 418.8,782.5 420.3,782.2 421.8,781.9 423.3,781.5 424.8,781.2 426.3,780.8 427.8,780.5 429.3,780.1 430.8,779.7 432.3,779.3 433.8,778.9 435.3,778.5 436.8,778.1 438.3,777.7 439.8,777.2 441.3,776.8 442.8,776.3 444.3,775.9 445.8,775.4 447.3,774.9 448.8,774.4 450.3,773.9 451.8,773.4 453.3,772.9 454.8,772.4 456.3,771.9 457.8,771.3 459.3,770.8 460.8,770.2 462.3,769.7 463.8,769.1 465.3,768.5 466.8,767.9 468.3,767.3 469.8,766.7 471.3,766.1 472.8,765.4 474.3,764.8 475.8,764.1 477.3,763.5 478.8,762.8 480.3,762.1 481.8,761.5 483.3,760.8 484.8,760.1 486.3,759.4 487.8,758.6 489.3,757.9 490.8,757.2 492.3,756.4 493.8,755.7 495.3,754.9 496.8,754.2 498.3,753.4 499.8,752.6 501.3,751.8 502.8,751.0 504.3,750.2 505.8,749.4 507.3,748.6 508.8,747.8 510.3,746.9 511.8,746.1 513.3,745.3 514.8,744.4 516.3,743.5 517.8,742.7 519.3,741.8 520.8,740.9 522.3,740.1 523.8,739.2 525.3,738.3 526.8,737.4 528.3,736.5 529.8,735.6 531.3,734.6 532.8,733.7 534.3,732.8 535.8,731.9 537.3,730.9 538.8,730.0 540.3,729.1 541.8,728.1 543.3,727.2 544.8,726.2 546.3,725.3 547.8,724.3 549.3,723.4 550.8,722.4 552.3,721.4 553.8,720.5 555.3,719.5 556.8,718.5 558.3,717.6 559.8,716.6 561.3,715.6 562.8,714.6 564.3,713.6 565.8,712.7 567.3,711.7 568.8,710.7 570.3,709.7 571.8,708.7 573.3,707.7 574.8,706.7 576.3,705.8 577.8,704.8 579.3,703.8 580.8,702.8 582.3,701.8 583.8,700.8 585.3,699.8 586.8,698.8 588.3,697.9 589.8,696.9 591.3,695.9 592.8,694.9 594.3,693.9 595.8,692.9 597.3,691.9 598.8,691.0 600.3,690.0 601.8,689.0 603.3,688.0 604.8,687.1 606.3,686.1 607.8,685.1 609.3,684.1 610.8,683.2 612.3,682.2 613.8,681.2 615.3,680.3 616.8,679.3 618.3,678.4 619.8,677.4 621.3,676.5 622.8,675.5 624.3,674.6 625.8,673.6 627.3,672.7 628.8,671.7 630.3,670.8 631.8,669.9 633.3,669.0 634.8,668.0 636.3,667.1 637.8,666.2 639.3,665.3 640.8,664.4 642.3,663.5 643.8,662.6 645.3,661.7 646.8,660.8 648.3,659.9 649.8,659.0 651.3,658.1 652.8,657.2 654.3,656.4 655.8,655.5 657.3,654.6 658.8,653.8 660.3,652.9 661.8,652.1 663.3,651.2 664.8,650.4 666.3,649.6 667.8,648.7 669.3,647.9 670.8,647.1 672.3,646.3 673.8,645.5 675.3,644.7 676.8,643.9 678.3,643.2 679.8,642.4 681.3,641.6 682.8,640.9 684.3,640.1 685.8,639.4 687.3,638.6 688.8,637.9 690.3,637.2 691.8,636.5 693.3,635.8 694.8,635.1 696.3,634.4 697.8,633.7 699.3,633.1 700.8,632.4 702.3,631.8 703.8,631.1 705.3,630.5 706.8,629.9 708.3,629.3 709.8,628.7 711.3,628.1 712.8,627.5 714.3,626.9 715.8,626.4 717.3,625.8 718.8,625.3 720.3,624.8 721.8,624.3 723.3,623.8 724.8,623.3 726.3,622.8 727.8,622.4 729.3,621.9 730.8,621.5 732.3,621.0 733.8,620.6 735.3,620.2 736.8,619.9 738.3,619.5 739.8,619.1 741.3,618.8 742.8,618.5 744.3,618.1 745.8,617.8 747.3,617.5 748.8,617.3 750.3,617.0 751.8,616.8 753.3,616.5 754.8,616.3 756.3,616.1 757.8,615.9 759.3,615.8 760.8,615.6 762.3,615.5 763.8,615.3 765.3,615.2 766.8,615.1 768.3,615.1 769.8,615.0 771.3,615.0 772.8,614.9 774.3,614.9 775.8,614.9 777.3,614.9 778.8,615.0 780.3,615.0 781.8,615.1 783.3,615.2 784.8,615.3 786.3,615.4 787.8,615.5 789.3,615.7 790.8,615.8 792.3,616.0 793.8,616.2 795.3,616.4 796.8,616.7 798.3,616.9 799.8,617.2 801.3,617.5 802.8,617.8 804.3,618.1 805.8,618.4 807.3,618.8 808.8,619.1 810.3,619.5 811.8,619.9 813.3,620.3 814.8,620.7 816.3,621.2 817.8,621.7 819.3,622.1 820.8,622.6 822.3,623.1 823.8,623.7 825.3,624.2 826.8,624.8 828.3,625.4 829.8,626.0 831.3,626.6 832.8,627.2 834.3,627.8 835.8,628.5 837.3,629.2 838.8,629.8 840.3,630.5 841.8,631.3 843.3,632.0 844.8,632.7 846.3,633.5 847.8,634.3 849.3,635.1 850.8,635.9 852.3,636.7 853.8,637.5 855.3,638.4 856.8,639.2 858.3,640.1 859.8,641.0 861.3,641.9 862.8,642.8 864.3,643.7 865.8,644.7 867.3,645.6 868.8,646.6 870.3,647.6 871.8,648.6 873.3,649.6 874.8,650.6 876.3,651.6 877.8,652.6 879.3,653.7 880.8,654.7 882.3,655.8 883.8,656.9 885.3,658.0 886.8,659.0 888.3,660.1 889.8,661.3 891.3,662.4 892.8,663.5 894.3,664.6 895.8,665.8 897.3,666.9 898.8,668.1 900.3,669.2 901.8,670.4 903.3,671.6 904.8,672.8 906.3,674.0 907.8,675.1 909.3,676.3 910.8,677.5 912.3,678.7 913.8,679.9 915.3,681.2 916.8,682.4 918.3,683.6 919.8,684.8 921.3,686.0 922.8,687.2 924.3,688.5 925.8,689.7 927.3,690.9 928.8,692.1 930.3,693.4 931.8,694.6 933.3,695.8 934.8,697.0 936.3,698.2 937.8,699.5 939.3,700.7 940.8,701.9 942.3,703.1 943.8,704.3 945.3,705.5 946.8,706.7 948.3,707.9 949.8,709.1 951.3,710.3 952.8,711.4 954.3,712.6 955.8,713.8 957.3,714.9 958.8,716.1 960.3,717.2 961.8,718.3 963.3,719.5 964.8,720.6 966.3,721.7 967.8,722.8 969.3,723.9 970.8,725.0 972.3,726.0 973.8,727.1 975.3,728.2 976.8,729.2 978.3,730.2 979.8,731.2 981.3,732.3 982.8,733.2 984.3,734.2 985.8,735.2 987.3,736.2 988.8,737.1 990.3,738.0 991.8,739.0 993.3,739.9 994.8,740.8 996.3,741.6 997.8,742.5 999.3,743.4 1000.8,744.2 1002.3,745.0 1003.8,745.8 1005.3,746.6 1006.8,747.4 1008.3,748.2 1009.8,748.9 1011.3,749.7 1012.8,750.4 1014.3,751.1 1015.8,751.8 1017.3,752.5 1018.8,753.1 1020.3,753.8 1021.8,754.4 1023.3,755.0 1024.8,755.6 1026.3,756.2 1027.8,756.7 1029.3,757.3 1030.8,757.8 1032.3,758.3 1033.8,758.8 1035.3,759.3 1036.8,759.8 1038.3,760.3 1039.8,760.7 1041.3,761.1 1042.8,761.5 1044.3,761.9 1045.8,762.3 1047.3,762.7 1048.8,763.0 1050.3,763.4 1051.8,763.7 1053.3,764.0 1054.8,764.3 1056.3,764.6 1057.8,764.8 1059.3,765.1 1060.8,765.3 1062.3,765.5 1063.8,765.7 1065.3,765.9 1066.8,766.1 1068.3,766.3 1069.8,766.4 1071.3,766.6 1072.8,766.7 1074.3,766.8 1075.8,767.0 1077.3,767.0 1078.8,767.1 1080.3,767.2 1081.8,767.3 1083.3,767.3 1084.8,767.4 1086.3,767.4 1087.8,767.4 1089.3,767.4 1090.8,767.4 1092.3,767.4 1093.8,767.4 1095.3,767.4 1096.8,767.4 1098.3,767.3 1099.8,767.3 1101.3,767.2 1102.8,767.2 1104.3,767.1 1105.8,767.0 1107.3,767.0 1108.8,766.9 1110.3,766.8 1111.8,766.7 1113.3,766.6 1114.8,766.5 1116.3,766.4 1117.8,766.3 1119.3,766.2 1120.8,766.1 1122.3,765.9 1123.8,765.8 1125.3,765.7 1126.8,765.6 1128.3,765.4 1129.8,765.3 1131.3,765.2 1132.8,765.0 1134.3,764.9 1135.8,764.8 1137.3,764.7 1138.8,764.5 1140.3,764.4 1141.8,764.3 1143.3,764.1 1144.8,764.0 1146.3,763.9 1147.8,763.8 1149.3,763.7 1150.8,763.5 1152.3,763.4 1153.8,763.3 1155.3,763.2 1156.8,763.1 1158.3,763.0 1159.8,762.9 1161.3,762.8 1162.8,762.8 1164.3,762.7 1165.8,762.6 1167.3,762.5 1168.8,762.5 1170.3,762.4 1171.8,762.4 1173.3,762.3 1174.8,762.3 1176.3,762.2 1177.8,762.2 1179.3,762.2 1180.8,762.2 1182.3,762.1 1183.8,762.1 1185.3,762.1 1186.8,762.2 1188.3,762.2 1189.8,762.2 1191.3,762.2 1192.8,762.3 1194.3,762.3 1195.8,762.4 1197.3,762.4 1198.8,762.5 1200.3,762.6 1201.8,762.6 1203.3,762.7 1204.8,762.8 1206.3,762.9 1207.8,763.0 1209.3,763.1 1210.8,763.3 1212.3,763.4 1213.8,763.5 1215.3,763.7 1216.8,763.8 1218.3,764.0 1219.8,764.1 1221.3,764.3 1222.8,764.5 1224.3,764.7 1225.8,764.8 1227.3,765.0 1228.8,765.2 1230.3,765.4 1231.8,765.7 1233.3,765.9 1234.8,766.1 1236.3,766.3 1237.8,766.6 1239.3,766.8 1240.8,767.0 1242.3,767.3 1243.8,767.5 1245.3,767.8 1246.8,768.0 1248.3,768.3 1249.8,768.6 1251.3,768.8 1252.8,769.1 1254.3,769.4 1255.8,769.7 1257.3,769.9 1258.8,770.2 1260.3,770.5 1261.8,770.8 1263.3,771.1 1264.8,771.4 1266.3,771.7 1267.8,772.0 1269.3,772.3 1270.8,772.6 1272.3,772.9 1273.8,773.2 1275.3,773.5 1276.8,773.8 1278.3,774.1 1279.8,774.4 1281.3,774.7 1282.8,775.0 1284.3,775.3 1285.8,775.6 1287.3,775.9 1288.8,776.2 1290.3,776.5 1291.8,776.8 1293.3,777.1 1294.8,777.4 1296.3,777.7 1297.8,778.0 1299.3,778.3 1300.8,778.6 1302.3,778.9 1303.8,779.2 1305.3,779.5 1306.8,779.7 1308.3,780.0 1309.8,780.3 1311.3,780.6 1312.8,780.8 1314.3,781.1 1315.8,781.4 1317.3,781.6 1318.8,781.9 1320.3,782.2 1321.8,782.4 1323.3,782.7 1324.8,782.9 1326.3,783.2 1327.8,783.4 1329.3,783.6 1330.8,783.9 1332.3,784.1 1333.8,784.3 1335.3,784.6 1336.8,784.8 1338.3,785.0 1339.8,785.2 1341.3,785.4 1342.8,785.6 1344.3,785.8 1345.8,786.0 1347.3,786.2 1348.8,786.4 1350.3,786.6 1351.8,786.8 1353.3,787.0 1354.8,787.2 1356.3,787.3 1357.8,787.5 1359.3,787.7 1360.8,787.8 1362.3,788.0 1363.8,788.1 1365.3,788.3 1366.8,788.4 1368.3,788.6 1369.8,788.7 1371.3,788.9 1372.8,789.0 1374.3,789.1 1375.8,789.3 1377.3,789.4 1378.8,789.5 1380.3,789.6 1381.8,789.7 1383.3,789.8 1384.8,790.0 1386.3,790.1 1387.8,790.2 1389.3,790.3 1390.8,790.4 1392.3,790.5 1393.8,790.6 1395.3,790.6 1396.8,790.7 1398.3,790.8 1399.8,790.9 1401.3,791.0 1402.8,791.1 1404.3,791.1 1405.8,791.2 1407.3,791.3 1408.8,791.3 1410.3,791.4 1411.8,791.5 1413.3,791.5 1414.8,791.6 1416.3,791.6 1417.8,791.7 1419.3,791.7 1420.8,791.8 1422.3,791.8 1423.8,791.9 1425.3,791.9 1426.8,792.0 1428.3,792.0 1429.8,792.1 1431.3,792.1 1432.8,792.1 1434.3,792.2 1435.8,792.2 1437.3,792.3 1438.8,792.3 1440.3,792.3 1441.8,792.4 1443.3,792.4 1444.8,792.4 1446.3,792.4 1447.8,792.5 1449.3,792.5 1450.8,792.5 1452.3,792.5 1453.8,792.6 1455.3,792.6 1456.8,792.6 1458.3,792.6 1459.8,792.6 1461.3,792.6 1462.8,792.7 1464.3,792.7 1465.8,792.7 1467.3,792.7 1468.8,792.7 1470.3,792.7 1471.8,792.8 1473.3,792.8 1474.8,792.8 1476.3,792.8 1477.8,792.8 1479.3,792.8 1480.8,792.8 1482.3,792.8 1483.8,792.8 1485.3,792.8 1486.8,792.9 1488.3,792.9 1489.8,792.9 1491.3,792.9 1492.8,792.9 1494.3,792.9 1495.8,792.9 1497.3,792.9 1498.8,792.9 1500.3,792.9 1501.8,792.9 1503.3,792.9 1504.8,792.9 1506.3,792.9 1507.8,792.9 1509.3,792.9 1510.8,792.9 1512.3,792.9 1513.8,792.9 1515.3,793.0 1516.8,793.0 1518.3,793.0 1519.8,793.0 1521.3,793.0 1522.8,793.0 1524.3,793.0 1525.8,793.0 1527.3,793.0 1528.8,793.0 1530.3,793.0 1531.8,793.0 1533.3,793.0 1534.8,793.0 1536.3,793.0 1537.8,793.0 1539.3,793.0 1540.8,793.0 1542.3,793.0 1543.8,793.0 1545.3,793.0 1546.8,793.0 1548.3,793.0 1549.8,793.0 1551.3,793.0 1552.8,793.0 1554.3,793.0 1555.8,793.0 1557.3,793.0 1558.8,793.0 1560.3,793.0 1561.8,793.0 1563.3,793.0 1564.8,793.0 1566.3,793.0 1567.8,793.0 1569.3,793.0 1570.8,793.0 1572.3,793.0 1573.8,793.0 1575.3,793.0 1576.8,793.0 1578.3,793.0 1579.8,793.0 1581.3,793.0 1582.8,793.0 1584.3,793.0 1585.8,793.0 1587.3,793.0 1588.8,793.0 1590.3,793.0 1591.8,793.0 1593.3,793.0 1594.8,793.0 1596.3,793.0 1597.8,793.0 1599.3,793.0 1600.8,793.0 1602.3,793.0 1603.8,793.0 1605.3,793.0 1606.8,793.0 1608.3,793.0 1609.8,793.0 1611.3,793.0 1612.8,793.0 1614.3,793.0 1615.8,793.0 1617.3,793.0 1618.8,793.0 1620.3,793.0 1621.8,793.0 1623.3,793.0 1624.8,793.0 1626.3,793.0 1627.8,793.0 1629.3,793.0 1630.8,793.0 1632.3,793.0 1633.8,793.0 1635.3,793.0 1636.8,793.0 1638.3,793.0 1639.8,793.0 1641.3,793.0 1642.8,793.0 1644.3,793.0 1645.8,793.0 1647.3,793.0 1648.8,793.0 1650.3,793.0 1651.8,793.0 1653.3,793.0 1654.8,793.0 1656.3,793.0 1657.8,793.0 1659.3,793.0 1660.8,793.0 1662.3,793.0 1663.8,793.0 1665.3,793.0 1666.8,793.0 1668.3,793.0 1669.8,793.0 1671.3,793.0 1672.8,793.0 1674.3,793.0 1675.8,793.0 1677.3,793.0 1678.8,793.0 1680.3,793.0 1681.8,793.0 1683.3,793.0 1684.8,793.0 1686.3,793.0 1687.8,793.0 1689.3,793.0 1690.8,793.0 1692.3,793.0 1693.8,793.0 1695.3,793.0 1696.8,793.0 1698.3,793.0 1699.8,793.0 1701.3,793.0 1702.8,793.0 1704.3,793.0 1705.8,793.0 1707.3,793.0 1708.8,793.0 1710.3,793.0 1711.8,793.0 1713.3,793.0 1714.8,793.0 1716.3,793.0 1717.8,793.0 1719.3,793.0 1720.8,793.0 1722.3,793.0 1723.8,793.0 1725.3,793.0 1726.8,793.0 1728.3,793.0 1729.8,793.0 1731.3,793.0 1732.8,793.0 1734.3,793.0 1735.8,793.0 1737.3,793.0 1738.8,793.0 1740.3,793.0 1741.8,793.0 1743.3,793.0 1744.8,793.0 1746.3,793.0 1747.8,793.0 1749.3,793.0 1750.8,793.0 1752.3,793.0 1753.8,793.0 1755.3,793.0 1756.8,793.0 1758.3,793.0 1759.8,793.0 1761.3,793.0 1762.8,793.0 1764.3,793.0 1765.8,793.0 1767.3,793.0 1768.8,793.0 1770.3,793.0 1771.8,793.0 1773.3,793.0 1774.8,793.0 1776.3,793.0 1777.8,793.0 1779.3,793.0 1780.8,793.0 1782.3,793.0 1783.8,793.0 1785.3,793.0 1786.8,793.0 1788.3,793.0 1789.8,793.0 1791.3,793.0 1792.8,793.0 1794.3,793.0 1795.8,793.0 1797.3,793.0 1798.8,793.0 1800.3,793.0 1801.8,793.0 1803.3,793.0 1804.8,793.0 1806.3,793.0 1807.8,793.0 1809.3,793.0 1810.8,793.0 1812.3,793.0 1813.8,793.0 1815.3,793.0 1816.8,793.0 1818.3,793.0 1819.8,793.0 1821.3,793.0 1822.8,793.0 1824.3,793.0 1825.8,793.0 1827.3,793.0 1828.2,793.0 L1828.2,793 L279.3,793 Z" fill="#B3B3B3" stroke="none" shape-rendering="crispEdges"/>
<path d="M279.3,792.8 L280.8,792.8 282.3,792.8 283.8,792.8 285.3,792.7 286.8,792.7 288.3,792.7 289.8,792.7 291.3,792.7 292.8,792.7 294.3,792.6 295.8,792.6 297.3,792.6 298.8,792.6 300.3,792.6 301.8,792.5 303.3,792.5 304.8,792.5 306.3,792.5 307.8,792.4 309.3,792.4 310.8,792.4 312.3,792.4 313.8,792.3 315.3,792.3 316.8,792.3 318.3,792.2 319.8,792.2 321.3,792.2 322.8,792.1 324.3,792.1 325.8,792.0 327.3,792.0 328.8,791.9 330.3,791.9 331.8,791.8 333.3,791.8 334.8,791.7 336.3,791.7 337.8,791.6 339.3,791.5 340.8,791.5 342.3,791.4 343.8,791.3 345.3,791.3 346.8,791.2 348.3,791.1 349.8,791.0 351.3,790.9 352.8,790.9 354.3,790.8 355.8,790.7 357.3,790.6 358.8,790.5 360.3,790.4 361.8,790.3 363.3,790.2 364.8,790.0 366.3,789.9 367.8,789.8 369.3,789.7 370.8,789.5 372.3,789.4 373.8,789.3 375.3,789.1 376.8,789.0 378.3,788.8 379.8,788.7 381.3,788.5 382.8,788.3 384.3,788.2 385.8,788.0 387.3,787.8 388.8,787.6 390.3,787.4 391.8,787.2 393.3,787.0 394.8,786.8 396.3,786.6 397.8,786.4 399.3,786.1 400.8,785.9 402.3,785.7 403.8,785.4 405.3,785.1 406.8,784.9 408.3,784.6 409.8,784.3 411.3,784.1 412.8,783.8 414.3,783.5 415.8,783.2 417.3,782.9 418.8,782.5 420.3,782.2 421.8,781.9 423.3,781.5 424.8,781.2 426.3,780.8 427.8,780.5 429.3,780.1 430.8,779.7 432.3,779.3 433.8,778.9 435.3,778.5 436.8,778.1 438.3,777.7 439.8,777.2 441.3,776.8 442.8,776.3 444.3,775.9 445.8,775.4 447.3,774.9 448.8,774.4 450.3,773.9 451.8,773.4 453.3,772.9 454.8,772.4 456.3,771.9 457.8,771.3 459.3,770.8 460.8,770.2 462.3,769.7 463.8,769.1 465.3,768.5 466.8,767.9 468.3,767.3 469.8,766.7 471.3,766.1 472.8,765.4 474.3,764.8 475.8,764.1 477.3,763.5 478.8,762.8 480.3,762.1 481.8,761.5 483.3,760.8 484.8,760.1 486.3,759.4 487.8,758.6 489.3,757.9 490.8,757.2 492.3,756.4 493.8,755.7 495.3,754.9 496.8,754.2 498.3,753.4 499.8,752.6 501.3,751.8 502.8,751.0 504.3,750.2 505.8,749.4 507.3,748.6 508.8,747.8 510.3,746.9 511.8,746.1 513.3,745.3 514.8,744.4 516.3,743.5 517.8,742.7 519.3,741.8 520.8,740.9 522.3,740.1 523.8,739.2 525.3,738.3 526.8,737.4 528.3,736.5 529.8,735.6 531.3,734.6 532.8,733.7 534.3,732.8 535.8,731.9 537.3,730.9 538.8,730.0 540.3,729.1 541.8,728.1 543.3,727.2 544.8,726.2 546.3,725.3 547.8,724.3 549.3,723.4 550.8,722.4 552.3,721.4 553.8,720.5 555.3,719.5 556.8,718.5 558.3,717.6 559.8,716.6 561.3,715.6 562.8,714.6 564.3,713.6 565.8,712.7 567.3,711.7 568.8,710.7 570.3,709.7 571.8,708.7 573.3,707.7 574.8,706.7 576.3,705.8 577.8,704.8 579.3,703.8 580.8,702.8 582.3,701.8 583.8,700.8 585.3,699.8 586.8,698.8 588.3,697.9 589.8,696.9 591.3,695.9 592.8,694.9 594.3,693.9 595.8,692.9 597.3,691.9 598.8,691.0 600.3,690.0 601.8,689.0 603.3,688.0 604.8,687.1 606.3,686.1 607.8,685.1 609.3,684.1 610.8,683.2 612.3,682.2 613.8,681.2 615.3,680.3 616.8,679.3 618.3,678.4 619.8,677.4 621.3,676.5 622.8,675.5 624.3,674.6 625.8,673.6 627.3,672.7 628.8,671.7 630.3,670.8 631.8,669.9 633.3,669.0 634.8,668.0 636.3,667.1 637.8,666.2 639.3,665.3 640.8,664.4 642.3,663.5 643.8,662.6 645.3,661.7 646.8,660.8 648.3,659.9 649.8,659.0 651.3,658.1 652.8,657.2 654.3,656.4 655.8,655.5 657.3,654.6 658.8,653.8 660.3,652.9 661.8,652.1 663.3,651.2 664.8,650.4 666.3,649.6 667.8,648.7 669.3,647.9 670.8,647.1 672.3,646.3 673.8,645.5 675.3,644.7 676.8,643.9 678.3,643.2 679.8,642.4 681.3,641.6 682.8,640.9 684.3,640.1 685.8,639.4 687.3,638.6 688.8,637.9 690.3,637.2 691.8,636.5 693.3,635.8 694.8,635.1 696.3,634.4 697.8,633.7 699.3,633.1 700.8,632.4 702.3,631.8 703.8,631.1 705.3,630.5 706.8,629.9 708.3,629.3 709.8,628.7 711.3,628.1 712.8,627.5 714.3,626.9 715.8,626.4 717.3,625.8 718.8,625.3 720.3,624.8 721.8,624.3 723.3,623.8 724.8,623.3 726.3,622.8 727.8,622.4 729.3,621.9 730.8,621.5 732.3,621.0 733.8,620.6 735.3,620.2 736.8,619.9 738.3,619.5 739.8,619.1 741.3,618.8 742.8,618.5 744.3,618.1 745.8,617.8 747.3,617.5 748.8,617.3 750.3,617.0 751.8,616.8 753.3,616.5 754.8,616.3 756.3,616.1 757.8,615.9 759.3,615.8 760.8,615.6 762.3,615.5 763.8,615.3 765.3,615.2 766.8,615.1 768.3,615.1 769.8,615.0 771.3,615.0 772.8,614.9 774.3,614.9 775.8,614.9 777.3,614.9 778.8,615.0 780.3,615.0 781.8,615.1 783.3,615.2 784.8,615.3 786.3,615.4 787.8,615.5 789.3,615.7 790.8,615.8 792.3,616.0 793.8,616.2 795.3,616.4 796.8,616.7 798.3,616.9 799.8,617.2 801.3,617.5 802.8,617.8 804.3,618.1 805.8,618.4 807.3,618.8 808.8,619.1 810.3,619.5 811.8,619.9 813.3,620.3 814.8,620.7 816.3,621.2 817.8,621.7 819.3,622.1 820.8,622.6 822.3,623.1 823.8,623.7 825.3,624.2 826.8,624.8 828.3,625.4 829.8,626.0 831.3,626.6 832.8,627.2 834.3,627.8 835.8,628.5 837.3,629.2 838.8,629.8 840.3,630.5 841.8,631.3 843.3,632.0 844.8,632.7 846.3,633.5 847.8,634.3 849.3,635.1 850.8,635.9 852.3,636.7 853.8,637.5 855.3,638.4 856.8,639.2 858.3,640.1 859.8,641.0 861.3,641.9 862.8,642.8 864.3,643.7 865.8,644.7 867.3,645.6 868.8,646.6 870.3,647.6 871.8,648.6 873.3,649.6 874.8,650.6 876.3,651.6 877.8,652.6 879.3,653.7 880.8,654.7 882.3,655.8 883.8,656.9 885.3,658.0 886.8,659.0 888.3,660.1 889.8,661.3 891.3,662.4 892.8,663.5 894.3,664.6 895.8,665.8 897.3,666.9 898.8,668.1 900.3,669.2 901.8,670.4 903.3,671.6 904.8,672.8 906.3,674.0 907.8,675.1 909.3,676.3 910.8,677.5 912.3,678.7 913.8,679.9 915.3,681.2 916.8,682.4 918.3,683.6 919.8,684.8 921.3,686.0 922.8,687.2 924.3,688.5 925.8,689.7 927.3,690.9 928.8,692.1 930.3,693.4 931.8,694.6 933.3,695.8 934.8,697.0 936.3,698.2 937.8,699.5 939.3,700.7 940.8,701.9 942.3,703.1 943.8,704.3 945.3,705.5 946.8,706.7 948.3,707.9 949.8,709.1 951.3,710.3 952.8,711.4 954.3,712.6 955.8,713.8 957.3,714.9 958.8,716.1 960.3,717.2 961.8,718.3 963.3,719.5 964.8,720.6 966.3,721.7 967.8,722.8 969.3,723.9 970.8,725.0 972.3,726.0 973.8,727.1 975.3,728.2 976.8,729.2 978.3,730.2 979.8,731.2 981.3,732.3 982.8,733.2 984.3,734.2 985.8,735.2 987.3,736.2 988.8,737.1 990.3,738.0 991.8,739.0 993.3,739.9 994.8,740.8 996.3,741.6 997.8,742.5 999.3,743.4 1000.8,744.2 1002.3,745.0 1003.8,745.8 1005.3,746.6 1006.8,747.4 1008.3,748.2 1009.8,748.9 1011.3,749.7 1012.8,750.4 1014.3,751.1 1015.8,751.8 1017.3,752.5 1018.8,753.1 1020.3,753.8 1021.8,754.4 1023.3,755.0 1024.8,755.6 1026.3,756.2 1027.8,756.7 1029.3,757.3 1030.8,757.8 1032.3,758.3 1033.8,758.8 1035.3,759.3 1036.8,759.8 1038.3,760.3 1039.8,760.7 1041.3,761.1 1042.8,761.5 1044.3,761.9 1045.8,762.3 1047.3,762.7 1048.8,763.0 1050.3,763.4 1051.8,763.7 1053.3,764.0 1054.8,764.3 1056.3,764.6 1057.8,764.8 1059.3,765.1 1060.8,765.3 1062.3,765.5 1063.8,765.7 1065.3,765.9 1066.8,766.1 1068.3,766.3 1069.8,766.4 1071.3,766.6 1072.8,766.7 1074.3,766.8 1075.8,767.0 1077.3,767.0 1078.8,767.1 1080.3,767.2 1081.8,767.3 1083.3,767.3 1084.8,767.4 1086.3,767.4 1087.8,767.4 1089.3,767.4 1090.8,767.4 1092.3,767.4 1093.8,767.4 1095.3,767.4 1096.8,767.4 1098.3,767.3 1099.8,767.3 1101.3,767.2 1102.8,767.2 1104.3,767.1 1105.8,767.0 1107.3,767.0 1108.8,766.9 1110.3,766.8 1111.8,766.7 1113.3,766.6 1114.8,766.5 1116.3,766.4 1117.8,766.3 1119.3,766.2 1120.8,766.1 1122.3,765.9 1123.8,765.8 1125.3,765.7 1126.8,765.6 1128.3,765.4 1129.8,765.3 1131.3,765.2 1132.8,765.0 1134.3,764.9 1135.8,764.8 1137.3,764.7 1138.8,764.5 1140.3,764.4 1141.8,764.3 1143.3,764.1 1144.8,764.0 1146.3,763.9 1147.8,763.8 1149.3,763.7 1150.8,763.5 1152.3,763.4 1153.8,763.3 1155.3,763.2 1156.8,763.1 1158.3,763.0 1159.8,762.9 1161.3,762.8 1162.8,762.8 1164.3,762.7 1165.8,762.6 1167.3,762.5 1168.8,762.5 1170.3,762.4 1171.8,762.4 1173.3,762.3 1174.8,762.3 1176.3,762.2 1177.8,762.2 1179.3,762.2 1180.8,762.2 1182.3,762.1 1183.8,762.1 1185.3,762.1 1186.8,762.2 1188.3,762.2 1189.8,762.2 1191.3,762.2 1192.8,762.3 1194.3,762.3 1195.8,762.4 1197.3,762.4 1198.8,762.5 1200.3,762.6 1201.8,762.6 1203.3,762.7 1204.8,762.8 1206.3,762.9 1207.8,763.0 1209.3,763.1 1210.8,763.3 1212.3,763.4 1213.8,763.5 1215.3,763.7 1216.8,763.8 1218.3,764.0 1219.8,764.1 1221.3,764.3 1222.8,764.5 1224.3,764.7 1225.8,764.8 1227.3,765.0 1228.8,765.2 1230.3,765.4 1231.8,765.7 1233.3,765.9 1234.8,766.1 1236.3,766.3 1237.8,766.6 1239.3,766.8 1240.8,767.0 1242.3,767.3 1243.8,767.5 1245.3,767.8 1246.8,768.0 1248.3,768.3 1249.8,768.6 1251.3,768.8 1252.8,769.1 1254.3,769.4 1255.8,769.7 1257.3,769.9 1258.8,770.2 1260.3,770.5 1261.8,770.8 1263.3,771.1 1264.8,771.4 1266.3,771.7 1267.8,772.0 1269.3,772.3 1270.8,772.6 1272.3,772.9 1273.8,773.2 1275.3,773.5 1276.8,773.8 1278.3,774.1 1279.8,774.4 1281.3,774.7 1282.8,775.0 1284.3,775.3 1285.8,775.6 1287.3,775.9 1288.8,776.2 1290.3,776.5 1291.8,776.8 1293.3,777.1 1294.8,777.4 1296.3,777.7 1297.8,778.0 1299.3,778.3 1300.8,778.6 1302.3,778.9 1303.8,779.2 1305.3,779.5 1306.8,779.7 1308.3,780.0 1309.8,780.3 1311.3,780.6 1312.8,780.8 1314.3,781.1 1315.8,781.4 1317.3,781.6 1318.8,781.9 1320.3,782.2 1321.8,782.4 1323.3,782.7 1324.8,782.9 1326.3,783.2 1327.8,783.4 1329.3,783.6 1330.8,783.9 1332.3,784.1 1333.8,784.3 1335.3,784.6 1336.8,784.8 1338.3,785.0 1339.8,785.2 1341.3,785.4 1342.8,785.6 1344.3,785.8 1345.8,786.0 1347.3,786.2 1348.8,786.4 1350.3,786.6 1351.8,786.8 1353.3,787.0 1354.8,787.2 1356.3,787.3 1357.8,787.5 1359.3,787.7 1360.8,787.8 1362.3,788.0 1363.8,788.1 1365.3,788.3 1366.8,788.4 1368.3,788.6 1369.8,788.7 1371.3,788.9 1372.8,789.0 1374.3,789.1 1375.8,789.3 1377.3,789.4 1378.8,789.5 1380.3,789.6 1381.8,789.7 1383.3,789.8 1384.8,790.0 1386.3,790.1 1387.8,790.2 1389.3,790.3 1390.8,790.4 1392.3,790.5 1393.8,790.6 1395.3,790.6 1396.8,790.7 1398.3,790.8 1399.8,790.9 1401.3,791.0 1402.8,791.1 1404.3,791.1 1405.8,791.2 1407.3,791.3 1408.8,791.3 1410.3,791.4 1411.8,791.5 1413.3,791.5 1414.8,791.6 1416.3,791.6 1417.8,791.7 1419.3,791.7 1420.8,791.8 1422.3,791.8 1423.8,791.9 1425.3,791.9 1426.8,792.0 1428.3,792.0 1429.8,792.1 1431.3,792.1 1432.8,792.1 1434.3,792.2 1435.8,792.2 1437.3,792.3 1438.8,792.3 1440.3,792.3 1441.8,792.4 1443.3,792.4 1444.8,792.4 1446.3,792.4 1447.8,792.5 1449.3,792.5 1450.8,792.5 1452.3,792.5 1453.8,792.6 1455.3,792.6 1456.8,792.6 1458.3,792.6 1459.8,792.6 1461.3,792.6 1462.8,792.7 1464.3,792.7 1465.8,792.7 1467.3,792.7 1468.8,792.7 1470.3,792.7 1471.8,792.8 1473.3,792.8 1474.8,792.8 1476.3,792.8 1477.8,792.8 1479.3,792.8 1480.8,792.8 1482.3,792.8 1483.8,792.8 1485.3,792.8 1486.8,792.9 1488.3,792.9 1489.8,792.9 1491.3,792.9 1492.8,792.9 1494.3,792.9 1495.8,792.9 1497.3,792.9 1498.8,792.9 1500.3,792.9 1501.8,792.9 1503.3,792.9 1504.8,792.9 1506.3,792.9 1507.8,792.9 1509.3,792.9 1510.8,792.9 1512.3,792.9 1513.8,792.9 1515.3,793.0 1516.8,793.0 1518.3,793.0 1519.8,793.0 1521.3,793.0 1522.8,793.0 1524.3,793.0 1525.8,793.0 1527.3,793.0 1528.8,793.0 1530.3,793.0 1531.8,793.0 1533.3,793.0 1534.8,793.0 1536.3,793.0 1537.8,793.0 1539.3,793.0 1540.8,793.0 1542.3,793.0 1543.8,793.0 1545.3,793.0 1546.8,793.0 1548.3,793.0 1549.8,793.0 1551.3,793.0 1552.8,793.0 1554.3,793.0 1555.8,793.0 1557.3,793.0 1558.8,793.0 1560.3,793.0 1561.8,793.0 1563.3,793.0 1564.8,793.0 1566.3,793.0 1567.8,793.0 1569.3,793.0 1570.8,793.0 1572.3,793.0 1573.8,793.0 1575.3,793.0 1576.8,793.0 1578.3,793.0 1579.8,793.0 1581.3,793.0 1582.8,793.0 1584.3,793.0 1585.8,793.0 1587.3,793.0 1588.8,793.0 1590.3,793.0 1591.8,793.0 1593.3,793.0 1594.8,793.0 1596.3,793.0 1597.8,793.0 1599.3,793.0 1600.8,793.0 1602.3,793.0 1603.8,793.0 1605.3,793.0 1606.8,793.0 1608.3,793.0 1609.8,793.0 1611.3,793.0 1612.8,793.0 1614.3,793.0 1615.8,793.0 1617.3,793.0 1618.8,793.0 1620.3,793.0 1621.8,793.0 1623.3,793.0 1624.8,793.0 1626.3,793.0 1627.8,793.0 1629.3,793.0 1630.8,793.0 1632.3,793.0 1633.8,793.0 1635.3,793.0 1636.8,793.0 1638.3,793.0 1639.8,793.0 1641.3,793.0 1642.8,793.0 1644.3,793.0 1645.8,793.0 1647.3,793.0 1648.8,793.0 1650.3,793.0 1651.8,793.0 1653.3,793.0 1654.8,793.0 1656.3,793.0 1657.8,793.0 1659.3,793.0 1660.8,793.0 1662.3,793.0 1663.8,793.0 1665.3,793.0 1666.8,793.0 1668.3,793.0 1669.8,793.0 1671.3,793.0 1672.8,793.0 1674.3,793.0 1675.8,793.0 1677.3,793.0 1678.8,793.0 1680.3,793.0 1681.8,793.0 1683.3,793.0 1684.8,793.0 1686.3,793.0 1687.8,793.0 1689.3,793.0 1690.8,793.0 1692.3,793.0 1693.8,793.0 1695.3,793.0 1696.8,793.0 1698.3,793.0 1699.8,793.0 1701.3,793.0 1702.8,793.0 1704.3,793.0 1705.8,793.0 1707.3,793.0 1708.8,793.0 1710.3,793.0 1711.8,793.0 1713.3,793.0 1714.8,793.0 1716.3,793.0 1717.8,793.0 1719.3,793.0 1720.8,793.0 1722.3,793.0 1723.8,793.0 1725.3,793.0 1726.8,793.0 1728.3,793.0 1729.8,793.0 1731.3,793.0 1732.8,793.0 1734.3,793.0 1735.8,793.0 1737.3,793.0 1738.8,793.0 1740.3,793.0 1741.8,793.0 1743.3,793.0 1744.8,793.0 1746.3,793.0 1747.8,793.0 1749.3,793.0 1750.8,793.0 1752.3,793.0 1753.8,793.0 1755.3,793.0 1756.8,793.0 1758.3,793.0 1759.8,793.0 1761.3,793.0 1762.8,793.0 1764.3,793.0 1765.8,793.0 1767.3,793.0 1768.8,793.0 1770.3,793.0 1771.8,793.0 1773.3,793.0 1774.8,793.0 1776.3,793.0 1777.8,793.0 1779.3,793.0 1780.8,793.0 1782.3,793.0 1783.8,793.0 1785.3,793.0 1786.8,793.0 1788.3,793.0 1789.8,793.0 1791.3,793.0 1792.8,793.0 1794.3,793.0 1795.8,793.0 1797.3,793.0 1798.8,793.0 1800.3,793.0 1801.8,793.0 1803.3,793.0 1804.8,793.0 1806.3,793.0 1807.8,793.0 1809.3,793.0 1810.8,793.0 1812.3,793.0 1813.8,793.0 1815.3,793.0 1816.8,793.0 1818.3,793.0 1819.8,793.0 1821.3,793.0 1822.8,793.0 1824.3,793.0 1825.8,793.0 1827.3,793.0 1828.2,793.0" fill="none" stroke="#000000" stroke-width="2" stroke-linejoin="round" shape-rendering="crispEdges"/>
<g fill="#000000" shape-rendering="crispEdges"><circle cx="729.0" cy="630.8" r="5.1"/><circle cx="757.9" cy="643.8" r="5.1"/><circle cx="732.9" cy="658.8" r="5.1"/><circle cx="767.9" cy="656.7" r="5.1"/><circle cx="590.8" cy="707.6" r="5.1"/><circle cx="668.4" cy="707.6" r="5.1"/><circle cx="733.5" cy="699.0" r="5.1"/><circle cx="731.0" cy="712.8" r="5.1"/><circle cx="767.4" cy="710.7" r="5.1"/><circle cx="725.7" cy="729.7" r="5.1"/><circle cx="625.7" cy="739.8" r="5.1"/><circle cx="679.6" cy="738.8" r="5.1"/><circle cx="729.9" cy="756.8" r="5.1"/><circle cx="583.8" cy="774.5" r="5.1"/><circle cx="597.6" cy="771.9" r="5.1"/><circle cx="630.4" cy="770.8" r="5.1"/><circle cx="549.4" cy="788.5" r="5.1"/><circle cx="836.9" cy="637.0" r="5.1"/><circle cx="851.8" cy="657.8" r="5.1"/><circle cx="857.8" cy="671.9" r="5.1"/><circle cx="877.6" cy="686.7" r="5.1"/><circle cx="924.7" cy="699.7" r="5.1"/><circle cx="805.7" cy="710.7" r="5.1"/><circle cx="866.6" cy="715.9" r="5.1"/><circle cx="797.9" cy="755.0" r="5.1"/><circle cx="843.7" cy="762.0" r="5.1"/><circle cx="863.8" cy="782.8" r="5.1"/><circle cx="906.7" cy="789.6" r="5.1"/><circle cx="951.5" cy="789.6" r="5.1"/><circle cx="1177.5" cy="768.8" r="5.1"/><circle cx="1192.4" cy="777.9" r="5.1"/><circle cx="1201.0" cy="783.1" r="5.1"/></g>
<g shape-rendering="crispEdges"><rect x="202" y="14" width="1" height="860" fill="#333333"/><rect x="202" y="14" width="1704" height="1" fill="#333333"/><rect x="1904" y="14" width="2" height="860" fill="#262626"/><rect x="202" y="872" width="1704" height="2" fill="#262626"/></g>
<g fill="#262626" shape-rendering="crispEdges"><rect x="495" y="874" width="2" height="7"/><rect x="913" y="874" width="2" height="7"/><rect x="1331" y="874" width="2" height="7"/><rect x="1749" y="874" width="2" height="7"/><rect x="194" y="255" width="8" height="2"/><rect x="194" y="389" width="8" height="2"/><rect x="194" y="523" width="8" height="2"/><rect x="194" y="658" width="8" height="2"/><rect x="194" y="792" width="8" height="2"/></g>
<g font-family="Liberation Sans, sans-serif" font-size="23" fill="#4D4D4D"><text x="496.0" y="905.5" text-anchor="middle">0.25</text><text x="914.0" y="905.5" text-anchor="middle">2.00</text><text x="1332.0" y="905.5" text-anchor="middle">16.00</text><text x="1750.0" y="905.5" text-anchor="middle">128.00</text><text x="187.5" y="265.6" text-anchor="end">West</text><text x="187.5" y="399.6" text-anchor="end">Latin America</text><text x="187.5" y="533.6" text-anchor="end">East Asia</text><text x="187.5" y="668.6" text-anchor="end">Others</text><text x="187.5" y="802.6" text-anchor="end">Sub-Saharan</text></g>
<text x="1053.7" y="939.7" text-anchor="middle" font-family="Liberation Sans, sans-serif" font-size="28.9" fill="#000000">dollars_per_day</text>
<text transform="translate(37.1,443.7) rotate(-90)" text-anchor="middle" font-family="Liberation Sans, sans-serif" font-size="28.9" fill="#000000">group</text>
</svg>
</body></html>
